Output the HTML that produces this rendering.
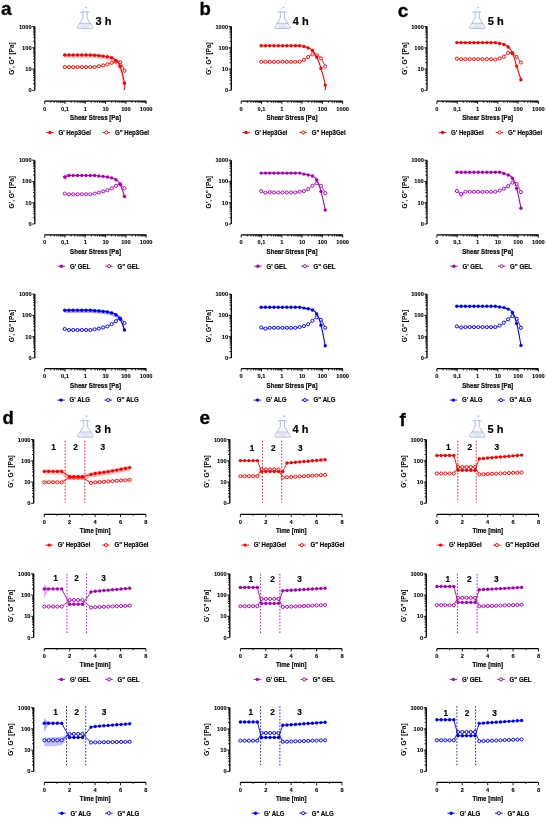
<!DOCTYPE html>
<html><head><meta charset="utf-8"><style>
html,body{margin:0;padding:0;background:#fff;width:546px;height:817px;overflow:hidden;position:relative}
svg text{font-family:"Liberation Sans", sans-serif}
svg{will-change:transform}
</style></head><body>
<svg width="546" height="817" viewBox="0 0 546 817" style="position:absolute;left:0;top:0;display:block" font-family='"Liberation Sans", sans-serif'>
<rect width="546" height="817" fill="#fff"/>
<text x="1.00" y="14.60" font-size="19" text-anchor="start" font-weight="bold" fill="#000" stroke="#000" stroke-width="0.3" >a</text>
<text x="199.40" y="14.60" font-size="18.5" text-anchor="start" font-weight="bold" fill="#000" stroke="#000" stroke-width="0.3" >b</text>
<text x="397.80" y="16.90" font-size="19" text-anchor="start" font-weight="bold" fill="#000" stroke="#000" stroke-width="0.3" >c</text>
<text x="2.40" y="424.30" font-size="18.5" text-anchor="start" font-weight="bold" fill="#000" stroke="#000" stroke-width="0.3" >d</text>
<text x="199.40" y="423.70" font-size="19" text-anchor="start" font-weight="bold" fill="#000" stroke="#000" stroke-width="0.3" >e</text>
<text x="399.60" y="426.00" font-size="18.5" text-anchor="start" font-weight="bold" fill="#000" stroke="#000" stroke-width="0.3" >f</text>
<g transform="translate(74.00,3.80)" fill="none" stroke="#9fb1dc" stroke-linejoin="round" stroke-linecap="round"><path d="M6.6 8.9 L7.2 8.1 H14.4 L15.0 8.9" stroke-width="0.85"/><path d="M8.9 8.4 V14.3 L3.6 23.3 Q3.0 24.6 4.4 24.6 H17.8 Q19.2 24.6 18.6 23.3 L13.1 14.3 V8.4" stroke-width="0.85"/><path d="M5.6 19.5 H16.6" stroke-width="0.8"/><path d="M7.0 20.9 H15.2 M6.2 22.3 H16.0 M7.6 23.5 H14.6" stroke-width="0.55" opacity="0.75"/></g><circle cx="86.10" cy="7.50" r="0.85" fill="#9fb1dc"/><circle cx="83.50" cy="9.30" r="0.5" fill="#9fb1dc"/>
<text x="95.60" y="25.10" font-size="11" text-anchor="start" font-weight="bold" fill="#000" stroke="#000" stroke-width="0.2" >3 h</text>
<g transform="translate(74.30,412.50)" fill="none" stroke="#9fb1dc" stroke-linejoin="round" stroke-linecap="round"><path d="M6.6 8.9 L7.2 8.1 H14.4 L15.0 8.9" stroke-width="0.85"/><path d="M8.9 8.4 V14.3 L3.6 23.3 Q3.0 24.6 4.4 24.6 H17.8 Q19.2 24.6 18.6 23.3 L13.1 14.3 V8.4" stroke-width="0.85"/><path d="M5.6 19.5 H16.6" stroke-width="0.8"/><path d="M7.0 20.9 H15.2 M6.2 22.3 H16.0 M7.6 23.5 H14.6" stroke-width="0.55" opacity="0.75"/></g><circle cx="86.40" cy="416.20" r="0.85" fill="#9fb1dc"/><circle cx="83.80" cy="418.00" r="0.5" fill="#9fb1dc"/>
<text x="95.00" y="432.90" font-size="11" text-anchor="start" font-weight="bold" fill="#000" stroke="#000" stroke-width="0.2" >3 h</text>
<g transform="translate(271.40,3.80)" fill="none" stroke="#9fb1dc" stroke-linejoin="round" stroke-linecap="round"><path d="M6.6 8.9 L7.2 8.1 H14.4 L15.0 8.9" stroke-width="0.85"/><path d="M8.9 8.4 V14.3 L3.6 23.3 Q3.0 24.6 4.4 24.6 H17.8 Q19.2 24.6 18.6 23.3 L13.1 14.3 V8.4" stroke-width="0.85"/><path d="M5.6 19.5 H16.6" stroke-width="0.8"/><path d="M7.0 20.9 H15.2 M6.2 22.3 H16.0 M7.6 23.5 H14.6" stroke-width="0.55" opacity="0.75"/></g><circle cx="283.50" cy="7.50" r="0.85" fill="#9fb1dc"/><circle cx="280.90" cy="9.30" r="0.5" fill="#9fb1dc"/>
<text x="292.80" y="25.10" font-size="11" text-anchor="start" font-weight="bold" fill="#000" stroke="#000" stroke-width="0.2" >4 h</text>
<g transform="translate(271.40,412.50)" fill="none" stroke="#9fb1dc" stroke-linejoin="round" stroke-linecap="round"><path d="M6.6 8.9 L7.2 8.1 H14.4 L15.0 8.9" stroke-width="0.85"/><path d="M8.9 8.4 V14.3 L3.6 23.3 Q3.0 24.6 4.4 24.6 H17.8 Q19.2 24.6 18.6 23.3 L13.1 14.3 V8.4" stroke-width="0.85"/><path d="M5.6 19.5 H16.6" stroke-width="0.8"/><path d="M7.0 20.9 H15.2 M6.2 22.3 H16.0 M7.6 23.5 H14.6" stroke-width="0.55" opacity="0.75"/></g><circle cx="283.50" cy="416.20" r="0.85" fill="#9fb1dc"/><circle cx="280.90" cy="418.00" r="0.5" fill="#9fb1dc"/>
<text x="292.60" y="432.90" font-size="11" text-anchor="start" font-weight="bold" fill="#000" stroke="#000" stroke-width="0.2" >4 h</text>
<g transform="translate(466.20,3.80)" fill="none" stroke="#9fb1dc" stroke-linejoin="round" stroke-linecap="round"><path d="M6.6 8.9 L7.2 8.1 H14.4 L15.0 8.9" stroke-width="0.85"/><path d="M8.9 8.4 V14.3 L3.6 23.3 Q3.0 24.6 4.4 24.6 H17.8 Q19.2 24.6 18.6 23.3 L13.1 14.3 V8.4" stroke-width="0.85"/><path d="M5.6 19.5 H16.6" stroke-width="0.8"/><path d="M7.0 20.9 H15.2 M6.2 22.3 H16.0 M7.6 23.5 H14.6" stroke-width="0.55" opacity="0.75"/></g><circle cx="478.30" cy="7.50" r="0.85" fill="#9fb1dc"/><circle cx="475.70" cy="9.30" r="0.5" fill="#9fb1dc"/>
<text x="487.80" y="25.10" font-size="11" text-anchor="start" font-weight="bold" fill="#000" stroke="#000" stroke-width="0.2" >5 h</text>
<g transform="translate(466.20,412.50)" fill="none" stroke="#9fb1dc" stroke-linejoin="round" stroke-linecap="round"><path d="M6.6 8.9 L7.2 8.1 H14.4 L15.0 8.9" stroke-width="0.85"/><path d="M8.9 8.4 V14.3 L3.6 23.3 Q3.0 24.6 4.4 24.6 H17.8 Q19.2 24.6 18.6 23.3 L13.1 14.3 V8.4" stroke-width="0.85"/><path d="M5.6 19.5 H16.6" stroke-width="0.8"/><path d="M7.0 20.9 H15.2 M6.2 22.3 H16.0 M7.6 23.5 H14.6" stroke-width="0.55" opacity="0.75"/></g><circle cx="478.30" cy="416.20" r="0.85" fill="#9fb1dc"/><circle cx="475.70" cy="418.00" r="0.5" fill="#9fb1dc"/>
<text x="487.60" y="432.90" font-size="11" text-anchor="start" font-weight="bold" fill="#000" stroke="#000" stroke-width="0.2" >5 h</text>
<path d="M34.80 26.50 V90.31" stroke="#000" stroke-width="1.3" fill="none"/>
<path d="M34.80 90.31 h-2.6 M34.80 83.91 h-1.7 M34.80 80.16 h-1.7 M34.80 77.50 h-1.7 M34.80 75.44 h-1.7 M34.80 73.76 h-1.7 M34.80 72.33 h-1.7 M34.80 71.10 h-1.7 M34.80 70.01 h-1.7 M34.80 69.04 h-2.6 M34.80 62.64 h-1.7 M34.80 58.89 h-1.7 M34.80 56.23 h-1.7 M34.80 54.17 h-1.7 M34.80 52.49 h-1.7 M34.80 51.06 h-1.7 M34.80 49.83 h-1.7 M34.80 48.74 h-1.7 M34.80 47.77 h-2.6 M34.80 41.37 h-1.7 M34.80 37.62 h-1.7 M34.80 34.96 h-1.7 M34.80 32.90 h-1.7 M34.80 31.22 h-1.7 M34.80 29.79 h-1.7 M34.80 28.56 h-1.7 M34.80 27.47 h-1.7 M34.80 26.50 h-2.6 " stroke="#000" stroke-width="0.9" fill="none"/>
<text x="31.60" y="28.50" font-size="5.7" text-anchor="end" font-weight="bold" fill="#000" stroke="#000" stroke-width="0.1" >1000</text>
<text x="31.60" y="49.77" font-size="5.7" text-anchor="end" font-weight="bold" fill="#000" stroke="#000" stroke-width="0.1" >100</text>
<text x="31.60" y="71.04" font-size="5.7" text-anchor="end" font-weight="bold" fill="#000" stroke="#000" stroke-width="0.1" >10</text>
<text x="31.60" y="92.31" font-size="5.7" text-anchor="end" font-weight="bold" fill="#000" stroke="#000" stroke-width="0.1" >0</text>
<text transform="translate(14.40,58.50) rotate(-90)" font-size="6.5" text-anchor="middle" font-weight="bold">G', G" [Pa]</text>
<path d="M44.70 101.10 H146.20" stroke="#000" stroke-width="1.3" fill="none"/>
<path d="M44.70 101.10 v2.8 M50.81 101.10 v1.7 M54.39 101.10 v1.7 M56.92 101.10 v1.7 M58.89 101.10 v1.7 M60.50 101.10 v1.7 M61.86 101.10 v1.7 M63.03 101.10 v1.7 M64.07 101.10 v1.7 M65.00 101.10 v2.8 M71.11 101.10 v1.7 M74.69 101.10 v1.7 M77.22 101.10 v1.7 M79.19 101.10 v1.7 M80.80 101.10 v1.7 M82.16 101.10 v1.7 M83.33 101.10 v1.7 M84.37 101.10 v1.7 M85.30 101.10 v2.8 M91.41 101.10 v1.7 M94.99 101.10 v1.7 M97.52 101.10 v1.7 M99.49 101.10 v1.7 M101.10 101.10 v1.7 M102.46 101.10 v1.7 M103.63 101.10 v1.7 M104.67 101.10 v1.7 M105.60 101.10 v2.8 M111.71 101.10 v1.7 M115.29 101.10 v1.7 M117.82 101.10 v1.7 M119.79 101.10 v1.7 M121.40 101.10 v1.7 M122.76 101.10 v1.7 M123.93 101.10 v1.7 M124.97 101.10 v1.7 M125.90 101.10 v2.8 M132.01 101.10 v1.7 M135.59 101.10 v1.7 M138.12 101.10 v1.7 M140.09 101.10 v1.7 M141.70 101.10 v1.7 M143.06 101.10 v1.7 M144.23 101.10 v1.7 M145.27 101.10 v1.7 M146.20 101.10 v2.8 " stroke="#000" stroke-width="0.9" fill="none"/>
<text x="44.70" y="110.50" font-size="5.7" text-anchor="middle" font-weight="bold" fill="#000" stroke="#000" stroke-width="0.1" >0</text>
<text x="65.00" y="110.50" font-size="5.7" text-anchor="middle" font-weight="bold" fill="#000" stroke="#000" stroke-width="0.1" >0,1</text>
<text x="85.30" y="110.50" font-size="5.7" text-anchor="middle" font-weight="bold" fill="#000" stroke="#000" stroke-width="0.1" >1</text>
<text x="105.60" y="110.50" font-size="5.7" text-anchor="middle" font-weight="bold" fill="#000" stroke="#000" stroke-width="0.1" >10</text>
<text x="125.90" y="110.50" font-size="5.7" text-anchor="middle" font-weight="bold" fill="#000" stroke="#000" stroke-width="0.1" >100</text>
<text x="146.20" y="110.50" font-size="5.7" text-anchor="middle" font-weight="bold" fill="#000" stroke="#000" stroke-width="0.1" >1000</text>
<text transform="translate(95.50,120.00) scale(1,1.2)" font-size="6.15" text-anchor="middle" font-weight="bold" fill="#000" stroke="#000" stroke-width="0.15" >Shear Stress [Pa]</text>
<path d="M46.10 132.50 H53.70" stroke="#ff0000" stroke-width="0.9"/>
<circle cx="49.90" cy="132.50" r="1.7" fill="#ff0000"/>
<text transform="translate(58.50,134.80) scale(1,1.2)" font-size="6.1" text-anchor="start" font-weight="bold" fill="#000" stroke="#000" stroke-width="0.15" >G' Hep3Gel</text>
<path d="M102.60 132.50 H110.20" stroke="#ff0000" stroke-width="0.9"/>
<circle cx="106.40" cy="132.50" r="1.55" fill="#fff" stroke="#ff0000" stroke-width="0.95"/>
<text transform="translate(115.00,134.80) scale(1,1.2)" font-size="6.1" text-anchor="start" font-weight="bold" fill="#000" stroke="#000" stroke-width="0.15" >G&quot; Hep3Gel</text>
<path d="M64.70 54.00 L68.97 54.00 L73.24 54.00 L77.51 54.00 L81.78 54.00 L86.05 54.00 L90.32 54.00 L94.59 54.30 L98.86 54.60 L103.13 55.10 L107.40 55.70 L111.67 56.80 L115.94 59.40 L120.21 65.20 L124.48 82.20 L124.48 89.20 L120.21 71.20 L115.94 64.40 L111.67 61.30 L107.40 59.50 L103.13 58.90 L98.86 58.40 L94.59 58.10 L90.32 57.80 L86.05 57.80 L81.78 57.80 L77.51 57.80 L73.24 57.80 L68.97 57.80 L64.70 57.80Z" fill="#ff8080" opacity="0.5"/>
<path d="M64.70 66.30 L68.97 66.30 L73.24 66.30 L77.51 66.30 L81.78 66.30 L86.05 66.30 L90.32 66.30 L94.59 66.30 L98.86 65.40 L103.13 64.70 L107.40 63.60 L111.67 62.10 L115.94 60.70 L120.21 61.40 L124.48 70.00 L124.48 71.60 L120.21 63.00 L115.94 62.30 L111.67 63.70 L107.40 65.20 L103.13 66.30 L98.86 67.00 L94.59 67.90 L90.32 67.90 L86.05 67.90 L81.78 67.90 L77.51 67.90 L73.24 67.90 L68.97 67.90 L64.70 67.90Z" fill="#ff8080" opacity="0.3"/>
<path d="M64.70 67.10 C65.84 67.10 66.69 67.10 68.97 67.10 C71.25 67.10 70.96 67.10 73.24 67.10 C75.52 67.10 75.23 67.10 77.51 67.10 C79.79 67.10 79.50 67.10 81.78 67.10 C84.06 67.10 83.77 67.10 86.05 67.10 C88.33 67.10 88.04 67.10 90.32 67.10 C92.60 67.10 92.31 67.34 94.59 67.10 C96.87 66.86 96.58 66.63 98.86 66.20 C101.14 65.77 100.85 65.98 103.13 65.50 C105.41 65.02 105.12 65.09 107.40 64.40 C109.68 63.71 109.39 63.67 111.67 62.90 C113.95 62.13 113.66 61.69 115.94 61.50 C118.22 61.31 117.93 59.72 120.21 62.20 C122.49 64.68 123.34 68.51 124.48 70.80" stroke="#ff0000" stroke-width="0.9" fill="none" stroke-linejoin="round"/><circle cx="64.70" cy="67.10" r="1.55" fill="#fff" stroke="#ff0000" stroke-width="0.95"/><circle cx="68.97" cy="67.10" r="1.55" fill="#fff" stroke="#ff0000" stroke-width="0.95"/><circle cx="73.24" cy="67.10" r="1.55" fill="#fff" stroke="#ff0000" stroke-width="0.95"/><circle cx="77.51" cy="67.10" r="1.55" fill="#fff" stroke="#ff0000" stroke-width="0.95"/><circle cx="81.78" cy="67.10" r="1.55" fill="#fff" stroke="#ff0000" stroke-width="0.95"/><circle cx="86.05" cy="67.10" r="1.55" fill="#fff" stroke="#ff0000" stroke-width="0.95"/><circle cx="90.32" cy="67.10" r="1.55" fill="#fff" stroke="#ff0000" stroke-width="0.95"/><circle cx="94.59" cy="67.10" r="1.55" fill="#fff" stroke="#ff0000" stroke-width="0.95"/><circle cx="98.86" cy="66.20" r="1.55" fill="#fff" stroke="#ff0000" stroke-width="0.95"/><circle cx="103.13" cy="65.50" r="1.55" fill="#fff" stroke="#ff0000" stroke-width="0.95"/><circle cx="107.40" cy="64.40" r="1.55" fill="#fff" stroke="#ff0000" stroke-width="0.95"/><circle cx="111.67" cy="62.90" r="1.55" fill="#fff" stroke="#ff0000" stroke-width="0.95"/><circle cx="115.94" cy="61.50" r="1.55" fill="#fff" stroke="#ff0000" stroke-width="0.95"/><circle cx="120.21" cy="62.20" r="1.55" fill="#fff" stroke="#ff0000" stroke-width="0.95"/><circle cx="124.48" cy="70.80" r="1.55" fill="#fff" stroke="#ff0000" stroke-width="0.95"/>
<path d="M64.70 55.00 C65.84 55.00 66.69 55.00 68.97 55.00 C71.25 55.00 70.96 55.00 73.24 55.00 C75.52 55.00 75.23 55.00 77.51 55.00 C79.79 55.00 79.50 55.00 81.78 55.00 C84.06 55.00 83.77 55.00 86.05 55.00 C88.33 55.00 88.04 54.92 90.32 55.00 C92.60 55.08 92.31 55.14 94.59 55.30 C96.87 55.46 96.58 55.39 98.86 55.60 C101.14 55.81 100.85 55.81 103.13 56.10 C105.41 56.39 105.12 56.25 107.40 56.70 C109.68 57.15 109.39 56.81 111.67 57.80 C113.95 58.79 113.66 58.16 115.94 60.40 C118.22 62.64 117.93 60.12 120.21 66.20 C122.49 72.28 123.47 76.85 124.48 83.20 C125.49 89.55 124.11 88.19 123.98 90.00" stroke="#ff0000" stroke-width="1.1" fill="none" stroke-linejoin="round"/><circle cx="64.70" cy="55.00" r="1.7" fill="#ff0000"/><circle cx="68.97" cy="55.00" r="1.7" fill="#ff0000"/><circle cx="73.24" cy="55.00" r="1.7" fill="#ff0000"/><circle cx="77.51" cy="55.00" r="1.7" fill="#ff0000"/><circle cx="81.78" cy="55.00" r="1.7" fill="#ff0000"/><circle cx="86.05" cy="55.00" r="1.7" fill="#ff0000"/><circle cx="90.32" cy="55.00" r="1.7" fill="#ff0000"/><circle cx="94.59" cy="55.30" r="1.7" fill="#ff0000"/><circle cx="98.86" cy="55.60" r="1.7" fill="#ff0000"/><circle cx="103.13" cy="56.10" r="1.7" fill="#ff0000"/><circle cx="107.40" cy="56.70" r="1.7" fill="#ff0000"/><circle cx="111.67" cy="57.80" r="1.7" fill="#ff0000"/><circle cx="115.94" cy="60.40" r="1.7" fill="#ff0000"/><circle cx="120.21" cy="66.20" r="1.7" fill="#ff0000"/><circle cx="124.48" cy="83.20" r="1.7" fill="#ff0000"/>
<path d="M231.30 26.50 V90.31" stroke="#000" stroke-width="1.3" fill="none"/>
<path d="M231.30 90.31 h-2.6 M231.30 83.91 h-1.7 M231.30 80.16 h-1.7 M231.30 77.50 h-1.7 M231.30 75.44 h-1.7 M231.30 73.76 h-1.7 M231.30 72.33 h-1.7 M231.30 71.10 h-1.7 M231.30 70.01 h-1.7 M231.30 69.04 h-2.6 M231.30 62.64 h-1.7 M231.30 58.89 h-1.7 M231.30 56.23 h-1.7 M231.30 54.17 h-1.7 M231.30 52.49 h-1.7 M231.30 51.06 h-1.7 M231.30 49.83 h-1.7 M231.30 48.74 h-1.7 M231.30 47.77 h-2.6 M231.30 41.37 h-1.7 M231.30 37.62 h-1.7 M231.30 34.96 h-1.7 M231.30 32.90 h-1.7 M231.30 31.22 h-1.7 M231.30 29.79 h-1.7 M231.30 28.56 h-1.7 M231.30 27.47 h-1.7 M231.30 26.50 h-2.6 " stroke="#000" stroke-width="0.9" fill="none"/>
<text x="228.10" y="28.50" font-size="5.7" text-anchor="end" font-weight="bold" fill="#000" stroke="#000" stroke-width="0.1" >1000</text>
<text x="228.10" y="49.77" font-size="5.7" text-anchor="end" font-weight="bold" fill="#000" stroke="#000" stroke-width="0.1" >100</text>
<text x="228.10" y="71.04" font-size="5.7" text-anchor="end" font-weight="bold" fill="#000" stroke="#000" stroke-width="0.1" >10</text>
<text x="228.10" y="92.31" font-size="5.7" text-anchor="end" font-weight="bold" fill="#000" stroke="#000" stroke-width="0.1" >0</text>
<text transform="translate(210.90,58.50) rotate(-90)" font-size="6.5" text-anchor="middle" font-weight="bold">G', G" [Pa]</text>
<path d="M241.20 101.10 H342.70" stroke="#000" stroke-width="1.3" fill="none"/>
<path d="M241.20 101.10 v2.8 M247.31 101.10 v1.7 M250.89 101.10 v1.7 M253.42 101.10 v1.7 M255.39 101.10 v1.7 M257.00 101.10 v1.7 M258.36 101.10 v1.7 M259.53 101.10 v1.7 M260.57 101.10 v1.7 M261.50 101.10 v2.8 M267.61 101.10 v1.7 M271.19 101.10 v1.7 M273.72 101.10 v1.7 M275.69 101.10 v1.7 M277.30 101.10 v1.7 M278.66 101.10 v1.7 M279.83 101.10 v1.7 M280.87 101.10 v1.7 M281.80 101.10 v2.8 M287.91 101.10 v1.7 M291.49 101.10 v1.7 M294.02 101.10 v1.7 M295.99 101.10 v1.7 M297.60 101.10 v1.7 M298.96 101.10 v1.7 M300.13 101.10 v1.7 M301.17 101.10 v1.7 M302.10 101.10 v2.8 M308.21 101.10 v1.7 M311.79 101.10 v1.7 M314.32 101.10 v1.7 M316.29 101.10 v1.7 M317.90 101.10 v1.7 M319.26 101.10 v1.7 M320.43 101.10 v1.7 M321.47 101.10 v1.7 M322.40 101.10 v2.8 M328.51 101.10 v1.7 M332.09 101.10 v1.7 M334.62 101.10 v1.7 M336.59 101.10 v1.7 M338.20 101.10 v1.7 M339.56 101.10 v1.7 M340.73 101.10 v1.7 M341.77 101.10 v1.7 M342.70 101.10 v2.8 " stroke="#000" stroke-width="0.9" fill="none"/>
<text x="241.20" y="110.50" font-size="5.7" text-anchor="middle" font-weight="bold" fill="#000" stroke="#000" stroke-width="0.1" >0</text>
<text x="261.50" y="110.50" font-size="5.7" text-anchor="middle" font-weight="bold" fill="#000" stroke="#000" stroke-width="0.1" >0,1</text>
<text x="281.80" y="110.50" font-size="5.7" text-anchor="middle" font-weight="bold" fill="#000" stroke="#000" stroke-width="0.1" >1</text>
<text x="302.10" y="110.50" font-size="5.7" text-anchor="middle" font-weight="bold" fill="#000" stroke="#000" stroke-width="0.1" >10</text>
<text x="322.40" y="110.50" font-size="5.7" text-anchor="middle" font-weight="bold" fill="#000" stroke="#000" stroke-width="0.1" >100</text>
<text x="342.70" y="110.50" font-size="5.7" text-anchor="middle" font-weight="bold" fill="#000" stroke="#000" stroke-width="0.1" >1000</text>
<text transform="translate(292.00,120.00) scale(1,1.2)" font-size="6.15" text-anchor="middle" font-weight="bold" fill="#000" stroke="#000" stroke-width="0.15" >Shear Stress [Pa]</text>
<path d="M242.30 132.50 H249.90" stroke="#ff0000" stroke-width="0.9"/>
<circle cx="246.10" cy="132.50" r="1.7" fill="#ff0000"/>
<text transform="translate(254.70,134.80) scale(1,1.2)" font-size="6.1" text-anchor="start" font-weight="bold" fill="#000" stroke="#000" stroke-width="0.15" >G' Hep3Gel</text>
<path d="M299.30 132.50 H306.90" stroke="#ff0000" stroke-width="0.9"/>
<circle cx="303.10" cy="132.50" r="1.55" fill="#fff" stroke="#ff0000" stroke-width="0.95"/>
<text transform="translate(311.70,134.80) scale(1,1.2)" font-size="6.1" text-anchor="start" font-weight="bold" fill="#000" stroke="#000" stroke-width="0.15" >G&quot; Hep3Gel</text>
<path d="M261.20 61.80 C262.34 61.80 263.19 61.80 265.47 61.80 C267.75 61.80 267.46 61.80 269.74 61.80 C272.02 61.80 271.73 61.80 274.01 61.80 C276.29 61.80 276.00 61.80 278.28 61.80 C280.56 61.80 280.27 61.80 282.55 61.80 C284.83 61.80 284.54 61.80 286.82 61.80 C289.10 61.80 288.81 61.80 291.09 61.80 C293.37 61.80 293.08 61.80 295.36 61.80 C297.64 61.80 297.35 62.31 299.63 61.80 C301.91 61.29 301.62 61.18 303.90 59.90 C306.18 58.62 305.89 58.49 308.17 57.00 C310.45 55.51 310.16 54.78 312.44 54.30 C314.72 53.82 314.43 54.11 316.71 55.20 C318.99 56.29 318.70 55.39 320.98 58.40 C323.26 61.41 324.11 64.34 325.25 66.50" stroke="#ff0000" stroke-width="0.9" fill="none" stroke-linejoin="round"/><circle cx="261.20" cy="61.80" r="1.55" fill="#fff" stroke="#ff0000" stroke-width="0.95"/><circle cx="265.47" cy="61.80" r="1.55" fill="#fff" stroke="#ff0000" stroke-width="0.95"/><circle cx="269.74" cy="61.80" r="1.55" fill="#fff" stroke="#ff0000" stroke-width="0.95"/><circle cx="274.01" cy="61.80" r="1.55" fill="#fff" stroke="#ff0000" stroke-width="0.95"/><circle cx="278.28" cy="61.80" r="1.55" fill="#fff" stroke="#ff0000" stroke-width="0.95"/><circle cx="282.55" cy="61.80" r="1.55" fill="#fff" stroke="#ff0000" stroke-width="0.95"/><circle cx="286.82" cy="61.80" r="1.55" fill="#fff" stroke="#ff0000" stroke-width="0.95"/><circle cx="291.09" cy="61.80" r="1.55" fill="#fff" stroke="#ff0000" stroke-width="0.95"/><circle cx="295.36" cy="61.80" r="1.55" fill="#fff" stroke="#ff0000" stroke-width="0.95"/><circle cx="299.63" cy="61.80" r="1.55" fill="#fff" stroke="#ff0000" stroke-width="0.95"/><circle cx="303.90" cy="59.90" r="1.55" fill="#fff" stroke="#ff0000" stroke-width="0.95"/><circle cx="308.17" cy="57.00" r="1.55" fill="#fff" stroke="#ff0000" stroke-width="0.95"/><circle cx="312.44" cy="54.30" r="1.55" fill="#fff" stroke="#ff0000" stroke-width="0.95"/><circle cx="316.71" cy="55.20" r="1.55" fill="#fff" stroke="#ff0000" stroke-width="0.95"/><circle cx="320.98" cy="58.40" r="1.55" fill="#fff" stroke="#ff0000" stroke-width="0.95"/><circle cx="325.25" cy="66.50" r="1.55" fill="#fff" stroke="#ff0000" stroke-width="0.95"/>
<path d="M261.20 45.70 C262.34 45.70 263.19 45.70 265.47 45.70 C267.75 45.70 267.46 45.70 269.74 45.70 C272.02 45.70 271.73 45.70 274.01 45.70 C276.29 45.70 276.00 45.70 278.28 45.70 C280.56 45.70 280.27 45.70 282.55 45.70 C284.83 45.70 284.54 45.70 286.82 45.70 C289.10 45.70 288.81 45.70 291.09 45.70 C293.37 45.70 293.08 45.70 295.36 45.70 C297.64 45.70 297.35 45.51 299.63 45.70 C301.91 45.89 301.62 45.81 303.90 46.40 C306.18 46.99 305.89 46.83 308.17 47.90 C310.45 48.97 310.16 47.97 312.44 50.40 C314.72 52.83 314.43 52.20 316.71 57.00 C318.99 61.80 318.70 60.91 320.98 68.40 C323.26 75.89 324.24 79.34 325.25 85.10 C326.26 90.86 324.88 88.69 324.75 90.00" stroke="#ff0000" stroke-width="1.1" fill="none" stroke-linejoin="round"/><circle cx="261.20" cy="45.70" r="1.7" fill="#ff0000"/><circle cx="265.47" cy="45.70" r="1.7" fill="#ff0000"/><circle cx="269.74" cy="45.70" r="1.7" fill="#ff0000"/><circle cx="274.01" cy="45.70" r="1.7" fill="#ff0000"/><circle cx="278.28" cy="45.70" r="1.7" fill="#ff0000"/><circle cx="282.55" cy="45.70" r="1.7" fill="#ff0000"/><circle cx="286.82" cy="45.70" r="1.7" fill="#ff0000"/><circle cx="291.09" cy="45.70" r="1.7" fill="#ff0000"/><circle cx="295.36" cy="45.70" r="1.7" fill="#ff0000"/><circle cx="299.63" cy="45.70" r="1.7" fill="#ff0000"/><circle cx="303.90" cy="46.40" r="1.7" fill="#ff0000"/><circle cx="308.17" cy="47.90" r="1.7" fill="#ff0000"/><circle cx="312.44" cy="50.40" r="1.7" fill="#ff0000"/><circle cx="316.71" cy="57.00" r="1.7" fill="#ff0000"/><circle cx="320.98" cy="68.40" r="1.7" fill="#ff0000"/><circle cx="325.25" cy="85.10" r="1.7" fill="#ff0000"/>
<path d="M427.00 26.50 V90.31" stroke="#000" stroke-width="1.3" fill="none"/>
<path d="M427.00 90.31 h-2.6 M427.00 83.91 h-1.7 M427.00 80.16 h-1.7 M427.00 77.50 h-1.7 M427.00 75.44 h-1.7 M427.00 73.76 h-1.7 M427.00 72.33 h-1.7 M427.00 71.10 h-1.7 M427.00 70.01 h-1.7 M427.00 69.04 h-2.6 M427.00 62.64 h-1.7 M427.00 58.89 h-1.7 M427.00 56.23 h-1.7 M427.00 54.17 h-1.7 M427.00 52.49 h-1.7 M427.00 51.06 h-1.7 M427.00 49.83 h-1.7 M427.00 48.74 h-1.7 M427.00 47.77 h-2.6 M427.00 41.37 h-1.7 M427.00 37.62 h-1.7 M427.00 34.96 h-1.7 M427.00 32.90 h-1.7 M427.00 31.22 h-1.7 M427.00 29.79 h-1.7 M427.00 28.56 h-1.7 M427.00 27.47 h-1.7 M427.00 26.50 h-2.6 " stroke="#000" stroke-width="0.9" fill="none"/>
<text x="423.80" y="28.50" font-size="5.7" text-anchor="end" font-weight="bold" fill="#000" stroke="#000" stroke-width="0.1" >1000</text>
<text x="423.80" y="49.77" font-size="5.7" text-anchor="end" font-weight="bold" fill="#000" stroke="#000" stroke-width="0.1" >100</text>
<text x="423.80" y="71.04" font-size="5.7" text-anchor="end" font-weight="bold" fill="#000" stroke="#000" stroke-width="0.1" >10</text>
<text x="423.80" y="92.31" font-size="5.7" text-anchor="end" font-weight="bold" fill="#000" stroke="#000" stroke-width="0.1" >0</text>
<text transform="translate(406.60,58.50) rotate(-90)" font-size="6.5" text-anchor="middle" font-weight="bold">G', G" [Pa]</text>
<path d="M436.90 101.10 H538.40" stroke="#000" stroke-width="1.3" fill="none"/>
<path d="M436.90 101.10 v2.8 M443.01 101.10 v1.7 M446.59 101.10 v1.7 M449.12 101.10 v1.7 M451.09 101.10 v1.7 M452.70 101.10 v1.7 M454.06 101.10 v1.7 M455.23 101.10 v1.7 M456.27 101.10 v1.7 M457.20 101.10 v2.8 M463.31 101.10 v1.7 M466.89 101.10 v1.7 M469.42 101.10 v1.7 M471.39 101.10 v1.7 M473.00 101.10 v1.7 M474.36 101.10 v1.7 M475.53 101.10 v1.7 M476.57 101.10 v1.7 M477.50 101.10 v2.8 M483.61 101.10 v1.7 M487.19 101.10 v1.7 M489.72 101.10 v1.7 M491.69 101.10 v1.7 M493.30 101.10 v1.7 M494.66 101.10 v1.7 M495.83 101.10 v1.7 M496.87 101.10 v1.7 M497.80 101.10 v2.8 M503.91 101.10 v1.7 M507.49 101.10 v1.7 M510.02 101.10 v1.7 M511.99 101.10 v1.7 M513.60 101.10 v1.7 M514.96 101.10 v1.7 M516.13 101.10 v1.7 M517.17 101.10 v1.7 M518.10 101.10 v2.8 M524.21 101.10 v1.7 M527.79 101.10 v1.7 M530.32 101.10 v1.7 M532.29 101.10 v1.7 M533.90 101.10 v1.7 M535.26 101.10 v1.7 M536.43 101.10 v1.7 M537.47 101.10 v1.7 M538.40 101.10 v2.8 " stroke="#000" stroke-width="0.9" fill="none"/>
<text x="436.90" y="110.50" font-size="5.7" text-anchor="middle" font-weight="bold" fill="#000" stroke="#000" stroke-width="0.1" >0</text>
<text x="457.20" y="110.50" font-size="5.7" text-anchor="middle" font-weight="bold" fill="#000" stroke="#000" stroke-width="0.1" >0,1</text>
<text x="477.50" y="110.50" font-size="5.7" text-anchor="middle" font-weight="bold" fill="#000" stroke="#000" stroke-width="0.1" >1</text>
<text x="497.80" y="110.50" font-size="5.7" text-anchor="middle" font-weight="bold" fill="#000" stroke="#000" stroke-width="0.1" >10</text>
<text x="518.10" y="110.50" font-size="5.7" text-anchor="middle" font-weight="bold" fill="#000" stroke="#000" stroke-width="0.1" >100</text>
<text x="538.40" y="110.50" font-size="5.7" text-anchor="middle" font-weight="bold" fill="#000" stroke="#000" stroke-width="0.1" >1000</text>
<text transform="translate(487.70,120.00) scale(1,1.2)" font-size="6.15" text-anchor="middle" font-weight="bold" fill="#000" stroke="#000" stroke-width="0.15" >Shear Stress [Pa]</text>
<path d="M438.70 132.50 H446.30" stroke="#ff0000" stroke-width="0.9"/>
<circle cx="442.50" cy="132.50" r="1.7" fill="#ff0000"/>
<text transform="translate(451.10,134.80) scale(1,1.2)" font-size="6.1" text-anchor="start" font-weight="bold" fill="#000" stroke="#000" stroke-width="0.15" >G' Hep3Gel</text>
<path d="M495.70 132.50 H503.30" stroke="#ff0000" stroke-width="0.9"/>
<circle cx="499.50" cy="132.50" r="1.55" fill="#fff" stroke="#ff0000" stroke-width="0.95"/>
<text transform="translate(508.10,134.80) scale(1,1.2)" font-size="6.1" text-anchor="start" font-weight="bold" fill="#000" stroke="#000" stroke-width="0.15" >G&quot; Hep3Gel</text>
<path d="M456.90 58.70 C458.04 58.83 458.89 59.07 461.17 59.20 C463.45 59.33 463.16 59.20 465.44 59.20 C467.72 59.20 467.43 59.20 469.71 59.20 C471.99 59.20 471.70 59.20 473.98 59.20 C476.26 59.20 475.97 59.20 478.25 59.20 C480.53 59.20 480.24 59.20 482.52 59.20 C484.80 59.20 484.51 59.20 486.79 59.20 C489.07 59.20 488.78 59.09 491.06 59.20 C493.34 59.31 493.05 59.81 495.33 59.60 C497.61 59.39 497.32 59.17 499.60 58.40 C501.88 57.63 501.59 58.17 503.87 56.70 C506.15 55.23 505.86 53.81 508.14 52.90 C510.42 51.99 510.13 52.21 512.41 53.30 C514.69 54.39 514.40 54.55 516.68 57.00 C518.96 59.45 519.81 61.03 520.95 62.50" stroke="#ff0000" stroke-width="0.9" fill="none" stroke-linejoin="round"/><circle cx="456.90" cy="58.70" r="1.55" fill="#fff" stroke="#ff0000" stroke-width="0.95"/><circle cx="461.17" cy="59.20" r="1.55" fill="#fff" stroke="#ff0000" stroke-width="0.95"/><circle cx="465.44" cy="59.20" r="1.55" fill="#fff" stroke="#ff0000" stroke-width="0.95"/><circle cx="469.71" cy="59.20" r="1.55" fill="#fff" stroke="#ff0000" stroke-width="0.95"/><circle cx="473.98" cy="59.20" r="1.55" fill="#fff" stroke="#ff0000" stroke-width="0.95"/><circle cx="478.25" cy="59.20" r="1.55" fill="#fff" stroke="#ff0000" stroke-width="0.95"/><circle cx="482.52" cy="59.20" r="1.55" fill="#fff" stroke="#ff0000" stroke-width="0.95"/><circle cx="486.79" cy="59.20" r="1.55" fill="#fff" stroke="#ff0000" stroke-width="0.95"/><circle cx="491.06" cy="59.20" r="1.55" fill="#fff" stroke="#ff0000" stroke-width="0.95"/><circle cx="495.33" cy="59.60" r="1.55" fill="#fff" stroke="#ff0000" stroke-width="0.95"/><circle cx="499.60" cy="58.40" r="1.55" fill="#fff" stroke="#ff0000" stroke-width="0.95"/><circle cx="503.87" cy="56.70" r="1.55" fill="#fff" stroke="#ff0000" stroke-width="0.95"/><circle cx="508.14" cy="52.90" r="1.55" fill="#fff" stroke="#ff0000" stroke-width="0.95"/><circle cx="512.41" cy="53.30" r="1.55" fill="#fff" stroke="#ff0000" stroke-width="0.95"/><circle cx="516.68" cy="57.00" r="1.55" fill="#fff" stroke="#ff0000" stroke-width="0.95"/><circle cx="520.95" cy="62.50" r="1.55" fill="#fff" stroke="#ff0000" stroke-width="0.95"/>
<path d="M456.90 42.60 C458.04 42.60 458.89 42.60 461.17 42.60 C463.45 42.60 463.16 42.60 465.44 42.60 C467.72 42.60 467.43 42.60 469.71 42.60 C471.99 42.60 471.70 42.60 473.98 42.60 C476.26 42.60 475.97 42.60 478.25 42.60 C480.53 42.60 480.24 42.60 482.52 42.60 C484.80 42.60 484.51 42.60 486.79 42.60 C489.07 42.60 488.78 42.60 491.06 42.60 C493.34 42.60 493.05 42.36 495.33 42.60 C497.61 42.84 497.32 42.99 499.60 43.50 C501.88 44.01 501.59 43.57 503.87 44.50 C506.15 45.43 505.86 44.76 508.14 47.00 C510.42 49.24 510.13 47.81 512.41 52.90 C514.69 57.99 514.40 58.95 516.68 66.10 C518.96 73.25 519.81 76.07 520.95 79.70" stroke="#ff0000" stroke-width="1.1" fill="none" stroke-linejoin="round"/><circle cx="456.90" cy="42.60" r="1.7" fill="#ff0000"/><circle cx="461.17" cy="42.60" r="1.7" fill="#ff0000"/><circle cx="465.44" cy="42.60" r="1.7" fill="#ff0000"/><circle cx="469.71" cy="42.60" r="1.7" fill="#ff0000"/><circle cx="473.98" cy="42.60" r="1.7" fill="#ff0000"/><circle cx="478.25" cy="42.60" r="1.7" fill="#ff0000"/><circle cx="482.52" cy="42.60" r="1.7" fill="#ff0000"/><circle cx="486.79" cy="42.60" r="1.7" fill="#ff0000"/><circle cx="491.06" cy="42.60" r="1.7" fill="#ff0000"/><circle cx="495.33" cy="42.60" r="1.7" fill="#ff0000"/><circle cx="499.60" cy="43.50" r="1.7" fill="#ff0000"/><circle cx="503.87" cy="44.50" r="1.7" fill="#ff0000"/><circle cx="508.14" cy="47.00" r="1.7" fill="#ff0000"/><circle cx="512.41" cy="52.90" r="1.7" fill="#ff0000"/><circle cx="516.68" cy="66.10" r="1.7" fill="#ff0000"/><circle cx="520.95" cy="79.70" r="1.7" fill="#ff0000"/>
<path d="M34.80 160.20 V224.01" stroke="#000" stroke-width="1.3" fill="none"/>
<path d="M34.80 224.01 h-2.6 M34.80 217.61 h-1.7 M34.80 213.86 h-1.7 M34.80 211.20 h-1.7 M34.80 209.14 h-1.7 M34.80 207.46 h-1.7 M34.80 206.03 h-1.7 M34.80 204.80 h-1.7 M34.80 203.71 h-1.7 M34.80 202.74 h-2.6 M34.80 196.34 h-1.7 M34.80 192.59 h-1.7 M34.80 189.93 h-1.7 M34.80 187.87 h-1.7 M34.80 186.19 h-1.7 M34.80 184.76 h-1.7 M34.80 183.53 h-1.7 M34.80 182.44 h-1.7 M34.80 181.47 h-2.6 M34.80 175.07 h-1.7 M34.80 171.32 h-1.7 M34.80 168.66 h-1.7 M34.80 166.60 h-1.7 M34.80 164.92 h-1.7 M34.80 163.49 h-1.7 M34.80 162.26 h-1.7 M34.80 161.17 h-1.7 M34.80 160.20 h-2.6 " stroke="#000" stroke-width="0.9" fill="none"/>
<text x="31.60" y="162.20" font-size="5.7" text-anchor="end" font-weight="bold" fill="#000" stroke="#000" stroke-width="0.1" >1000</text>
<text x="31.60" y="183.47" font-size="5.7" text-anchor="end" font-weight="bold" fill="#000" stroke="#000" stroke-width="0.1" >100</text>
<text x="31.60" y="204.74" font-size="5.7" text-anchor="end" font-weight="bold" fill="#000" stroke="#000" stroke-width="0.1" >10</text>
<text x="31.60" y="226.01" font-size="5.7" text-anchor="end" font-weight="bold" fill="#000" stroke="#000" stroke-width="0.1" >0</text>
<text transform="translate(14.40,192.20) rotate(-90)" font-size="6.5" text-anchor="middle" font-weight="bold">G', G" [Pa]</text>
<path d="M44.70 234.80 H146.20" stroke="#000" stroke-width="1.3" fill="none"/>
<path d="M44.70 234.80 v2.8 M50.81 234.80 v1.7 M54.39 234.80 v1.7 M56.92 234.80 v1.7 M58.89 234.80 v1.7 M60.50 234.80 v1.7 M61.86 234.80 v1.7 M63.03 234.80 v1.7 M64.07 234.80 v1.7 M65.00 234.80 v2.8 M71.11 234.80 v1.7 M74.69 234.80 v1.7 M77.22 234.80 v1.7 M79.19 234.80 v1.7 M80.80 234.80 v1.7 M82.16 234.80 v1.7 M83.33 234.80 v1.7 M84.37 234.80 v1.7 M85.30 234.80 v2.8 M91.41 234.80 v1.7 M94.99 234.80 v1.7 M97.52 234.80 v1.7 M99.49 234.80 v1.7 M101.10 234.80 v1.7 M102.46 234.80 v1.7 M103.63 234.80 v1.7 M104.67 234.80 v1.7 M105.60 234.80 v2.8 M111.71 234.80 v1.7 M115.29 234.80 v1.7 M117.82 234.80 v1.7 M119.79 234.80 v1.7 M121.40 234.80 v1.7 M122.76 234.80 v1.7 M123.93 234.80 v1.7 M124.97 234.80 v1.7 M125.90 234.80 v2.8 M132.01 234.80 v1.7 M135.59 234.80 v1.7 M138.12 234.80 v1.7 M140.09 234.80 v1.7 M141.70 234.80 v1.7 M143.06 234.80 v1.7 M144.23 234.80 v1.7 M145.27 234.80 v1.7 M146.20 234.80 v2.8 " stroke="#000" stroke-width="0.9" fill="none"/>
<text x="44.70" y="244.20" font-size="5.7" text-anchor="middle" font-weight="bold" fill="#000" stroke="#000" stroke-width="0.1" >0</text>
<text x="65.00" y="244.20" font-size="5.7" text-anchor="middle" font-weight="bold" fill="#000" stroke="#000" stroke-width="0.1" >0,1</text>
<text x="85.30" y="244.20" font-size="5.7" text-anchor="middle" font-weight="bold" fill="#000" stroke="#000" stroke-width="0.1" >1</text>
<text x="105.60" y="244.20" font-size="5.7" text-anchor="middle" font-weight="bold" fill="#000" stroke="#000" stroke-width="0.1" >10</text>
<text x="125.90" y="244.20" font-size="5.7" text-anchor="middle" font-weight="bold" fill="#000" stroke="#000" stroke-width="0.1" >100</text>
<text x="146.20" y="244.20" font-size="5.7" text-anchor="middle" font-weight="bold" fill="#000" stroke="#000" stroke-width="0.1" >1000</text>
<text transform="translate(95.50,253.70) scale(1,1.2)" font-size="6.15" text-anchor="middle" font-weight="bold" fill="#000" stroke="#000" stroke-width="0.15" >Shear Stress [Pa]</text>
<path d="M57.60 266.20 H65.20" stroke="#ae00bc" stroke-width="0.9"/>
<circle cx="61.40" cy="266.20" r="1.7" fill="#ae00bc"/>
<text transform="translate(70.00,268.50) scale(1,1.2)" font-size="6.1" text-anchor="start" font-weight="bold" fill="#000" stroke="#000" stroke-width="0.15" >G' GEL</text>
<path d="M105.20 266.20 H112.80" stroke="#ae00bc" stroke-width="0.9"/>
<circle cx="109.00" cy="266.20" r="1.55" fill="#fff" stroke="#ae00bc" stroke-width="0.95"/>
<text transform="translate(117.60,268.50) scale(1,1.2)" font-size="6.1" text-anchor="start" font-weight="bold" fill="#000" stroke="#000" stroke-width="0.15" >G&quot; GEL</text>
<path d="M64.70 173.50 L65.90 174.00 L68.97 175.20 L68.97 175.80 L65.90 180.00 L64.70 181.70Z" fill="#d070f0" opacity="0.6"/>
<path d="M64.70 193.60 C65.84 193.79 66.69 194.11 68.97 194.30 C71.25 194.49 70.96 194.30 73.24 194.30 C75.52 194.30 75.23 194.30 77.51 194.30 C79.79 194.30 79.50 194.30 81.78 194.30 C84.06 194.30 83.77 194.30 86.05 194.30 C88.33 194.30 88.04 194.49 90.32 194.30 C92.60 194.11 92.31 194.08 94.59 193.60 C96.87 193.12 96.58 193.09 98.86 192.50 C101.14 191.91 100.85 192.01 103.13 191.40 C105.41 190.79 105.12 191.00 107.40 190.20 C109.68 189.40 109.39 189.57 111.67 188.40 C113.95 187.23 113.66 186.89 115.94 185.80 C118.22 184.71 117.93 183.61 120.21 184.30 C122.49 184.99 123.34 187.31 124.48 188.40" stroke="#ae00bc" stroke-width="0.9" fill="none" stroke-linejoin="round"/><circle cx="64.70" cy="193.60" r="1.55" fill="#fff" stroke="#ae00bc" stroke-width="0.95"/><circle cx="68.97" cy="194.30" r="1.55" fill="#fff" stroke="#ae00bc" stroke-width="0.95"/><circle cx="73.24" cy="194.30" r="1.55" fill="#fff" stroke="#ae00bc" stroke-width="0.95"/><circle cx="77.51" cy="194.30" r="1.55" fill="#fff" stroke="#ae00bc" stroke-width="0.95"/><circle cx="81.78" cy="194.30" r="1.55" fill="#fff" stroke="#ae00bc" stroke-width="0.95"/><circle cx="86.05" cy="194.30" r="1.55" fill="#fff" stroke="#ae00bc" stroke-width="0.95"/><circle cx="90.32" cy="194.30" r="1.55" fill="#fff" stroke="#ae00bc" stroke-width="0.95"/><circle cx="94.59" cy="193.60" r="1.55" fill="#fff" stroke="#ae00bc" stroke-width="0.95"/><circle cx="98.86" cy="192.50" r="1.55" fill="#fff" stroke="#ae00bc" stroke-width="0.95"/><circle cx="103.13" cy="191.40" r="1.55" fill="#fff" stroke="#ae00bc" stroke-width="0.95"/><circle cx="107.40" cy="190.20" r="1.55" fill="#fff" stroke="#ae00bc" stroke-width="0.95"/><circle cx="111.67" cy="188.40" r="1.55" fill="#fff" stroke="#ae00bc" stroke-width="0.95"/><circle cx="115.94" cy="185.80" r="1.55" fill="#fff" stroke="#ae00bc" stroke-width="0.95"/><circle cx="120.21" cy="184.30" r="1.55" fill="#fff" stroke="#ae00bc" stroke-width="0.95"/><circle cx="124.48" cy="188.40" r="1.55" fill="#fff" stroke="#ae00bc" stroke-width="0.95"/>
<path d="M64.70 177.00 C65.84 176.60 66.69 175.90 68.97 175.50 C71.25 175.10 70.96 175.50 73.24 175.50 C75.52 175.50 75.23 175.50 77.51 175.50 C79.79 175.50 79.50 175.50 81.78 175.50 C84.06 175.50 83.77 175.50 86.05 175.50 C88.33 175.50 88.04 175.50 90.32 175.50 C92.60 175.50 92.31 175.37 94.59 175.50 C96.87 175.63 96.58 175.76 98.86 176.00 C101.14 176.24 100.85 176.13 103.13 176.40 C105.41 176.67 105.12 176.60 107.40 177.00 C109.68 177.40 109.39 177.18 111.67 177.90 C113.95 178.62 113.66 177.97 115.94 179.70 C118.22 181.43 117.93 179.92 120.21 184.40 C122.49 188.88 123.34 193.27 124.48 196.50" stroke="#ae00bc" stroke-width="1.1" fill="none" stroke-linejoin="round"/><circle cx="64.70" cy="177.00" r="1.7" fill="#ae00bc"/><circle cx="68.97" cy="175.50" r="1.7" fill="#ae00bc"/><circle cx="73.24" cy="175.50" r="1.7" fill="#ae00bc"/><circle cx="77.51" cy="175.50" r="1.7" fill="#ae00bc"/><circle cx="81.78" cy="175.50" r="1.7" fill="#ae00bc"/><circle cx="86.05" cy="175.50" r="1.7" fill="#ae00bc"/><circle cx="90.32" cy="175.50" r="1.7" fill="#ae00bc"/><circle cx="94.59" cy="175.50" r="1.7" fill="#ae00bc"/><circle cx="98.86" cy="176.00" r="1.7" fill="#ae00bc"/><circle cx="103.13" cy="176.40" r="1.7" fill="#ae00bc"/><circle cx="107.40" cy="177.00" r="1.7" fill="#ae00bc"/><circle cx="111.67" cy="177.90" r="1.7" fill="#ae00bc"/><circle cx="115.94" cy="179.70" r="1.7" fill="#ae00bc"/><circle cx="120.21" cy="184.40" r="1.7" fill="#ae00bc"/><circle cx="124.48" cy="196.50" r="1.7" fill="#ae00bc"/>
<path d="M231.30 160.20 V224.01" stroke="#000" stroke-width="1.3" fill="none"/>
<path d="M231.30 224.01 h-2.6 M231.30 217.61 h-1.7 M231.30 213.86 h-1.7 M231.30 211.20 h-1.7 M231.30 209.14 h-1.7 M231.30 207.46 h-1.7 M231.30 206.03 h-1.7 M231.30 204.80 h-1.7 M231.30 203.71 h-1.7 M231.30 202.74 h-2.6 M231.30 196.34 h-1.7 M231.30 192.59 h-1.7 M231.30 189.93 h-1.7 M231.30 187.87 h-1.7 M231.30 186.19 h-1.7 M231.30 184.76 h-1.7 M231.30 183.53 h-1.7 M231.30 182.44 h-1.7 M231.30 181.47 h-2.6 M231.30 175.07 h-1.7 M231.30 171.32 h-1.7 M231.30 168.66 h-1.7 M231.30 166.60 h-1.7 M231.30 164.92 h-1.7 M231.30 163.49 h-1.7 M231.30 162.26 h-1.7 M231.30 161.17 h-1.7 M231.30 160.20 h-2.6 " stroke="#000" stroke-width="0.9" fill="none"/>
<text x="228.10" y="162.20" font-size="5.7" text-anchor="end" font-weight="bold" fill="#000" stroke="#000" stroke-width="0.1" >1000</text>
<text x="228.10" y="183.47" font-size="5.7" text-anchor="end" font-weight="bold" fill="#000" stroke="#000" stroke-width="0.1" >100</text>
<text x="228.10" y="204.74" font-size="5.7" text-anchor="end" font-weight="bold" fill="#000" stroke="#000" stroke-width="0.1" >10</text>
<text x="228.10" y="226.01" font-size="5.7" text-anchor="end" font-weight="bold" fill="#000" stroke="#000" stroke-width="0.1" >0</text>
<text transform="translate(210.90,192.20) rotate(-90)" font-size="6.5" text-anchor="middle" font-weight="bold">G', G" [Pa]</text>
<path d="M241.20 234.80 H342.70" stroke="#000" stroke-width="1.3" fill="none"/>
<path d="M241.20 234.80 v2.8 M247.31 234.80 v1.7 M250.89 234.80 v1.7 M253.42 234.80 v1.7 M255.39 234.80 v1.7 M257.00 234.80 v1.7 M258.36 234.80 v1.7 M259.53 234.80 v1.7 M260.57 234.80 v1.7 M261.50 234.80 v2.8 M267.61 234.80 v1.7 M271.19 234.80 v1.7 M273.72 234.80 v1.7 M275.69 234.80 v1.7 M277.30 234.80 v1.7 M278.66 234.80 v1.7 M279.83 234.80 v1.7 M280.87 234.80 v1.7 M281.80 234.80 v2.8 M287.91 234.80 v1.7 M291.49 234.80 v1.7 M294.02 234.80 v1.7 M295.99 234.80 v1.7 M297.60 234.80 v1.7 M298.96 234.80 v1.7 M300.13 234.80 v1.7 M301.17 234.80 v1.7 M302.10 234.80 v2.8 M308.21 234.80 v1.7 M311.79 234.80 v1.7 M314.32 234.80 v1.7 M316.29 234.80 v1.7 M317.90 234.80 v1.7 M319.26 234.80 v1.7 M320.43 234.80 v1.7 M321.47 234.80 v1.7 M322.40 234.80 v2.8 M328.51 234.80 v1.7 M332.09 234.80 v1.7 M334.62 234.80 v1.7 M336.59 234.80 v1.7 M338.20 234.80 v1.7 M339.56 234.80 v1.7 M340.73 234.80 v1.7 M341.77 234.80 v1.7 M342.70 234.80 v2.8 " stroke="#000" stroke-width="0.9" fill="none"/>
<text x="241.20" y="244.20" font-size="5.7" text-anchor="middle" font-weight="bold" fill="#000" stroke="#000" stroke-width="0.1" >0</text>
<text x="261.50" y="244.20" font-size="5.7" text-anchor="middle" font-weight="bold" fill="#000" stroke="#000" stroke-width="0.1" >0,1</text>
<text x="281.80" y="244.20" font-size="5.7" text-anchor="middle" font-weight="bold" fill="#000" stroke="#000" stroke-width="0.1" >1</text>
<text x="302.10" y="244.20" font-size="5.7" text-anchor="middle" font-weight="bold" fill="#000" stroke="#000" stroke-width="0.1" >10</text>
<text x="322.40" y="244.20" font-size="5.7" text-anchor="middle" font-weight="bold" fill="#000" stroke="#000" stroke-width="0.1" >100</text>
<text x="342.70" y="244.20" font-size="5.7" text-anchor="middle" font-weight="bold" fill="#000" stroke="#000" stroke-width="0.1" >1000</text>
<text transform="translate(292.00,253.70) scale(1,1.2)" font-size="6.15" text-anchor="middle" font-weight="bold" fill="#000" stroke="#000" stroke-width="0.15" >Shear Stress [Pa]</text>
<path d="M254.10 266.20 H261.70" stroke="#ae00bc" stroke-width="0.9"/>
<circle cx="257.90" cy="266.20" r="1.7" fill="#ae00bc"/>
<text transform="translate(266.50,268.50) scale(1,1.2)" font-size="6.1" text-anchor="start" font-weight="bold" fill="#000" stroke="#000" stroke-width="0.15" >G' GEL</text>
<path d="M301.20 266.20 H308.80" stroke="#ae00bc" stroke-width="0.9"/>
<circle cx="305.00" cy="266.20" r="1.55" fill="#fff" stroke="#ae00bc" stroke-width="0.95"/>
<text transform="translate(313.60,268.50) scale(1,1.2)" font-size="6.1" text-anchor="start" font-weight="bold" fill="#000" stroke="#000" stroke-width="0.15" >G&quot; GEL</text>
<path d="M261.20 191.10 C262.34 191.55 263.19 192.53 265.47 192.80 C267.75 193.07 267.46 192.18 269.74 192.10 C272.02 192.02 271.73 192.39 274.01 192.50 C276.29 192.61 276.00 192.50 278.28 192.50 C280.56 192.50 280.27 192.50 282.55 192.50 C284.83 192.50 284.54 192.50 286.82 192.50 C289.10 192.50 288.81 192.50 291.09 192.50 C293.37 192.50 293.08 192.69 295.36 192.50 C297.64 192.31 297.35 192.17 299.63 191.80 C301.91 191.43 301.62 191.79 303.90 191.10 C306.18 190.41 305.89 190.61 308.17 189.20 C310.45 187.79 310.16 187.37 312.44 185.80 C314.72 184.23 314.43 183.30 316.71 183.30 C318.99 183.30 318.70 183.19 320.98 185.80 C323.26 188.41 324.11 191.15 325.25 193.10" stroke="#ae00bc" stroke-width="0.9" fill="none" stroke-linejoin="round"/><circle cx="261.20" cy="191.10" r="1.55" fill="#fff" stroke="#ae00bc" stroke-width="0.95"/><circle cx="265.47" cy="192.80" r="1.55" fill="#fff" stroke="#ae00bc" stroke-width="0.95"/><circle cx="269.74" cy="192.10" r="1.55" fill="#fff" stroke="#ae00bc" stroke-width="0.95"/><circle cx="274.01" cy="192.50" r="1.55" fill="#fff" stroke="#ae00bc" stroke-width="0.95"/><circle cx="278.28" cy="192.50" r="1.55" fill="#fff" stroke="#ae00bc" stroke-width="0.95"/><circle cx="282.55" cy="192.50" r="1.55" fill="#fff" stroke="#ae00bc" stroke-width="0.95"/><circle cx="286.82" cy="192.50" r="1.55" fill="#fff" stroke="#ae00bc" stroke-width="0.95"/><circle cx="291.09" cy="192.50" r="1.55" fill="#fff" stroke="#ae00bc" stroke-width="0.95"/><circle cx="295.36" cy="192.50" r="1.55" fill="#fff" stroke="#ae00bc" stroke-width="0.95"/><circle cx="299.63" cy="191.80" r="1.55" fill="#fff" stroke="#ae00bc" stroke-width="0.95"/><circle cx="303.90" cy="191.10" r="1.55" fill="#fff" stroke="#ae00bc" stroke-width="0.95"/><circle cx="308.17" cy="189.20" r="1.55" fill="#fff" stroke="#ae00bc" stroke-width="0.95"/><circle cx="312.44" cy="185.80" r="1.55" fill="#fff" stroke="#ae00bc" stroke-width="0.95"/><circle cx="316.71" cy="183.30" r="1.55" fill="#fff" stroke="#ae00bc" stroke-width="0.95"/><circle cx="320.98" cy="185.80" r="1.55" fill="#fff" stroke="#ae00bc" stroke-width="0.95"/><circle cx="325.25" cy="193.10" r="1.55" fill="#fff" stroke="#ae00bc" stroke-width="0.95"/>
<path d="M261.20 173.10 C262.34 173.10 263.19 173.10 265.47 173.10 C267.75 173.10 267.46 173.10 269.74 173.10 C272.02 173.10 271.73 173.10 274.01 173.10 C276.29 173.10 276.00 173.10 278.28 173.10 C280.56 173.10 280.27 173.10 282.55 173.10 C284.83 173.10 284.54 173.10 286.82 173.10 C289.10 173.10 288.81 173.10 291.09 173.10 C293.37 173.10 293.08 173.10 295.36 173.10 C297.64 173.10 297.35 172.83 299.63 173.10 C301.91 173.37 301.62 173.59 303.90 174.10 C306.18 174.61 305.89 174.49 308.17 175.00 C310.45 175.51 310.16 174.67 312.44 176.00 C314.72 177.33 314.43 175.89 316.71 180.00 C318.99 184.11 318.70 183.37 320.98 191.40 C323.26 199.43 324.11 205.11 325.25 210.10" stroke="#ae00bc" stroke-width="1.1" fill="none" stroke-linejoin="round"/><circle cx="261.20" cy="173.10" r="1.7" fill="#ae00bc"/><circle cx="265.47" cy="173.10" r="1.7" fill="#ae00bc"/><circle cx="269.74" cy="173.10" r="1.7" fill="#ae00bc"/><circle cx="274.01" cy="173.10" r="1.7" fill="#ae00bc"/><circle cx="278.28" cy="173.10" r="1.7" fill="#ae00bc"/><circle cx="282.55" cy="173.10" r="1.7" fill="#ae00bc"/><circle cx="286.82" cy="173.10" r="1.7" fill="#ae00bc"/><circle cx="291.09" cy="173.10" r="1.7" fill="#ae00bc"/><circle cx="295.36" cy="173.10" r="1.7" fill="#ae00bc"/><circle cx="299.63" cy="173.10" r="1.7" fill="#ae00bc"/><circle cx="303.90" cy="174.10" r="1.7" fill="#ae00bc"/><circle cx="308.17" cy="175.00" r="1.7" fill="#ae00bc"/><circle cx="312.44" cy="176.00" r="1.7" fill="#ae00bc"/><circle cx="316.71" cy="180.00" r="1.7" fill="#ae00bc"/><circle cx="320.98" cy="191.40" r="1.7" fill="#ae00bc"/><circle cx="325.25" cy="210.10" r="1.7" fill="#ae00bc"/>
<path d="M427.00 160.20 V224.01" stroke="#000" stroke-width="1.3" fill="none"/>
<path d="M427.00 224.01 h-2.6 M427.00 217.61 h-1.7 M427.00 213.86 h-1.7 M427.00 211.20 h-1.7 M427.00 209.14 h-1.7 M427.00 207.46 h-1.7 M427.00 206.03 h-1.7 M427.00 204.80 h-1.7 M427.00 203.71 h-1.7 M427.00 202.74 h-2.6 M427.00 196.34 h-1.7 M427.00 192.59 h-1.7 M427.00 189.93 h-1.7 M427.00 187.87 h-1.7 M427.00 186.19 h-1.7 M427.00 184.76 h-1.7 M427.00 183.53 h-1.7 M427.00 182.44 h-1.7 M427.00 181.47 h-2.6 M427.00 175.07 h-1.7 M427.00 171.32 h-1.7 M427.00 168.66 h-1.7 M427.00 166.60 h-1.7 M427.00 164.92 h-1.7 M427.00 163.49 h-1.7 M427.00 162.26 h-1.7 M427.00 161.17 h-1.7 M427.00 160.20 h-2.6 " stroke="#000" stroke-width="0.9" fill="none"/>
<text x="423.80" y="162.20" font-size="5.7" text-anchor="end" font-weight="bold" fill="#000" stroke="#000" stroke-width="0.1" >1000</text>
<text x="423.80" y="183.47" font-size="5.7" text-anchor="end" font-weight="bold" fill="#000" stroke="#000" stroke-width="0.1" >100</text>
<text x="423.80" y="204.74" font-size="5.7" text-anchor="end" font-weight="bold" fill="#000" stroke="#000" stroke-width="0.1" >10</text>
<text x="423.80" y="226.01" font-size="5.7" text-anchor="end" font-weight="bold" fill="#000" stroke="#000" stroke-width="0.1" >0</text>
<text transform="translate(406.60,192.20) rotate(-90)" font-size="6.5" text-anchor="middle" font-weight="bold">G', G" [Pa]</text>
<path d="M436.90 234.80 H538.40" stroke="#000" stroke-width="1.3" fill="none"/>
<path d="M436.90 234.80 v2.8 M443.01 234.80 v1.7 M446.59 234.80 v1.7 M449.12 234.80 v1.7 M451.09 234.80 v1.7 M452.70 234.80 v1.7 M454.06 234.80 v1.7 M455.23 234.80 v1.7 M456.27 234.80 v1.7 M457.20 234.80 v2.8 M463.31 234.80 v1.7 M466.89 234.80 v1.7 M469.42 234.80 v1.7 M471.39 234.80 v1.7 M473.00 234.80 v1.7 M474.36 234.80 v1.7 M475.53 234.80 v1.7 M476.57 234.80 v1.7 M477.50 234.80 v2.8 M483.61 234.80 v1.7 M487.19 234.80 v1.7 M489.72 234.80 v1.7 M491.69 234.80 v1.7 M493.30 234.80 v1.7 M494.66 234.80 v1.7 M495.83 234.80 v1.7 M496.87 234.80 v1.7 M497.80 234.80 v2.8 M503.91 234.80 v1.7 M507.49 234.80 v1.7 M510.02 234.80 v1.7 M511.99 234.80 v1.7 M513.60 234.80 v1.7 M514.96 234.80 v1.7 M516.13 234.80 v1.7 M517.17 234.80 v1.7 M518.10 234.80 v2.8 M524.21 234.80 v1.7 M527.79 234.80 v1.7 M530.32 234.80 v1.7 M532.29 234.80 v1.7 M533.90 234.80 v1.7 M535.26 234.80 v1.7 M536.43 234.80 v1.7 M537.47 234.80 v1.7 M538.40 234.80 v2.8 " stroke="#000" stroke-width="0.9" fill="none"/>
<text x="436.90" y="244.20" font-size="5.7" text-anchor="middle" font-weight="bold" fill="#000" stroke="#000" stroke-width="0.1" >0</text>
<text x="457.20" y="244.20" font-size="5.7" text-anchor="middle" font-weight="bold" fill="#000" stroke="#000" stroke-width="0.1" >0,1</text>
<text x="477.50" y="244.20" font-size="5.7" text-anchor="middle" font-weight="bold" fill="#000" stroke="#000" stroke-width="0.1" >1</text>
<text x="497.80" y="244.20" font-size="5.7" text-anchor="middle" font-weight="bold" fill="#000" stroke="#000" stroke-width="0.1" >10</text>
<text x="518.10" y="244.20" font-size="5.7" text-anchor="middle" font-weight="bold" fill="#000" stroke="#000" stroke-width="0.1" >100</text>
<text x="538.40" y="244.20" font-size="5.7" text-anchor="middle" font-weight="bold" fill="#000" stroke="#000" stroke-width="0.1" >1000</text>
<text transform="translate(487.70,253.70) scale(1,1.2)" font-size="6.15" text-anchor="middle" font-weight="bold" fill="#000" stroke="#000" stroke-width="0.15" >Shear Stress [Pa]</text>
<path d="M450.10 266.20 H457.70" stroke="#ae00bc" stroke-width="0.9"/>
<circle cx="453.90" cy="266.20" r="1.7" fill="#ae00bc"/>
<text transform="translate(462.50,268.50) scale(1,1.2)" font-size="6.1" text-anchor="start" font-weight="bold" fill="#000" stroke="#000" stroke-width="0.15" >G' GEL</text>
<path d="M497.70 266.20 H505.30" stroke="#ae00bc" stroke-width="0.9"/>
<circle cx="501.50" cy="266.20" r="1.55" fill="#fff" stroke="#ae00bc" stroke-width="0.95"/>
<text transform="translate(510.10,268.50) scale(1,1.2)" font-size="6.1" text-anchor="start" font-weight="bold" fill="#000" stroke="#000" stroke-width="0.15" >G&quot; GEL</text>
<path d="M456.90 191.00 L461.17 192.50 L465.44 191.80 L465.44 191.80 L461.17 199.50 L456.90 191.00Z" fill="#d070f0" opacity="0.5"/>
<path d="M456.90 191.00 C458.04 191.80 458.89 193.79 461.17 194.00 C463.45 194.21 463.16 192.39 465.44 191.80 C467.72 191.21 467.43 191.80 469.71 191.80 C471.99 191.80 471.70 191.80 473.98 191.80 C476.26 191.80 475.97 191.80 478.25 191.80 C480.53 191.80 480.24 191.80 482.52 191.80 C484.80 191.80 484.51 191.80 486.79 191.80 C489.07 191.80 488.78 191.80 491.06 191.80 C493.34 191.80 493.05 192.12 495.33 191.80 C497.61 191.48 497.32 191.43 499.60 190.60 C501.88 189.77 501.59 189.87 503.87 188.70 C506.15 187.53 505.86 187.83 508.14 186.20 C510.42 184.57 510.13 183.19 512.41 182.60 C514.69 182.01 514.40 181.47 516.68 184.00 C518.96 186.53 519.81 189.94 520.95 192.10" stroke="#ae00bc" stroke-width="0.9" fill="none" stroke-linejoin="round"/><circle cx="456.90" cy="191.00" r="1.55" fill="#fff" stroke="#ae00bc" stroke-width="0.95"/><circle cx="461.17" cy="194.00" r="1.55" fill="#fff" stroke="#ae00bc" stroke-width="0.95"/><circle cx="465.44" cy="191.80" r="1.55" fill="#fff" stroke="#ae00bc" stroke-width="0.95"/><circle cx="469.71" cy="191.80" r="1.55" fill="#fff" stroke="#ae00bc" stroke-width="0.95"/><circle cx="473.98" cy="191.80" r="1.55" fill="#fff" stroke="#ae00bc" stroke-width="0.95"/><circle cx="478.25" cy="191.80" r="1.55" fill="#fff" stroke="#ae00bc" stroke-width="0.95"/><circle cx="482.52" cy="191.80" r="1.55" fill="#fff" stroke="#ae00bc" stroke-width="0.95"/><circle cx="486.79" cy="191.80" r="1.55" fill="#fff" stroke="#ae00bc" stroke-width="0.95"/><circle cx="491.06" cy="191.80" r="1.55" fill="#fff" stroke="#ae00bc" stroke-width="0.95"/><circle cx="495.33" cy="191.80" r="1.55" fill="#fff" stroke="#ae00bc" stroke-width="0.95"/><circle cx="499.60" cy="190.60" r="1.55" fill="#fff" stroke="#ae00bc" stroke-width="0.95"/><circle cx="503.87" cy="188.70" r="1.55" fill="#fff" stroke="#ae00bc" stroke-width="0.95"/><circle cx="508.14" cy="186.20" r="1.55" fill="#fff" stroke="#ae00bc" stroke-width="0.95"/><circle cx="512.41" cy="182.60" r="1.55" fill="#fff" stroke="#ae00bc" stroke-width="0.95"/><circle cx="516.68" cy="184.00" r="1.55" fill="#fff" stroke="#ae00bc" stroke-width="0.95"/><circle cx="520.95" cy="192.10" r="1.55" fill="#fff" stroke="#ae00bc" stroke-width="0.95"/>
<path d="M456.90 172.30 C458.04 172.30 458.89 172.30 461.17 172.30 C463.45 172.30 463.16 172.30 465.44 172.30 C467.72 172.30 467.43 172.30 469.71 172.30 C471.99 172.30 471.70 172.30 473.98 172.30 C476.26 172.30 475.97 172.30 478.25 172.30 C480.53 172.30 480.24 172.30 482.52 172.30 C484.80 172.30 484.51 172.30 486.79 172.30 C489.07 172.30 488.78 172.30 491.06 172.30 C493.34 172.30 493.05 172.30 495.33 172.30 C497.61 172.30 497.32 171.98 499.60 172.30 C501.88 172.62 501.59 172.78 503.87 173.50 C506.15 174.22 505.86 173.75 508.14 175.00 C510.42 176.25 510.13 174.63 512.41 178.20 C514.69 181.77 514.40 180.40 516.68 188.40 C518.96 196.40 519.81 202.92 520.95 208.20" stroke="#ae00bc" stroke-width="1.1" fill="none" stroke-linejoin="round"/><circle cx="456.90" cy="172.30" r="1.7" fill="#ae00bc"/><circle cx="461.17" cy="172.30" r="1.7" fill="#ae00bc"/><circle cx="465.44" cy="172.30" r="1.7" fill="#ae00bc"/><circle cx="469.71" cy="172.30" r="1.7" fill="#ae00bc"/><circle cx="473.98" cy="172.30" r="1.7" fill="#ae00bc"/><circle cx="478.25" cy="172.30" r="1.7" fill="#ae00bc"/><circle cx="482.52" cy="172.30" r="1.7" fill="#ae00bc"/><circle cx="486.79" cy="172.30" r="1.7" fill="#ae00bc"/><circle cx="491.06" cy="172.30" r="1.7" fill="#ae00bc"/><circle cx="495.33" cy="172.30" r="1.7" fill="#ae00bc"/><circle cx="499.60" cy="172.30" r="1.7" fill="#ae00bc"/><circle cx="503.87" cy="173.50" r="1.7" fill="#ae00bc"/><circle cx="508.14" cy="175.00" r="1.7" fill="#ae00bc"/><circle cx="512.41" cy="178.20" r="1.7" fill="#ae00bc"/><circle cx="516.68" cy="188.40" r="1.7" fill="#ae00bc"/><circle cx="520.95" cy="208.20" r="1.7" fill="#ae00bc"/>
<path d="M34.80 294.10 V357.91" stroke="#000" stroke-width="1.3" fill="none"/>
<path d="M34.80 357.91 h-2.6 M34.80 351.51 h-1.7 M34.80 347.76 h-1.7 M34.80 345.10 h-1.7 M34.80 343.04 h-1.7 M34.80 341.36 h-1.7 M34.80 339.93 h-1.7 M34.80 338.70 h-1.7 M34.80 337.61 h-1.7 M34.80 336.64 h-2.6 M34.80 330.24 h-1.7 M34.80 326.49 h-1.7 M34.80 323.83 h-1.7 M34.80 321.77 h-1.7 M34.80 320.09 h-1.7 M34.80 318.66 h-1.7 M34.80 317.43 h-1.7 M34.80 316.34 h-1.7 M34.80 315.37 h-2.6 M34.80 308.97 h-1.7 M34.80 305.22 h-1.7 M34.80 302.56 h-1.7 M34.80 300.50 h-1.7 M34.80 298.82 h-1.7 M34.80 297.39 h-1.7 M34.80 296.16 h-1.7 M34.80 295.07 h-1.7 M34.80 294.10 h-2.6 " stroke="#000" stroke-width="0.9" fill="none"/>
<text x="31.60" y="296.10" font-size="5.7" text-anchor="end" font-weight="bold" fill="#000" stroke="#000" stroke-width="0.1" >1000</text>
<text x="31.60" y="317.37" font-size="5.7" text-anchor="end" font-weight="bold" fill="#000" stroke="#000" stroke-width="0.1" >100</text>
<text x="31.60" y="338.64" font-size="5.7" text-anchor="end" font-weight="bold" fill="#000" stroke="#000" stroke-width="0.1" >10</text>
<text x="31.60" y="359.91" font-size="5.7" text-anchor="end" font-weight="bold" fill="#000" stroke="#000" stroke-width="0.1" >0</text>
<text transform="translate(14.40,326.10) rotate(-90)" font-size="6.5" text-anchor="middle" font-weight="bold">G', G" [Pa]</text>
<path d="M44.70 368.70 H146.20" stroke="#000" stroke-width="1.3" fill="none"/>
<path d="M44.70 368.70 v2.8 M50.81 368.70 v1.7 M54.39 368.70 v1.7 M56.92 368.70 v1.7 M58.89 368.70 v1.7 M60.50 368.70 v1.7 M61.86 368.70 v1.7 M63.03 368.70 v1.7 M64.07 368.70 v1.7 M65.00 368.70 v2.8 M71.11 368.70 v1.7 M74.69 368.70 v1.7 M77.22 368.70 v1.7 M79.19 368.70 v1.7 M80.80 368.70 v1.7 M82.16 368.70 v1.7 M83.33 368.70 v1.7 M84.37 368.70 v1.7 M85.30 368.70 v2.8 M91.41 368.70 v1.7 M94.99 368.70 v1.7 M97.52 368.70 v1.7 M99.49 368.70 v1.7 M101.10 368.70 v1.7 M102.46 368.70 v1.7 M103.63 368.70 v1.7 M104.67 368.70 v1.7 M105.60 368.70 v2.8 M111.71 368.70 v1.7 M115.29 368.70 v1.7 M117.82 368.70 v1.7 M119.79 368.70 v1.7 M121.40 368.70 v1.7 M122.76 368.70 v1.7 M123.93 368.70 v1.7 M124.97 368.70 v1.7 M125.90 368.70 v2.8 M132.01 368.70 v1.7 M135.59 368.70 v1.7 M138.12 368.70 v1.7 M140.09 368.70 v1.7 M141.70 368.70 v1.7 M143.06 368.70 v1.7 M144.23 368.70 v1.7 M145.27 368.70 v1.7 M146.20 368.70 v2.8 " stroke="#000" stroke-width="0.9" fill="none"/>
<text x="44.70" y="378.10" font-size="5.7" text-anchor="middle" font-weight="bold" fill="#000" stroke="#000" stroke-width="0.1" >0</text>
<text x="65.00" y="378.10" font-size="5.7" text-anchor="middle" font-weight="bold" fill="#000" stroke="#000" stroke-width="0.1" >0,1</text>
<text x="85.30" y="378.10" font-size="5.7" text-anchor="middle" font-weight="bold" fill="#000" stroke="#000" stroke-width="0.1" >1</text>
<text x="105.60" y="378.10" font-size="5.7" text-anchor="middle" font-weight="bold" fill="#000" stroke="#000" stroke-width="0.1" >10</text>
<text x="125.90" y="378.10" font-size="5.7" text-anchor="middle" font-weight="bold" fill="#000" stroke="#000" stroke-width="0.1" >100</text>
<text x="146.20" y="378.10" font-size="5.7" text-anchor="middle" font-weight="bold" fill="#000" stroke="#000" stroke-width="0.1" >1000</text>
<text transform="translate(95.50,387.60) scale(1,1.2)" font-size="6.15" text-anchor="middle" font-weight="bold" fill="#000" stroke="#000" stroke-width="0.15" >Shear Stress [Pa]</text>
<path d="M57.20 400.10 H64.80" stroke="#0000ff" stroke-width="0.9"/>
<circle cx="61.00" cy="400.10" r="1.7" fill="#0000ff"/>
<text transform="translate(69.60,402.40) scale(1,1.2)" font-size="6.1" text-anchor="start" font-weight="bold" fill="#000" stroke="#000" stroke-width="0.15" >G' ALG</text>
<path d="M104.40 400.10 H112.00" stroke="#0000ff" stroke-width="0.9"/>
<circle cx="108.20" cy="400.10" r="1.55" fill="#fff" stroke="#0000ff" stroke-width="0.95"/>
<text transform="translate(116.80,402.40) scale(1,1.2)" font-size="6.1" text-anchor="start" font-weight="bold" fill="#000" stroke="#000" stroke-width="0.15" >G&quot; ALG</text>
<path d="M64.70 308.90 L68.97 308.90 L73.24 308.90 L77.51 308.90 L81.78 308.90 L86.05 308.90 L90.32 308.90 L94.59 309.30 L98.86 309.60 L103.13 310.00 L107.40 310.60 L111.67 311.50 L115.94 313.30 L120.21 317.60 L124.48 328.60 L124.48 330.80 L120.21 321.20 L115.94 317.50 L111.67 315.50 L107.40 314.60 L103.13 314.00 L98.86 313.60 L94.59 313.30 L90.32 312.90 L86.05 312.90 L81.78 312.90 L77.51 312.90 L73.24 312.90 L68.97 312.90 L64.70 312.90Z" fill="#7070ff" opacity="0.6"/>
<path d="M64.70 329.00 C65.84 329.27 66.69 329.73 68.97 330.00 C71.25 330.27 70.96 330.00 73.24 330.00 C75.52 330.00 75.23 330.00 77.51 330.00 C79.79 330.00 79.50 330.00 81.78 330.00 C84.06 330.00 83.77 330.00 86.05 330.00 C88.33 330.00 88.04 330.19 90.32 330.00 C92.60 329.81 92.31 329.67 94.59 329.30 C96.87 328.93 96.58 329.08 98.86 328.60 C101.14 328.12 100.85 328.09 103.13 327.50 C105.41 326.91 105.12 327.28 107.40 326.40 C109.68 325.52 109.39 325.59 111.67 324.20 C113.95 322.81 113.66 322.72 115.94 321.20 C118.22 319.68 117.93 317.99 120.21 318.50 C122.49 319.01 123.34 321.87 124.48 323.10" stroke="#0000ff" stroke-width="0.9" fill="none" stroke-linejoin="round"/><circle cx="64.70" cy="329.00" r="1.55" fill="#fff" stroke="#0000ff" stroke-width="0.95"/><circle cx="68.97" cy="330.00" r="1.55" fill="#fff" stroke="#0000ff" stroke-width="0.95"/><circle cx="73.24" cy="330.00" r="1.55" fill="#fff" stroke="#0000ff" stroke-width="0.95"/><circle cx="77.51" cy="330.00" r="1.55" fill="#fff" stroke="#0000ff" stroke-width="0.95"/><circle cx="81.78" cy="330.00" r="1.55" fill="#fff" stroke="#0000ff" stroke-width="0.95"/><circle cx="86.05" cy="330.00" r="1.55" fill="#fff" stroke="#0000ff" stroke-width="0.95"/><circle cx="90.32" cy="330.00" r="1.55" fill="#fff" stroke="#0000ff" stroke-width="0.95"/><circle cx="94.59" cy="329.30" r="1.55" fill="#fff" stroke="#0000ff" stroke-width="0.95"/><circle cx="98.86" cy="328.60" r="1.55" fill="#fff" stroke="#0000ff" stroke-width="0.95"/><circle cx="103.13" cy="327.50" r="1.55" fill="#fff" stroke="#0000ff" stroke-width="0.95"/><circle cx="107.40" cy="326.40" r="1.55" fill="#fff" stroke="#0000ff" stroke-width="0.95"/><circle cx="111.67" cy="324.20" r="1.55" fill="#fff" stroke="#0000ff" stroke-width="0.95"/><circle cx="115.94" cy="321.20" r="1.55" fill="#fff" stroke="#0000ff" stroke-width="0.95"/><circle cx="120.21" cy="318.50" r="1.55" fill="#fff" stroke="#0000ff" stroke-width="0.95"/><circle cx="124.48" cy="323.10" r="1.55" fill="#fff" stroke="#0000ff" stroke-width="0.95"/>
<path d="M64.70 310.30 C65.84 310.30 66.69 310.30 68.97 310.30 C71.25 310.30 70.96 310.30 73.24 310.30 C75.52 310.30 75.23 310.30 77.51 310.30 C79.79 310.30 79.50 310.30 81.78 310.30 C84.06 310.30 83.77 310.30 86.05 310.30 C88.33 310.30 88.04 310.19 90.32 310.30 C92.60 310.41 92.31 310.51 94.59 310.70 C96.87 310.89 96.58 310.81 98.86 311.00 C101.14 311.19 100.85 311.13 103.13 311.40 C105.41 311.67 105.12 311.60 107.40 312.00 C109.68 312.40 109.39 312.18 111.67 312.90 C113.95 313.62 113.66 313.07 115.94 314.70 C118.22 316.33 117.93 314.92 120.21 319.00 C122.49 323.08 123.34 327.07 124.48 330.00" stroke="#0000ff" stroke-width="1.1" fill="none" stroke-linejoin="round"/><circle cx="64.70" cy="310.30" r="1.7" fill="#0000ff"/><circle cx="68.97" cy="310.30" r="1.7" fill="#0000ff"/><circle cx="73.24" cy="310.30" r="1.7" fill="#0000ff"/><circle cx="77.51" cy="310.30" r="1.7" fill="#0000ff"/><circle cx="81.78" cy="310.30" r="1.7" fill="#0000ff"/><circle cx="86.05" cy="310.30" r="1.7" fill="#0000ff"/><circle cx="90.32" cy="310.30" r="1.7" fill="#0000ff"/><circle cx="94.59" cy="310.70" r="1.7" fill="#0000ff"/><circle cx="98.86" cy="311.00" r="1.7" fill="#0000ff"/><circle cx="103.13" cy="311.40" r="1.7" fill="#0000ff"/><circle cx="107.40" cy="312.00" r="1.7" fill="#0000ff"/><circle cx="111.67" cy="312.90" r="1.7" fill="#0000ff"/><circle cx="115.94" cy="314.70" r="1.7" fill="#0000ff"/><circle cx="120.21" cy="319.00" r="1.7" fill="#0000ff"/><circle cx="124.48" cy="330.00" r="1.7" fill="#0000ff"/>
<path d="M231.30 294.10 V357.91" stroke="#000" stroke-width="1.3" fill="none"/>
<path d="M231.30 357.91 h-2.6 M231.30 351.51 h-1.7 M231.30 347.76 h-1.7 M231.30 345.10 h-1.7 M231.30 343.04 h-1.7 M231.30 341.36 h-1.7 M231.30 339.93 h-1.7 M231.30 338.70 h-1.7 M231.30 337.61 h-1.7 M231.30 336.64 h-2.6 M231.30 330.24 h-1.7 M231.30 326.49 h-1.7 M231.30 323.83 h-1.7 M231.30 321.77 h-1.7 M231.30 320.09 h-1.7 M231.30 318.66 h-1.7 M231.30 317.43 h-1.7 M231.30 316.34 h-1.7 M231.30 315.37 h-2.6 M231.30 308.97 h-1.7 M231.30 305.22 h-1.7 M231.30 302.56 h-1.7 M231.30 300.50 h-1.7 M231.30 298.82 h-1.7 M231.30 297.39 h-1.7 M231.30 296.16 h-1.7 M231.30 295.07 h-1.7 M231.30 294.10 h-2.6 " stroke="#000" stroke-width="0.9" fill="none"/>
<text x="228.10" y="296.10" font-size="5.7" text-anchor="end" font-weight="bold" fill="#000" stroke="#000" stroke-width="0.1" >1000</text>
<text x="228.10" y="317.37" font-size="5.7" text-anchor="end" font-weight="bold" fill="#000" stroke="#000" stroke-width="0.1" >100</text>
<text x="228.10" y="338.64" font-size="5.7" text-anchor="end" font-weight="bold" fill="#000" stroke="#000" stroke-width="0.1" >10</text>
<text x="228.10" y="359.91" font-size="5.7" text-anchor="end" font-weight="bold" fill="#000" stroke="#000" stroke-width="0.1" >0</text>
<text transform="translate(210.90,326.10) rotate(-90)" font-size="6.5" text-anchor="middle" font-weight="bold">G', G" [Pa]</text>
<path d="M241.20 368.70 H342.70" stroke="#000" stroke-width="1.3" fill="none"/>
<path d="M241.20 368.70 v2.8 M247.31 368.70 v1.7 M250.89 368.70 v1.7 M253.42 368.70 v1.7 M255.39 368.70 v1.7 M257.00 368.70 v1.7 M258.36 368.70 v1.7 M259.53 368.70 v1.7 M260.57 368.70 v1.7 M261.50 368.70 v2.8 M267.61 368.70 v1.7 M271.19 368.70 v1.7 M273.72 368.70 v1.7 M275.69 368.70 v1.7 M277.30 368.70 v1.7 M278.66 368.70 v1.7 M279.83 368.70 v1.7 M280.87 368.70 v1.7 M281.80 368.70 v2.8 M287.91 368.70 v1.7 M291.49 368.70 v1.7 M294.02 368.70 v1.7 M295.99 368.70 v1.7 M297.60 368.70 v1.7 M298.96 368.70 v1.7 M300.13 368.70 v1.7 M301.17 368.70 v1.7 M302.10 368.70 v2.8 M308.21 368.70 v1.7 M311.79 368.70 v1.7 M314.32 368.70 v1.7 M316.29 368.70 v1.7 M317.90 368.70 v1.7 M319.26 368.70 v1.7 M320.43 368.70 v1.7 M321.47 368.70 v1.7 M322.40 368.70 v2.8 M328.51 368.70 v1.7 M332.09 368.70 v1.7 M334.62 368.70 v1.7 M336.59 368.70 v1.7 M338.20 368.70 v1.7 M339.56 368.70 v1.7 M340.73 368.70 v1.7 M341.77 368.70 v1.7 M342.70 368.70 v2.8 " stroke="#000" stroke-width="0.9" fill="none"/>
<text x="241.20" y="378.10" font-size="5.7" text-anchor="middle" font-weight="bold" fill="#000" stroke="#000" stroke-width="0.1" >0</text>
<text x="261.50" y="378.10" font-size="5.7" text-anchor="middle" font-weight="bold" fill="#000" stroke="#000" stroke-width="0.1" >0,1</text>
<text x="281.80" y="378.10" font-size="5.7" text-anchor="middle" font-weight="bold" fill="#000" stroke="#000" stroke-width="0.1" >1</text>
<text x="302.10" y="378.10" font-size="5.7" text-anchor="middle" font-weight="bold" fill="#000" stroke="#000" stroke-width="0.1" >10</text>
<text x="322.40" y="378.10" font-size="5.7" text-anchor="middle" font-weight="bold" fill="#000" stroke="#000" stroke-width="0.1" >100</text>
<text x="342.70" y="378.10" font-size="5.7" text-anchor="middle" font-weight="bold" fill="#000" stroke="#000" stroke-width="0.1" >1000</text>
<text transform="translate(292.00,387.60) scale(1,1.2)" font-size="6.15" text-anchor="middle" font-weight="bold" fill="#000" stroke="#000" stroke-width="0.15" >Shear Stress [Pa]</text>
<path d="M253.60 400.10 H261.20" stroke="#0000ff" stroke-width="0.9"/>
<circle cx="257.40" cy="400.10" r="1.7" fill="#0000ff"/>
<text transform="translate(266.00,402.40) scale(1,1.2)" font-size="6.1" text-anchor="start" font-weight="bold" fill="#000" stroke="#000" stroke-width="0.15" >G' ALG</text>
<path d="M301.20 400.10 H308.80" stroke="#0000ff" stroke-width="0.9"/>
<circle cx="305.00" cy="400.10" r="1.55" fill="#fff" stroke="#0000ff" stroke-width="0.95"/>
<text transform="translate(313.60,402.40) scale(1,1.2)" font-size="6.1" text-anchor="start" font-weight="bold" fill="#000" stroke="#000" stroke-width="0.15" >G&quot; ALG</text>
<path d="M261.20 327.00 L265.47 327.40 L269.74 327.80 L269.74 327.80 L265.47 331.10 L261.20 329.00Z" fill="#7070ff" opacity="0.4"/>
<path d="M261.20 327.50 C262.34 327.79 263.19 328.52 265.47 328.60 C267.75 328.68 267.46 328.01 269.74 327.80 C272.02 327.59 271.73 327.80 274.01 327.80 C276.29 327.80 276.00 327.80 278.28 327.80 C280.56 327.80 280.27 327.80 282.55 327.80 C284.83 327.80 284.54 327.80 286.82 327.80 C289.10 327.80 288.81 327.80 291.09 327.80 C293.37 327.80 293.08 327.99 295.36 327.80 C297.64 327.61 297.35 327.55 299.63 327.10 C301.91 326.65 301.62 326.87 303.90 326.10 C306.18 325.33 305.89 325.61 308.17 324.20 C310.45 322.79 310.16 322.64 312.44 320.80 C314.72 318.96 314.43 317.57 316.71 317.30 C318.99 317.03 318.70 317.00 320.98 319.80 C323.26 322.60 324.11 325.67 325.25 327.80" stroke="#0000ff" stroke-width="0.9" fill="none" stroke-linejoin="round"/><circle cx="261.20" cy="327.50" r="1.55" fill="#fff" stroke="#0000ff" stroke-width="0.95"/><circle cx="265.47" cy="328.60" r="1.55" fill="#fff" stroke="#0000ff" stroke-width="0.95"/><circle cx="269.74" cy="327.80" r="1.55" fill="#fff" stroke="#0000ff" stroke-width="0.95"/><circle cx="274.01" cy="327.80" r="1.55" fill="#fff" stroke="#0000ff" stroke-width="0.95"/><circle cx="278.28" cy="327.80" r="1.55" fill="#fff" stroke="#0000ff" stroke-width="0.95"/><circle cx="282.55" cy="327.80" r="1.55" fill="#fff" stroke="#0000ff" stroke-width="0.95"/><circle cx="286.82" cy="327.80" r="1.55" fill="#fff" stroke="#0000ff" stroke-width="0.95"/><circle cx="291.09" cy="327.80" r="1.55" fill="#fff" stroke="#0000ff" stroke-width="0.95"/><circle cx="295.36" cy="327.80" r="1.55" fill="#fff" stroke="#0000ff" stroke-width="0.95"/><circle cx="299.63" cy="327.10" r="1.55" fill="#fff" stroke="#0000ff" stroke-width="0.95"/><circle cx="303.90" cy="326.10" r="1.55" fill="#fff" stroke="#0000ff" stroke-width="0.95"/><circle cx="308.17" cy="324.20" r="1.55" fill="#fff" stroke="#0000ff" stroke-width="0.95"/><circle cx="312.44" cy="320.80" r="1.55" fill="#fff" stroke="#0000ff" stroke-width="0.95"/><circle cx="316.71" cy="317.30" r="1.55" fill="#fff" stroke="#0000ff" stroke-width="0.95"/><circle cx="320.98" cy="319.80" r="1.55" fill="#fff" stroke="#0000ff" stroke-width="0.95"/><circle cx="325.25" cy="327.80" r="1.55" fill="#fff" stroke="#0000ff" stroke-width="0.95"/>
<path d="M261.20 307.30 C262.34 307.30 263.19 307.30 265.47 307.30 C267.75 307.30 267.46 307.30 269.74 307.30 C272.02 307.30 271.73 307.30 274.01 307.30 C276.29 307.30 276.00 307.30 278.28 307.30 C280.56 307.30 280.27 307.30 282.55 307.30 C284.83 307.30 284.54 307.30 286.82 307.30 C289.10 307.30 288.81 307.30 291.09 307.30 C293.37 307.30 293.08 307.30 295.36 307.30 C297.64 307.30 297.35 307.09 299.63 307.30 C301.91 307.51 301.62 307.70 303.90 308.10 C306.18 308.50 305.89 308.29 308.17 308.80 C310.45 309.31 310.16 308.64 312.44 310.00 C314.72 311.36 314.43 309.85 316.71 313.90 C318.99 317.95 318.70 316.72 320.98 325.20 C323.26 333.68 324.11 340.23 325.25 345.70" stroke="#0000ff" stroke-width="1.1" fill="none" stroke-linejoin="round"/><circle cx="261.20" cy="307.30" r="1.7" fill="#0000ff"/><circle cx="265.47" cy="307.30" r="1.7" fill="#0000ff"/><circle cx="269.74" cy="307.30" r="1.7" fill="#0000ff"/><circle cx="274.01" cy="307.30" r="1.7" fill="#0000ff"/><circle cx="278.28" cy="307.30" r="1.7" fill="#0000ff"/><circle cx="282.55" cy="307.30" r="1.7" fill="#0000ff"/><circle cx="286.82" cy="307.30" r="1.7" fill="#0000ff"/><circle cx="291.09" cy="307.30" r="1.7" fill="#0000ff"/><circle cx="295.36" cy="307.30" r="1.7" fill="#0000ff"/><circle cx="299.63" cy="307.30" r="1.7" fill="#0000ff"/><circle cx="303.90" cy="308.10" r="1.7" fill="#0000ff"/><circle cx="308.17" cy="308.80" r="1.7" fill="#0000ff"/><circle cx="312.44" cy="310.00" r="1.7" fill="#0000ff"/><circle cx="316.71" cy="313.90" r="1.7" fill="#0000ff"/><circle cx="320.98" cy="325.20" r="1.7" fill="#0000ff"/><circle cx="325.25" cy="345.70" r="1.7" fill="#0000ff"/>
<path d="M427.00 294.10 V357.91" stroke="#000" stroke-width="1.3" fill="none"/>
<path d="M427.00 357.91 h-2.6 M427.00 351.51 h-1.7 M427.00 347.76 h-1.7 M427.00 345.10 h-1.7 M427.00 343.04 h-1.7 M427.00 341.36 h-1.7 M427.00 339.93 h-1.7 M427.00 338.70 h-1.7 M427.00 337.61 h-1.7 M427.00 336.64 h-2.6 M427.00 330.24 h-1.7 M427.00 326.49 h-1.7 M427.00 323.83 h-1.7 M427.00 321.77 h-1.7 M427.00 320.09 h-1.7 M427.00 318.66 h-1.7 M427.00 317.43 h-1.7 M427.00 316.34 h-1.7 M427.00 315.37 h-2.6 M427.00 308.97 h-1.7 M427.00 305.22 h-1.7 M427.00 302.56 h-1.7 M427.00 300.50 h-1.7 M427.00 298.82 h-1.7 M427.00 297.39 h-1.7 M427.00 296.16 h-1.7 M427.00 295.07 h-1.7 M427.00 294.10 h-2.6 " stroke="#000" stroke-width="0.9" fill="none"/>
<text x="423.80" y="296.10" font-size="5.7" text-anchor="end" font-weight="bold" fill="#000" stroke="#000" stroke-width="0.1" >1000</text>
<text x="423.80" y="317.37" font-size="5.7" text-anchor="end" font-weight="bold" fill="#000" stroke="#000" stroke-width="0.1" >100</text>
<text x="423.80" y="338.64" font-size="5.7" text-anchor="end" font-weight="bold" fill="#000" stroke="#000" stroke-width="0.1" >10</text>
<text x="423.80" y="359.91" font-size="5.7" text-anchor="end" font-weight="bold" fill="#000" stroke="#000" stroke-width="0.1" >0</text>
<text transform="translate(406.60,326.10) rotate(-90)" font-size="6.5" text-anchor="middle" font-weight="bold">G', G" [Pa]</text>
<path d="M436.90 368.70 H538.40" stroke="#000" stroke-width="1.3" fill="none"/>
<path d="M436.90 368.70 v2.8 M443.01 368.70 v1.7 M446.59 368.70 v1.7 M449.12 368.70 v1.7 M451.09 368.70 v1.7 M452.70 368.70 v1.7 M454.06 368.70 v1.7 M455.23 368.70 v1.7 M456.27 368.70 v1.7 M457.20 368.70 v2.8 M463.31 368.70 v1.7 M466.89 368.70 v1.7 M469.42 368.70 v1.7 M471.39 368.70 v1.7 M473.00 368.70 v1.7 M474.36 368.70 v1.7 M475.53 368.70 v1.7 M476.57 368.70 v1.7 M477.50 368.70 v2.8 M483.61 368.70 v1.7 M487.19 368.70 v1.7 M489.72 368.70 v1.7 M491.69 368.70 v1.7 M493.30 368.70 v1.7 M494.66 368.70 v1.7 M495.83 368.70 v1.7 M496.87 368.70 v1.7 M497.80 368.70 v2.8 M503.91 368.70 v1.7 M507.49 368.70 v1.7 M510.02 368.70 v1.7 M511.99 368.70 v1.7 M513.60 368.70 v1.7 M514.96 368.70 v1.7 M516.13 368.70 v1.7 M517.17 368.70 v1.7 M518.10 368.70 v2.8 M524.21 368.70 v1.7 M527.79 368.70 v1.7 M530.32 368.70 v1.7 M532.29 368.70 v1.7 M533.90 368.70 v1.7 M535.26 368.70 v1.7 M536.43 368.70 v1.7 M537.47 368.70 v1.7 M538.40 368.70 v2.8 " stroke="#000" stroke-width="0.9" fill="none"/>
<text x="436.90" y="378.10" font-size="5.7" text-anchor="middle" font-weight="bold" fill="#000" stroke="#000" stroke-width="0.1" >0</text>
<text x="457.20" y="378.10" font-size="5.7" text-anchor="middle" font-weight="bold" fill="#000" stroke="#000" stroke-width="0.1" >0,1</text>
<text x="477.50" y="378.10" font-size="5.7" text-anchor="middle" font-weight="bold" fill="#000" stroke="#000" stroke-width="0.1" >1</text>
<text x="497.80" y="378.10" font-size="5.7" text-anchor="middle" font-weight="bold" fill="#000" stroke="#000" stroke-width="0.1" >10</text>
<text x="518.10" y="378.10" font-size="5.7" text-anchor="middle" font-weight="bold" fill="#000" stroke="#000" stroke-width="0.1" >100</text>
<text x="538.40" y="378.10" font-size="5.7" text-anchor="middle" font-weight="bold" fill="#000" stroke="#000" stroke-width="0.1" >1000</text>
<text transform="translate(487.70,387.60) scale(1,1.2)" font-size="6.15" text-anchor="middle" font-weight="bold" fill="#000" stroke="#000" stroke-width="0.15" >Shear Stress [Pa]</text>
<path d="M449.60 400.10 H457.20" stroke="#0000ff" stroke-width="0.9"/>
<circle cx="453.40" cy="400.10" r="1.7" fill="#0000ff"/>
<text transform="translate(462.00,402.40) scale(1,1.2)" font-size="6.1" text-anchor="start" font-weight="bold" fill="#000" stroke="#000" stroke-width="0.15" >G' ALG</text>
<path d="M497.20 400.10 H504.80" stroke="#0000ff" stroke-width="0.9"/>
<circle cx="501.00" cy="400.10" r="1.55" fill="#fff" stroke="#0000ff" stroke-width="0.95"/>
<text transform="translate(509.60,402.40) scale(1,1.2)" font-size="6.1" text-anchor="start" font-weight="bold" fill="#000" stroke="#000" stroke-width="0.15" >G&quot; ALG</text>
<path d="M456.90 326.40 C458.04 326.69 458.89 327.31 461.17 327.50 C463.45 327.69 463.16 327.21 465.44 327.10 C467.72 326.99 467.43 327.10 469.71 327.10 C471.99 327.10 471.70 327.10 473.98 327.10 C476.26 327.10 475.97 327.10 478.25 327.10 C480.53 327.10 480.24 327.10 482.52 327.10 C484.80 327.10 484.51 327.10 486.79 327.10 C489.07 327.10 488.78 327.10 491.06 327.10 C493.34 327.10 493.05 327.50 495.33 327.10 C497.61 326.70 497.32 326.77 499.60 325.60 C501.88 324.43 501.59 324.38 503.87 322.70 C506.15 321.02 505.86 321.06 508.14 319.30 C510.42 317.54 510.13 316.23 512.41 316.10 C514.69 315.97 514.40 315.68 516.68 318.80 C518.96 321.92 519.81 325.40 520.95 327.80" stroke="#0000ff" stroke-width="0.9" fill="none" stroke-linejoin="round"/><circle cx="456.90" cy="326.40" r="1.55" fill="#fff" stroke="#0000ff" stroke-width="0.95"/><circle cx="461.17" cy="327.50" r="1.55" fill="#fff" stroke="#0000ff" stroke-width="0.95"/><circle cx="465.44" cy="327.10" r="1.55" fill="#fff" stroke="#0000ff" stroke-width="0.95"/><circle cx="469.71" cy="327.10" r="1.55" fill="#fff" stroke="#0000ff" stroke-width="0.95"/><circle cx="473.98" cy="327.10" r="1.55" fill="#fff" stroke="#0000ff" stroke-width="0.95"/><circle cx="478.25" cy="327.10" r="1.55" fill="#fff" stroke="#0000ff" stroke-width="0.95"/><circle cx="482.52" cy="327.10" r="1.55" fill="#fff" stroke="#0000ff" stroke-width="0.95"/><circle cx="486.79" cy="327.10" r="1.55" fill="#fff" stroke="#0000ff" stroke-width="0.95"/><circle cx="491.06" cy="327.10" r="1.55" fill="#fff" stroke="#0000ff" stroke-width="0.95"/><circle cx="495.33" cy="327.10" r="1.55" fill="#fff" stroke="#0000ff" stroke-width="0.95"/><circle cx="499.60" cy="325.60" r="1.55" fill="#fff" stroke="#0000ff" stroke-width="0.95"/><circle cx="503.87" cy="322.70" r="1.55" fill="#fff" stroke="#0000ff" stroke-width="0.95"/><circle cx="508.14" cy="319.30" r="1.55" fill="#fff" stroke="#0000ff" stroke-width="0.95"/><circle cx="512.41" cy="316.10" r="1.55" fill="#fff" stroke="#0000ff" stroke-width="0.95"/><circle cx="516.68" cy="318.80" r="1.55" fill="#fff" stroke="#0000ff" stroke-width="0.95"/><circle cx="520.95" cy="327.80" r="1.55" fill="#fff" stroke="#0000ff" stroke-width="0.95"/>
<path d="M456.90 306.30 C458.04 306.30 458.89 306.30 461.17 306.30 C463.45 306.30 463.16 306.30 465.44 306.30 C467.72 306.30 467.43 306.30 469.71 306.30 C471.99 306.30 471.70 306.30 473.98 306.30 C476.26 306.30 475.97 306.30 478.25 306.30 C480.53 306.30 480.24 306.30 482.52 306.30 C484.80 306.30 484.51 306.30 486.79 306.30 C489.07 306.30 488.78 306.30 491.06 306.30 C493.34 306.30 493.05 306.11 495.33 306.30 C497.61 306.49 497.32 306.65 499.60 307.00 C501.88 307.35 501.59 307.04 503.87 307.60 C506.15 308.16 505.86 307.79 508.14 309.10 C510.42 310.41 510.13 308.69 512.41 312.50 C514.69 316.31 514.40 314.63 516.68 323.40 C518.96 332.17 519.81 339.53 520.95 345.40" stroke="#0000ff" stroke-width="1.1" fill="none" stroke-linejoin="round"/><circle cx="456.90" cy="306.30" r="1.7" fill="#0000ff"/><circle cx="461.17" cy="306.30" r="1.7" fill="#0000ff"/><circle cx="465.44" cy="306.30" r="1.7" fill="#0000ff"/><circle cx="469.71" cy="306.30" r="1.7" fill="#0000ff"/><circle cx="473.98" cy="306.30" r="1.7" fill="#0000ff"/><circle cx="478.25" cy="306.30" r="1.7" fill="#0000ff"/><circle cx="482.52" cy="306.30" r="1.7" fill="#0000ff"/><circle cx="486.79" cy="306.30" r="1.7" fill="#0000ff"/><circle cx="491.06" cy="306.30" r="1.7" fill="#0000ff"/><circle cx="495.33" cy="306.30" r="1.7" fill="#0000ff"/><circle cx="499.60" cy="307.00" r="1.7" fill="#0000ff"/><circle cx="503.87" cy="307.60" r="1.7" fill="#0000ff"/><circle cx="508.14" cy="309.10" r="1.7" fill="#0000ff"/><circle cx="512.41" cy="312.50" r="1.7" fill="#0000ff"/><circle cx="516.68" cy="323.40" r="1.7" fill="#0000ff"/><circle cx="520.95" cy="345.40" r="1.7" fill="#0000ff"/>
<path d="M33.70 439.50 V503.31" stroke="#000" stroke-width="1.3" fill="none"/>
<path d="M33.70 503.31 h-2.6 M33.70 496.91 h-1.7 M33.70 493.16 h-1.7 M33.70 490.50 h-1.7 M33.70 488.44 h-1.7 M33.70 486.76 h-1.7 M33.70 485.33 h-1.7 M33.70 484.10 h-1.7 M33.70 483.01 h-1.7 M33.70 482.04 h-2.6 M33.70 475.64 h-1.7 M33.70 471.89 h-1.7 M33.70 469.23 h-1.7 M33.70 467.17 h-1.7 M33.70 465.49 h-1.7 M33.70 464.06 h-1.7 M33.70 462.83 h-1.7 M33.70 461.74 h-1.7 M33.70 460.77 h-2.6 M33.70 454.37 h-1.7 M33.70 450.62 h-1.7 M33.70 447.96 h-1.7 M33.70 445.90 h-1.7 M33.70 444.22 h-1.7 M33.70 442.79 h-1.7 M33.70 441.56 h-1.7 M33.70 440.47 h-1.7 M33.70 439.50 h-2.6 " stroke="#000" stroke-width="0.9" fill="none"/>
<text x="30.50" y="441.50" font-size="5.7" text-anchor="end" font-weight="bold" fill="#000" stroke="#000" stroke-width="0.1" >1000</text>
<text x="30.50" y="462.77" font-size="5.7" text-anchor="end" font-weight="bold" fill="#000" stroke="#000" stroke-width="0.1" >100</text>
<text x="30.50" y="484.04" font-size="5.7" text-anchor="end" font-weight="bold" fill="#000" stroke="#000" stroke-width="0.1" >10</text>
<text x="30.50" y="505.31" font-size="5.7" text-anchor="end" font-weight="bold" fill="#000" stroke="#000" stroke-width="0.1" >0</text>
<text transform="translate(13.30,471.50) rotate(-90)" font-size="6.5" text-anchor="middle" font-weight="bold">G', G" [Pa]</text>
<path d="M44.30 514.30 H145.90" stroke="#000" stroke-width="1.3" fill="none"/>
<path d="M44.30 514.30 v2.8 M57.00 514.30 v1.5 M69.70 514.30 v2.8 M82.40 514.30 v1.5 M95.10 514.30 v2.8 M107.80 514.30 v1.5 M120.50 514.30 v2.8 M133.20 514.30 v1.5 M145.90 514.30 v2.8 " stroke="#000" stroke-width="0.9" fill="none"/>
<text x="44.30" y="523.90" font-size="5.7" text-anchor="middle" font-weight="bold" fill="#000" stroke="#000" stroke-width="0.1" >0</text>
<text x="69.70" y="523.90" font-size="5.7" text-anchor="middle" font-weight="bold" fill="#000" stroke="#000" stroke-width="0.1" >2</text>
<text x="95.10" y="523.90" font-size="5.7" text-anchor="middle" font-weight="bold" fill="#000" stroke="#000" stroke-width="0.1" >4</text>
<text x="120.50" y="523.90" font-size="5.7" text-anchor="middle" font-weight="bold" fill="#000" stroke="#000" stroke-width="0.1" >6</text>
<text x="145.90" y="523.90" font-size="5.7" text-anchor="middle" font-weight="bold" fill="#000" stroke="#000" stroke-width="0.1" >8</text>
<text transform="translate(95.10,532.70) scale(1,1.2)" font-size="6.1" text-anchor="middle" font-weight="bold" fill="#000" stroke="#000" stroke-width="0.15" >Time [min]</text>
<path d="M45.40 545.10 H53.00" stroke="#ff0000" stroke-width="0.9"/>
<circle cx="49.20" cy="545.10" r="1.7" fill="#ff0000"/>
<text transform="translate(57.80,547.40) scale(1,1.2)" font-size="6.1" text-anchor="start" font-weight="bold" fill="#000" stroke="#000" stroke-width="0.15" >G' Hep3Gel</text>
<path d="M102.10 545.10 H109.70" stroke="#ff0000" stroke-width="0.9"/>
<circle cx="105.90" cy="545.10" r="1.55" fill="#fff" stroke="#ff0000" stroke-width="0.95"/>
<text transform="translate(114.50,547.40) scale(1,1.2)" font-size="6.1" text-anchor="start" font-weight="bold" fill="#000" stroke="#000" stroke-width="0.15" >G&quot; Hep3Gel</text>
<path d="M65.20 440.70 V502.50" stroke="#ff0000" stroke-width="0.9" stroke-dasharray="1.6 1.6" fill="none"/>
<path d="M84.80 440.70 V502.50" stroke="#ff0000" stroke-width="0.9" stroke-dasharray="1.6 1.6" fill="none"/>
<text x="53.60" y="449.70" font-size="8.3" text-anchor="middle" font-weight="bold" fill="#000" stroke="#000" stroke-width="0.15" >1</text>
<text x="75.60" y="449.70" font-size="8.3" text-anchor="middle" font-weight="bold" fill="#000" stroke="#000" stroke-width="0.15" >2</text>
<text x="102.70" y="449.70" font-size="8.3" text-anchor="middle" font-weight="bold" fill="#000" stroke="#000" stroke-width="0.15" >3</text>
<path d="M44.30 469.40 L48.65 469.40 L53.00 469.40 L57.35 469.40 L61.70 469.40 L69.60 474.80 L73.90 474.80 L78.20 474.80 L82.50 474.80 L91.00 472.40 L95.30 471.56 L99.60 470.98 L103.90 470.33 L108.20 469.64 L112.50 468.90 L116.80 468.12 L121.10 467.31 L125.40 466.47 L129.70 465.60 L129.70 470.80 L125.40 471.67 L121.10 472.51 L116.80 473.32 L112.50 474.10 L108.20 474.84 L103.90 475.53 L99.60 476.18 L95.30 476.76 L91.00 477.60 L82.50 480.00 L78.20 480.00 L73.90 480.00 L69.60 480.00 L61.70 474.60 L57.35 474.60 L53.00 474.60 L48.65 474.60 L44.30 474.60Z" fill="#ff8080" opacity="0.5"/>
<path d="M44.30 481.10 L48.65 481.10 L53.00 481.10 L57.35 481.10 L61.70 481.10 L69.60 476.30 L73.90 476.30 L78.20 476.30 L82.50 476.30 L91.00 481.80 L95.30 481.18 L99.60 480.87 L103.90 480.56 L108.20 480.25 L112.50 479.94 L116.80 479.63 L121.10 479.32 L125.40 479.01 L129.70 478.70 L129.70 481.10 L125.40 481.41 L121.10 481.72 L116.80 482.03 L112.50 482.34 L108.20 482.65 L103.90 482.96 L99.60 483.27 L95.30 483.58 L91.00 484.20 L82.50 478.70 L78.20 478.70 L73.90 478.70 L69.60 478.70 L61.70 483.50 L57.35 483.50 L53.00 483.50 L48.65 483.50 L44.30 483.50Z" fill="#ff8080" opacity="0.3"/>
<path d="M44.30 482.30 L48.65 482.30 L53.00 482.30 L57.35 482.30 L61.70 482.30 L69.60 477.50 L73.90 477.50 L78.20 477.50 L82.50 477.50 L91.00 483.00 L95.30 482.38 L99.60 482.07 L103.90 481.76 L108.20 481.45 L112.50 481.14 L116.80 480.83 L121.10 480.52 L125.40 480.21 L129.70 479.90" stroke="#ff0000" stroke-width="0.9" fill="none" stroke-linejoin="round"/><circle cx="44.30" cy="482.30" r="1.55" fill="#fff" stroke="#ff0000" stroke-width="0.95"/><circle cx="48.65" cy="482.30" r="1.55" fill="#fff" stroke="#ff0000" stroke-width="0.95"/><circle cx="53.00" cy="482.30" r="1.55" fill="#fff" stroke="#ff0000" stroke-width="0.95"/><circle cx="57.35" cy="482.30" r="1.55" fill="#fff" stroke="#ff0000" stroke-width="0.95"/><circle cx="61.70" cy="482.30" r="1.55" fill="#fff" stroke="#ff0000" stroke-width="0.95"/><circle cx="69.60" cy="477.50" r="1.55" fill="#fff" stroke="#ff0000" stroke-width="0.95"/><circle cx="73.90" cy="477.50" r="1.55" fill="#fff" stroke="#ff0000" stroke-width="0.95"/><circle cx="78.20" cy="477.50" r="1.55" fill="#fff" stroke="#ff0000" stroke-width="0.95"/><circle cx="82.50" cy="477.50" r="1.55" fill="#fff" stroke="#ff0000" stroke-width="0.95"/><circle cx="91.00" cy="483.00" r="1.55" fill="#fff" stroke="#ff0000" stroke-width="0.95"/><circle cx="95.30" cy="482.38" r="1.55" fill="#fff" stroke="#ff0000" stroke-width="0.95"/><circle cx="99.60" cy="482.07" r="1.55" fill="#fff" stroke="#ff0000" stroke-width="0.95"/><circle cx="103.90" cy="481.76" r="1.55" fill="#fff" stroke="#ff0000" stroke-width="0.95"/><circle cx="108.20" cy="481.45" r="1.55" fill="#fff" stroke="#ff0000" stroke-width="0.95"/><circle cx="112.50" cy="481.14" r="1.55" fill="#fff" stroke="#ff0000" stroke-width="0.95"/><circle cx="116.80" cy="480.83" r="1.55" fill="#fff" stroke="#ff0000" stroke-width="0.95"/><circle cx="121.10" cy="480.52" r="1.55" fill="#fff" stroke="#ff0000" stroke-width="0.95"/><circle cx="125.40" cy="480.21" r="1.55" fill="#fff" stroke="#ff0000" stroke-width="0.95"/><circle cx="129.70" cy="479.90" r="1.55" fill="#fff" stroke="#ff0000" stroke-width="0.95"/>
<path d="M44.30 471.40 L48.65 471.40 L53.00 471.40 L57.35 471.40 L61.70 471.40 L69.60 476.80 L73.90 476.80 L78.20 476.80 L82.50 476.80 L91.00 474.40 L95.30 473.56 L99.60 472.98 L103.90 472.33 L108.20 471.64 L112.50 470.90 L116.80 470.12 L121.10 469.31 L125.40 468.47 L129.70 467.60" stroke="#ff0000" stroke-width="0.9" fill="none" stroke-linejoin="round"/><circle cx="44.30" cy="471.40" r="1.7" fill="#ff0000"/><circle cx="48.65" cy="471.40" r="1.7" fill="#ff0000"/><circle cx="53.00" cy="471.40" r="1.7" fill="#ff0000"/><circle cx="57.35" cy="471.40" r="1.7" fill="#ff0000"/><circle cx="61.70" cy="471.40" r="1.7" fill="#ff0000"/><circle cx="69.60" cy="476.80" r="1.7" fill="#ff0000"/><circle cx="73.90" cy="476.80" r="1.7" fill="#ff0000"/><circle cx="78.20" cy="476.80" r="1.7" fill="#ff0000"/><circle cx="82.50" cy="476.80" r="1.7" fill="#ff0000"/><circle cx="91.00" cy="474.40" r="1.7" fill="#ff0000"/><circle cx="95.30" cy="473.56" r="1.7" fill="#ff0000"/><circle cx="99.60" cy="472.98" r="1.7" fill="#ff0000"/><circle cx="103.90" cy="472.33" r="1.7" fill="#ff0000"/><circle cx="108.20" cy="471.64" r="1.7" fill="#ff0000"/><circle cx="112.50" cy="470.90" r="1.7" fill="#ff0000"/><circle cx="116.80" cy="470.12" r="1.7" fill="#ff0000"/><circle cx="121.10" cy="469.31" r="1.7" fill="#ff0000"/><circle cx="125.40" cy="468.47" r="1.7" fill="#ff0000"/><circle cx="129.70" cy="467.60" r="1.7" fill="#ff0000"/>
<path d="M229.80 439.50 V503.31" stroke="#000" stroke-width="1.3" fill="none"/>
<path d="M229.80 503.31 h-2.6 M229.80 496.91 h-1.7 M229.80 493.16 h-1.7 M229.80 490.50 h-1.7 M229.80 488.44 h-1.7 M229.80 486.76 h-1.7 M229.80 485.33 h-1.7 M229.80 484.10 h-1.7 M229.80 483.01 h-1.7 M229.80 482.04 h-2.6 M229.80 475.64 h-1.7 M229.80 471.89 h-1.7 M229.80 469.23 h-1.7 M229.80 467.17 h-1.7 M229.80 465.49 h-1.7 M229.80 464.06 h-1.7 M229.80 462.83 h-1.7 M229.80 461.74 h-1.7 M229.80 460.77 h-2.6 M229.80 454.37 h-1.7 M229.80 450.62 h-1.7 M229.80 447.96 h-1.7 M229.80 445.90 h-1.7 M229.80 444.22 h-1.7 M229.80 442.79 h-1.7 M229.80 441.56 h-1.7 M229.80 440.47 h-1.7 M229.80 439.50 h-2.6 " stroke="#000" stroke-width="0.9" fill="none"/>
<text x="226.60" y="441.50" font-size="5.7" text-anchor="end" font-weight="bold" fill="#000" stroke="#000" stroke-width="0.1" >1000</text>
<text x="226.60" y="462.77" font-size="5.7" text-anchor="end" font-weight="bold" fill="#000" stroke="#000" stroke-width="0.1" >100</text>
<text x="226.60" y="484.04" font-size="5.7" text-anchor="end" font-weight="bold" fill="#000" stroke="#000" stroke-width="0.1" >10</text>
<text x="226.60" y="505.31" font-size="5.7" text-anchor="end" font-weight="bold" fill="#000" stroke="#000" stroke-width="0.1" >0</text>
<text transform="translate(209.40,471.50) rotate(-90)" font-size="6.5" text-anchor="middle" font-weight="bold">G', G" [Pa]</text>
<path d="M240.40 514.30 H342.00" stroke="#000" stroke-width="1.3" fill="none"/>
<path d="M240.40 514.30 v2.8 M253.10 514.30 v1.5 M265.80 514.30 v2.8 M278.50 514.30 v1.5 M291.20 514.30 v2.8 M303.90 514.30 v1.5 M316.60 514.30 v2.8 M329.30 514.30 v1.5 M342.00 514.30 v2.8 " stroke="#000" stroke-width="0.9" fill="none"/>
<text x="240.40" y="523.90" font-size="5.7" text-anchor="middle" font-weight="bold" fill="#000" stroke="#000" stroke-width="0.1" >0</text>
<text x="265.80" y="523.90" font-size="5.7" text-anchor="middle" font-weight="bold" fill="#000" stroke="#000" stroke-width="0.1" >2</text>
<text x="291.20" y="523.90" font-size="5.7" text-anchor="middle" font-weight="bold" fill="#000" stroke="#000" stroke-width="0.1" >4</text>
<text x="316.60" y="523.90" font-size="5.7" text-anchor="middle" font-weight="bold" fill="#000" stroke="#000" stroke-width="0.1" >6</text>
<text x="342.00" y="523.90" font-size="5.7" text-anchor="middle" font-weight="bold" fill="#000" stroke="#000" stroke-width="0.1" >8</text>
<text transform="translate(291.20,532.70) scale(1,1.2)" font-size="6.1" text-anchor="middle" font-weight="bold" fill="#000" stroke="#000" stroke-width="0.15" >Time [min]</text>
<path d="M241.30 545.10 H248.90" stroke="#ff0000" stroke-width="0.9"/>
<circle cx="245.10" cy="545.10" r="1.7" fill="#ff0000"/>
<text transform="translate(253.70,547.40) scale(1,1.2)" font-size="6.1" text-anchor="start" font-weight="bold" fill="#000" stroke="#000" stroke-width="0.15" >G' Hep3Gel</text>
<path d="M298.10 545.10 H305.70" stroke="#ff0000" stroke-width="0.9"/>
<circle cx="301.90" cy="545.10" r="1.55" fill="#fff" stroke="#ff0000" stroke-width="0.95"/>
<text transform="translate(310.50,547.40) scale(1,1.2)" font-size="6.1" text-anchor="start" font-weight="bold" fill="#000" stroke="#000" stroke-width="0.15" >G&quot; Hep3Gel</text>
<path d="M262.50 440.70 V502.50" stroke="#ff0000" stroke-width="0.9" stroke-dasharray="1.6 1.6" fill="none"/>
<path d="M281.70 440.70 V502.50" stroke="#ff0000" stroke-width="0.9" stroke-dasharray="1.6 1.6" fill="none"/>
<text x="252.00" y="450.60" font-size="8.3" text-anchor="middle" font-weight="bold" fill="#000" stroke="#000" stroke-width="0.15" >1</text>
<text x="273.40" y="450.60" font-size="8.3" text-anchor="middle" font-weight="bold" fill="#000" stroke="#000" stroke-width="0.15" >2</text>
<text x="300.40" y="450.60" font-size="8.3" text-anchor="middle" font-weight="bold" fill="#000" stroke="#000" stroke-width="0.15" >3</text>
<path d="M240.40 476.20 L244.64 476.20 L248.87 476.20 L253.11 476.20 L257.34 476.20 L261.57 469.40 L265.81 469.40 L270.05 469.40 L274.28 469.40 L278.51 469.40 L282.75 477.50 L286.99 477.24 L291.22 476.98 L295.46 476.72 L299.69 476.46 L303.93 476.20 L308.16 475.94 L312.39 475.68 L316.63 475.42 L320.87 475.16 L325.10 474.90" stroke="#ff0000" stroke-width="0.9" fill="none" stroke-linejoin="round"/><circle cx="240.40" cy="476.20" r="1.55" fill="#fff" stroke="#ff0000" stroke-width="0.95"/><circle cx="244.64" cy="476.20" r="1.55" fill="#fff" stroke="#ff0000" stroke-width="0.95"/><circle cx="248.87" cy="476.20" r="1.55" fill="#fff" stroke="#ff0000" stroke-width="0.95"/><circle cx="253.11" cy="476.20" r="1.55" fill="#fff" stroke="#ff0000" stroke-width="0.95"/><circle cx="257.34" cy="476.20" r="1.55" fill="#fff" stroke="#ff0000" stroke-width="0.95"/><circle cx="261.57" cy="469.40" r="1.55" fill="#fff" stroke="#ff0000" stroke-width="0.95"/><circle cx="265.81" cy="469.40" r="1.55" fill="#fff" stroke="#ff0000" stroke-width="0.95"/><circle cx="270.05" cy="469.40" r="1.55" fill="#fff" stroke="#ff0000" stroke-width="0.95"/><circle cx="274.28" cy="469.40" r="1.55" fill="#fff" stroke="#ff0000" stroke-width="0.95"/><circle cx="278.51" cy="469.40" r="1.55" fill="#fff" stroke="#ff0000" stroke-width="0.95"/><circle cx="282.75" cy="477.50" r="1.55" fill="#fff" stroke="#ff0000" stroke-width="0.95"/><circle cx="286.99" cy="477.24" r="1.55" fill="#fff" stroke="#ff0000" stroke-width="0.95"/><circle cx="291.22" cy="476.98" r="1.55" fill="#fff" stroke="#ff0000" stroke-width="0.95"/><circle cx="295.46" cy="476.72" r="1.55" fill="#fff" stroke="#ff0000" stroke-width="0.95"/><circle cx="299.69" cy="476.46" r="1.55" fill="#fff" stroke="#ff0000" stroke-width="0.95"/><circle cx="303.93" cy="476.20" r="1.55" fill="#fff" stroke="#ff0000" stroke-width="0.95"/><circle cx="308.16" cy="475.94" r="1.55" fill="#fff" stroke="#ff0000" stroke-width="0.95"/><circle cx="312.39" cy="475.68" r="1.55" fill="#fff" stroke="#ff0000" stroke-width="0.95"/><circle cx="316.63" cy="475.42" r="1.55" fill="#fff" stroke="#ff0000" stroke-width="0.95"/><circle cx="320.87" cy="475.16" r="1.55" fill="#fff" stroke="#ff0000" stroke-width="0.95"/><circle cx="325.10" cy="474.90" r="1.55" fill="#fff" stroke="#ff0000" stroke-width="0.95"/>
<path d="M240.40 460.60 L244.64 460.60 L248.87 460.60 L253.11 460.60 L257.34 460.60 L261.57 471.60 L265.81 471.60 L270.05 471.60 L274.28 471.60 L278.51 471.60 L282.75 471.60 L286.99 463.03 L291.22 462.66 L295.46 462.29 L299.69 461.92 L303.93 461.55 L308.16 461.18 L312.39 460.81 L316.63 460.44 L320.87 460.07 L325.10 459.70" stroke="#ff0000" stroke-width="0.9" fill="none" stroke-linejoin="round"/><circle cx="240.40" cy="460.60" r="1.7" fill="#ff0000"/><circle cx="244.64" cy="460.60" r="1.7" fill="#ff0000"/><circle cx="248.87" cy="460.60" r="1.7" fill="#ff0000"/><circle cx="253.11" cy="460.60" r="1.7" fill="#ff0000"/><circle cx="257.34" cy="460.60" r="1.7" fill="#ff0000"/><circle cx="261.57" cy="471.60" r="1.7" fill="#ff0000"/><circle cx="265.81" cy="471.60" r="1.7" fill="#ff0000"/><circle cx="270.05" cy="471.60" r="1.7" fill="#ff0000"/><circle cx="274.28" cy="471.60" r="1.7" fill="#ff0000"/><circle cx="278.51" cy="471.60" r="1.7" fill="#ff0000"/><circle cx="282.75" cy="471.60" r="1.7" fill="#ff0000"/><circle cx="286.99" cy="463.03" r="1.7" fill="#ff0000"/><circle cx="291.22" cy="462.66" r="1.7" fill="#ff0000"/><circle cx="295.46" cy="462.29" r="1.7" fill="#ff0000"/><circle cx="299.69" cy="461.92" r="1.7" fill="#ff0000"/><circle cx="303.93" cy="461.55" r="1.7" fill="#ff0000"/><circle cx="308.16" cy="461.18" r="1.7" fill="#ff0000"/><circle cx="312.39" cy="460.81" r="1.7" fill="#ff0000"/><circle cx="316.63" cy="460.44" r="1.7" fill="#ff0000"/><circle cx="320.87" cy="460.07" r="1.7" fill="#ff0000"/><circle cx="325.10" cy="459.70" r="1.7" fill="#ff0000"/>
<path d="M426.30 439.50 V503.31" stroke="#000" stroke-width="1.3" fill="none"/>
<path d="M426.30 503.31 h-2.6 M426.30 496.91 h-1.7 M426.30 493.16 h-1.7 M426.30 490.50 h-1.7 M426.30 488.44 h-1.7 M426.30 486.76 h-1.7 M426.30 485.33 h-1.7 M426.30 484.10 h-1.7 M426.30 483.01 h-1.7 M426.30 482.04 h-2.6 M426.30 475.64 h-1.7 M426.30 471.89 h-1.7 M426.30 469.23 h-1.7 M426.30 467.17 h-1.7 M426.30 465.49 h-1.7 M426.30 464.06 h-1.7 M426.30 462.83 h-1.7 M426.30 461.74 h-1.7 M426.30 460.77 h-2.6 M426.30 454.37 h-1.7 M426.30 450.62 h-1.7 M426.30 447.96 h-1.7 M426.30 445.90 h-1.7 M426.30 444.22 h-1.7 M426.30 442.79 h-1.7 M426.30 441.56 h-1.7 M426.30 440.47 h-1.7 M426.30 439.50 h-2.6 " stroke="#000" stroke-width="0.9" fill="none"/>
<text x="423.10" y="441.50" font-size="5.7" text-anchor="end" font-weight="bold" fill="#000" stroke="#000" stroke-width="0.1" >1000</text>
<text x="423.10" y="462.77" font-size="5.7" text-anchor="end" font-weight="bold" fill="#000" stroke="#000" stroke-width="0.1" >100</text>
<text x="423.10" y="484.04" font-size="5.7" text-anchor="end" font-weight="bold" fill="#000" stroke="#000" stroke-width="0.1" >10</text>
<text x="423.10" y="505.31" font-size="5.7" text-anchor="end" font-weight="bold" fill="#000" stroke="#000" stroke-width="0.1" >0</text>
<text transform="translate(405.90,471.50) rotate(-90)" font-size="6.5" text-anchor="middle" font-weight="bold">G', G" [Pa]</text>
<path d="M436.90 514.30 H538.50" stroke="#000" stroke-width="1.3" fill="none"/>
<path d="M436.90 514.30 v2.8 M449.60 514.30 v1.5 M462.30 514.30 v2.8 M475.00 514.30 v1.5 M487.70 514.30 v2.8 M500.40 514.30 v1.5 M513.10 514.30 v2.8 M525.80 514.30 v1.5 M538.50 514.30 v2.8 " stroke="#000" stroke-width="0.9" fill="none"/>
<text x="436.90" y="523.90" font-size="5.7" text-anchor="middle" font-weight="bold" fill="#000" stroke="#000" stroke-width="0.1" >0</text>
<text x="462.30" y="523.90" font-size="5.7" text-anchor="middle" font-weight="bold" fill="#000" stroke="#000" stroke-width="0.1" >2</text>
<text x="487.70" y="523.90" font-size="5.7" text-anchor="middle" font-weight="bold" fill="#000" stroke="#000" stroke-width="0.1" >4</text>
<text x="513.10" y="523.90" font-size="5.7" text-anchor="middle" font-weight="bold" fill="#000" stroke="#000" stroke-width="0.1" >6</text>
<text x="538.50" y="523.90" font-size="5.7" text-anchor="middle" font-weight="bold" fill="#000" stroke="#000" stroke-width="0.1" >8</text>
<text transform="translate(487.70,532.70) scale(1,1.2)" font-size="6.1" text-anchor="middle" font-weight="bold" fill="#000" stroke="#000" stroke-width="0.15" >Time [min]</text>
<path d="M436.70 545.10 H444.30" stroke="#ff0000" stroke-width="0.9"/>
<circle cx="440.50" cy="545.10" r="1.7" fill="#ff0000"/>
<text transform="translate(449.10,547.40) scale(1,1.2)" font-size="6.1" text-anchor="start" font-weight="bold" fill="#000" stroke="#000" stroke-width="0.15" >G' Hep3Gel</text>
<path d="M493.10 545.10 H500.70" stroke="#ff0000" stroke-width="0.9"/>
<circle cx="496.90" cy="545.10" r="1.55" fill="#fff" stroke="#ff0000" stroke-width="0.95"/>
<text transform="translate(505.50,547.40) scale(1,1.2)" font-size="6.1" text-anchor="start" font-weight="bold" fill="#000" stroke="#000" stroke-width="0.15" >G&quot; Hep3Gel</text>
<path d="M457.80 440.70 V502.50" stroke="#ff0000" stroke-width="0.9" stroke-dasharray="1.6 1.6" fill="none"/>
<path d="M476.20 440.70 V502.50" stroke="#ff0000" stroke-width="0.9" stroke-dasharray="1.6 1.6" fill="none"/>
<text x="448.30" y="450.30" font-size="8.3" text-anchor="middle" font-weight="bold" fill="#000" stroke="#000" stroke-width="0.15" >1</text>
<text x="469.70" y="450.30" font-size="8.3" text-anchor="middle" font-weight="bold" fill="#000" stroke="#000" stroke-width="0.15" >2</text>
<text x="496.70" y="450.30" font-size="8.3" text-anchor="middle" font-weight="bold" fill="#000" stroke="#000" stroke-width="0.15" >3</text>
<path d="M436.90 473.50 L441.14 473.50 L445.37 473.50 L449.61 473.50 L453.84 473.50 L458.08 467.00 L462.31 467.00 L466.55 467.00 L470.78 467.00 L475.02 467.00 L479.25 474.40 L483.49 474.21 L487.72 474.02 L491.96 473.83 L496.19 473.64 L500.43 473.45 L504.66 473.26 L508.90 473.07 L513.13 472.88 L517.37 472.69 L521.60 472.50" stroke="#ff0000" stroke-width="0.9" fill="none" stroke-linejoin="round"/><circle cx="436.90" cy="473.50" r="1.55" fill="#fff" stroke="#ff0000" stroke-width="0.95"/><circle cx="441.14" cy="473.50" r="1.55" fill="#fff" stroke="#ff0000" stroke-width="0.95"/><circle cx="445.37" cy="473.50" r="1.55" fill="#fff" stroke="#ff0000" stroke-width="0.95"/><circle cx="449.61" cy="473.50" r="1.55" fill="#fff" stroke="#ff0000" stroke-width="0.95"/><circle cx="453.84" cy="473.50" r="1.55" fill="#fff" stroke="#ff0000" stroke-width="0.95"/><circle cx="458.08" cy="467.00" r="1.55" fill="#fff" stroke="#ff0000" stroke-width="0.95"/><circle cx="462.31" cy="467.00" r="1.55" fill="#fff" stroke="#ff0000" stroke-width="0.95"/><circle cx="466.55" cy="467.00" r="1.55" fill="#fff" stroke="#ff0000" stroke-width="0.95"/><circle cx="470.78" cy="467.00" r="1.55" fill="#fff" stroke="#ff0000" stroke-width="0.95"/><circle cx="475.02" cy="467.00" r="1.55" fill="#fff" stroke="#ff0000" stroke-width="0.95"/><circle cx="479.25" cy="474.40" r="1.55" fill="#fff" stroke="#ff0000" stroke-width="0.95"/><circle cx="483.49" cy="474.21" r="1.55" fill="#fff" stroke="#ff0000" stroke-width="0.95"/><circle cx="487.72" cy="474.02" r="1.55" fill="#fff" stroke="#ff0000" stroke-width="0.95"/><circle cx="491.96" cy="473.83" r="1.55" fill="#fff" stroke="#ff0000" stroke-width="0.95"/><circle cx="496.19" cy="473.64" r="1.55" fill="#fff" stroke="#ff0000" stroke-width="0.95"/><circle cx="500.43" cy="473.45" r="1.55" fill="#fff" stroke="#ff0000" stroke-width="0.95"/><circle cx="504.66" cy="473.26" r="1.55" fill="#fff" stroke="#ff0000" stroke-width="0.95"/><circle cx="508.90" cy="473.07" r="1.55" fill="#fff" stroke="#ff0000" stroke-width="0.95"/><circle cx="513.13" cy="472.88" r="1.55" fill="#fff" stroke="#ff0000" stroke-width="0.95"/><circle cx="517.37" cy="472.69" r="1.55" fill="#fff" stroke="#ff0000" stroke-width="0.95"/><circle cx="521.60" cy="472.50" r="1.55" fill="#fff" stroke="#ff0000" stroke-width="0.95"/>
<path d="M436.90 455.50 L441.14 455.50 L445.37 455.50 L449.61 455.50 L453.84 455.50 L458.08 470.20 L462.31 470.20 L466.55 470.20 L470.78 470.20 L475.02 470.20 L479.25 458.80 L483.49 458.43 L487.72 458.06 L491.96 457.69 L496.19 457.32 L500.43 456.95 L504.66 456.58 L508.90 456.21 L513.13 455.84 L517.37 455.47 L521.60 455.10" stroke="#ff0000" stroke-width="0.9" fill="none" stroke-linejoin="round"/><circle cx="436.90" cy="455.50" r="1.7" fill="#ff0000"/><circle cx="441.14" cy="455.50" r="1.7" fill="#ff0000"/><circle cx="445.37" cy="455.50" r="1.7" fill="#ff0000"/><circle cx="449.61" cy="455.50" r="1.7" fill="#ff0000"/><circle cx="453.84" cy="455.50" r="1.7" fill="#ff0000"/><circle cx="458.08" cy="470.20" r="1.7" fill="#ff0000"/><circle cx="462.31" cy="470.20" r="1.7" fill="#ff0000"/><circle cx="466.55" cy="470.20" r="1.7" fill="#ff0000"/><circle cx="470.78" cy="470.20" r="1.7" fill="#ff0000"/><circle cx="475.02" cy="470.20" r="1.7" fill="#ff0000"/><circle cx="479.25" cy="458.80" r="1.7" fill="#ff0000"/><circle cx="483.49" cy="458.43" r="1.7" fill="#ff0000"/><circle cx="487.72" cy="458.06" r="1.7" fill="#ff0000"/><circle cx="491.96" cy="457.69" r="1.7" fill="#ff0000"/><circle cx="496.19" cy="457.32" r="1.7" fill="#ff0000"/><circle cx="500.43" cy="456.95" r="1.7" fill="#ff0000"/><circle cx="504.66" cy="456.58" r="1.7" fill="#ff0000"/><circle cx="508.90" cy="456.21" r="1.7" fill="#ff0000"/><circle cx="513.13" cy="455.84" r="1.7" fill="#ff0000"/><circle cx="517.37" cy="455.47" r="1.7" fill="#ff0000"/><circle cx="521.60" cy="455.10" r="1.7" fill="#ff0000"/>
<path d="M33.70 573.80 V637.61" stroke="#000" stroke-width="1.3" fill="none"/>
<path d="M33.70 637.61 h-2.6 M33.70 631.21 h-1.7 M33.70 627.46 h-1.7 M33.70 624.80 h-1.7 M33.70 622.74 h-1.7 M33.70 621.06 h-1.7 M33.70 619.63 h-1.7 M33.70 618.40 h-1.7 M33.70 617.31 h-1.7 M33.70 616.34 h-2.6 M33.70 609.94 h-1.7 M33.70 606.19 h-1.7 M33.70 603.53 h-1.7 M33.70 601.47 h-1.7 M33.70 599.79 h-1.7 M33.70 598.36 h-1.7 M33.70 597.13 h-1.7 M33.70 596.04 h-1.7 M33.70 595.07 h-2.6 M33.70 588.67 h-1.7 M33.70 584.92 h-1.7 M33.70 582.26 h-1.7 M33.70 580.20 h-1.7 M33.70 578.52 h-1.7 M33.70 577.09 h-1.7 M33.70 575.86 h-1.7 M33.70 574.77 h-1.7 M33.70 573.80 h-2.6 " stroke="#000" stroke-width="0.9" fill="none"/>
<text x="30.50" y="575.80" font-size="5.7" text-anchor="end" font-weight="bold" fill="#000" stroke="#000" stroke-width="0.1" >1000</text>
<text x="30.50" y="597.07" font-size="5.7" text-anchor="end" font-weight="bold" fill="#000" stroke="#000" stroke-width="0.1" >100</text>
<text x="30.50" y="618.34" font-size="5.7" text-anchor="end" font-weight="bold" fill="#000" stroke="#000" stroke-width="0.1" >10</text>
<text x="30.50" y="639.61" font-size="5.7" text-anchor="end" font-weight="bold" fill="#000" stroke="#000" stroke-width="0.1" >0</text>
<text transform="translate(13.30,605.80) rotate(-90)" font-size="6.5" text-anchor="middle" font-weight="bold">G', G" [Pa]</text>
<path d="M44.30 648.60 H145.90" stroke="#000" stroke-width="1.3" fill="none"/>
<path d="M44.30 648.60 v2.8 M57.00 648.60 v1.5 M69.70 648.60 v2.8 M82.40 648.60 v1.5 M95.10 648.60 v2.8 M107.80 648.60 v1.5 M120.50 648.60 v2.8 M133.20 648.60 v1.5 M145.90 648.60 v2.8 " stroke="#000" stroke-width="0.9" fill="none"/>
<text x="44.30" y="658.20" font-size="5.7" text-anchor="middle" font-weight="bold" fill="#000" stroke="#000" stroke-width="0.1" >0</text>
<text x="69.70" y="658.20" font-size="5.7" text-anchor="middle" font-weight="bold" fill="#000" stroke="#000" stroke-width="0.1" >2</text>
<text x="95.10" y="658.20" font-size="5.7" text-anchor="middle" font-weight="bold" fill="#000" stroke="#000" stroke-width="0.1" >4</text>
<text x="120.50" y="658.20" font-size="5.7" text-anchor="middle" font-weight="bold" fill="#000" stroke="#000" stroke-width="0.1" >6</text>
<text x="145.90" y="658.20" font-size="5.7" text-anchor="middle" font-weight="bold" fill="#000" stroke="#000" stroke-width="0.1" >8</text>
<text transform="translate(95.10,667.00) scale(1,1.2)" font-size="6.1" text-anchor="middle" font-weight="bold" fill="#000" stroke="#000" stroke-width="0.15" >Time [min]</text>
<path d="M57.60 679.40 H65.20" stroke="#ae00bc" stroke-width="0.9"/>
<circle cx="61.40" cy="679.40" r="1.7" fill="#ae00bc"/>
<text transform="translate(70.00,681.70) scale(1,1.2)" font-size="6.1" text-anchor="start" font-weight="bold" fill="#000" stroke="#000" stroke-width="0.15" >G' GEL</text>
<path d="M105.20 679.40 H112.80" stroke="#ae00bc" stroke-width="0.9"/>
<circle cx="109.00" cy="679.40" r="1.55" fill="#fff" stroke="#ae00bc" stroke-width="0.95"/>
<text transform="translate(117.60,681.70) scale(1,1.2)" font-size="6.1" text-anchor="start" font-weight="bold" fill="#000" stroke="#000" stroke-width="0.15" >G&quot; GEL</text>
<path d="M67.00 573.80 V634.30" stroke="#ae00bc" stroke-width="0.9" stroke-dasharray="1.6 1.6" fill="none"/>
<path d="M86.60 573.80 V634.30" stroke="#ae00bc" stroke-width="0.9" stroke-dasharray="1.6 1.6" fill="none"/>
<text x="55.50" y="581.40" font-size="8.3" text-anchor="middle" font-weight="bold" fill="#000" stroke="#000" stroke-width="0.15" >1</text>
<text x="76.50" y="581.40" font-size="8.3" text-anchor="middle" font-weight="bold" fill="#000" stroke="#000" stroke-width="0.15" >2</text>
<text x="103.60" y="581.40" font-size="8.3" text-anchor="middle" font-weight="bold" fill="#000" stroke="#000" stroke-width="0.15" >3</text>
<path d="M44.30 583.40 L45.30 584.90 L48.65 588.40 L48.65 589.40 L45.30 595.90 L44.30 598.90Z" fill="#d070f0" opacity="0.6"/>
<path d="M44.30 606.60 L48.65 606.60 L53.00 606.60 L57.35 606.60 L61.70 606.60 L69.60 600.00 L73.90 600.00 L78.20 600.00 L82.50 600.00 L91.00 607.50 L95.30 607.14 L99.60 606.96 L103.90 606.78 L108.20 606.60 L112.50 606.42 L116.80 606.24 L121.10 606.06 L125.40 605.88 L129.70 605.70" stroke="#ae00bc" stroke-width="0.9" fill="none" stroke-linejoin="round"/><circle cx="44.30" cy="606.60" r="1.55" fill="#fff" stroke="#ae00bc" stroke-width="0.95"/><circle cx="48.65" cy="606.60" r="1.55" fill="#fff" stroke="#ae00bc" stroke-width="0.95"/><circle cx="53.00" cy="606.60" r="1.55" fill="#fff" stroke="#ae00bc" stroke-width="0.95"/><circle cx="57.35" cy="606.60" r="1.55" fill="#fff" stroke="#ae00bc" stroke-width="0.95"/><circle cx="61.70" cy="606.60" r="1.55" fill="#fff" stroke="#ae00bc" stroke-width="0.95"/><circle cx="69.60" cy="600.00" r="1.55" fill="#fff" stroke="#ae00bc" stroke-width="0.95"/><circle cx="73.90" cy="600.00" r="1.55" fill="#fff" stroke="#ae00bc" stroke-width="0.95"/><circle cx="78.20" cy="600.00" r="1.55" fill="#fff" stroke="#ae00bc" stroke-width="0.95"/><circle cx="82.50" cy="600.00" r="1.55" fill="#fff" stroke="#ae00bc" stroke-width="0.95"/><circle cx="91.00" cy="607.50" r="1.55" fill="#fff" stroke="#ae00bc" stroke-width="0.95"/><circle cx="95.30" cy="607.14" r="1.55" fill="#fff" stroke="#ae00bc" stroke-width="0.95"/><circle cx="99.60" cy="606.96" r="1.55" fill="#fff" stroke="#ae00bc" stroke-width="0.95"/><circle cx="103.90" cy="606.78" r="1.55" fill="#fff" stroke="#ae00bc" stroke-width="0.95"/><circle cx="108.20" cy="606.60" r="1.55" fill="#fff" stroke="#ae00bc" stroke-width="0.95"/><circle cx="112.50" cy="606.42" r="1.55" fill="#fff" stroke="#ae00bc" stroke-width="0.95"/><circle cx="116.80" cy="606.24" r="1.55" fill="#fff" stroke="#ae00bc" stroke-width="0.95"/><circle cx="121.10" cy="606.06" r="1.55" fill="#fff" stroke="#ae00bc" stroke-width="0.95"/><circle cx="125.40" cy="605.88" r="1.55" fill="#fff" stroke="#ae00bc" stroke-width="0.95"/><circle cx="129.70" cy="605.70" r="1.55" fill="#fff" stroke="#ae00bc" stroke-width="0.95"/>
<path d="M44.30 588.90 L48.65 588.90 L53.00 588.90 L57.35 588.90 L61.70 588.90 L69.60 604.20 L73.90 604.20 L78.20 604.20 L82.50 604.20 L91.00 592.00 L95.30 591.26 L99.60 590.89 L103.90 590.52 L108.20 590.15 L112.50 589.78 L116.80 589.41 L121.10 589.04 L125.40 588.67 L129.70 588.30" stroke="#ae00bc" stroke-width="0.9" fill="none" stroke-linejoin="round"/><circle cx="44.30" cy="588.90" r="1.7" fill="#ae00bc"/><circle cx="48.65" cy="588.90" r="1.7" fill="#ae00bc"/><circle cx="53.00" cy="588.90" r="1.7" fill="#ae00bc"/><circle cx="57.35" cy="588.90" r="1.7" fill="#ae00bc"/><circle cx="61.70" cy="588.90" r="1.7" fill="#ae00bc"/><circle cx="69.60" cy="604.20" r="1.7" fill="#ae00bc"/><circle cx="73.90" cy="604.20" r="1.7" fill="#ae00bc"/><circle cx="78.20" cy="604.20" r="1.7" fill="#ae00bc"/><circle cx="82.50" cy="604.20" r="1.7" fill="#ae00bc"/><circle cx="91.00" cy="592.00" r="1.7" fill="#ae00bc"/><circle cx="95.30" cy="591.26" r="1.7" fill="#ae00bc"/><circle cx="99.60" cy="590.89" r="1.7" fill="#ae00bc"/><circle cx="103.90" cy="590.52" r="1.7" fill="#ae00bc"/><circle cx="108.20" cy="590.15" r="1.7" fill="#ae00bc"/><circle cx="112.50" cy="589.78" r="1.7" fill="#ae00bc"/><circle cx="116.80" cy="589.41" r="1.7" fill="#ae00bc"/><circle cx="121.10" cy="589.04" r="1.7" fill="#ae00bc"/><circle cx="125.40" cy="588.67" r="1.7" fill="#ae00bc"/><circle cx="129.70" cy="588.30" r="1.7" fill="#ae00bc"/>
<path d="M229.80 573.80 V637.61" stroke="#000" stroke-width="1.3" fill="none"/>
<path d="M229.80 637.61 h-2.6 M229.80 631.21 h-1.7 M229.80 627.46 h-1.7 M229.80 624.80 h-1.7 M229.80 622.74 h-1.7 M229.80 621.06 h-1.7 M229.80 619.63 h-1.7 M229.80 618.40 h-1.7 M229.80 617.31 h-1.7 M229.80 616.34 h-2.6 M229.80 609.94 h-1.7 M229.80 606.19 h-1.7 M229.80 603.53 h-1.7 M229.80 601.47 h-1.7 M229.80 599.79 h-1.7 M229.80 598.36 h-1.7 M229.80 597.13 h-1.7 M229.80 596.04 h-1.7 M229.80 595.07 h-2.6 M229.80 588.67 h-1.7 M229.80 584.92 h-1.7 M229.80 582.26 h-1.7 M229.80 580.20 h-1.7 M229.80 578.52 h-1.7 M229.80 577.09 h-1.7 M229.80 575.86 h-1.7 M229.80 574.77 h-1.7 M229.80 573.80 h-2.6 " stroke="#000" stroke-width="0.9" fill="none"/>
<text x="226.60" y="575.80" font-size="5.7" text-anchor="end" font-weight="bold" fill="#000" stroke="#000" stroke-width="0.1" >1000</text>
<text x="226.60" y="597.07" font-size="5.7" text-anchor="end" font-weight="bold" fill="#000" stroke="#000" stroke-width="0.1" >100</text>
<text x="226.60" y="618.34" font-size="5.7" text-anchor="end" font-weight="bold" fill="#000" stroke="#000" stroke-width="0.1" >10</text>
<text x="226.60" y="639.61" font-size="5.7" text-anchor="end" font-weight="bold" fill="#000" stroke="#000" stroke-width="0.1" >0</text>
<text transform="translate(209.40,605.80) rotate(-90)" font-size="6.5" text-anchor="middle" font-weight="bold">G', G" [Pa]</text>
<path d="M240.40 648.60 H342.00" stroke="#000" stroke-width="1.3" fill="none"/>
<path d="M240.40 648.60 v2.8 M253.10 648.60 v1.5 M265.80 648.60 v2.8 M278.50 648.60 v1.5 M291.20 648.60 v2.8 M303.90 648.60 v1.5 M316.60 648.60 v2.8 M329.30 648.60 v1.5 M342.00 648.60 v2.8 " stroke="#000" stroke-width="0.9" fill="none"/>
<text x="240.40" y="658.20" font-size="5.7" text-anchor="middle" font-weight="bold" fill="#000" stroke="#000" stroke-width="0.1" >0</text>
<text x="265.80" y="658.20" font-size="5.7" text-anchor="middle" font-weight="bold" fill="#000" stroke="#000" stroke-width="0.1" >2</text>
<text x="291.20" y="658.20" font-size="5.7" text-anchor="middle" font-weight="bold" fill="#000" stroke="#000" stroke-width="0.1" >4</text>
<text x="316.60" y="658.20" font-size="5.7" text-anchor="middle" font-weight="bold" fill="#000" stroke="#000" stroke-width="0.1" >6</text>
<text x="342.00" y="658.20" font-size="5.7" text-anchor="middle" font-weight="bold" fill="#000" stroke="#000" stroke-width="0.1" >8</text>
<text transform="translate(291.20,667.00) scale(1,1.2)" font-size="6.1" text-anchor="middle" font-weight="bold" fill="#000" stroke="#000" stroke-width="0.15" >Time [min]</text>
<path d="M253.60 679.40 H261.20" stroke="#ae00bc" stroke-width="0.9"/>
<circle cx="257.40" cy="679.40" r="1.7" fill="#ae00bc"/>
<text transform="translate(266.00,681.70) scale(1,1.2)" font-size="6.1" text-anchor="start" font-weight="bold" fill="#000" stroke="#000" stroke-width="0.15" >G' GEL</text>
<path d="M300.40 679.40 H308.00" stroke="#ae00bc" stroke-width="0.9"/>
<circle cx="304.20" cy="679.40" r="1.55" fill="#fff" stroke="#ae00bc" stroke-width="0.95"/>
<text transform="translate(312.80,681.70) scale(1,1.2)" font-size="6.1" text-anchor="start" font-weight="bold" fill="#000" stroke="#000" stroke-width="0.15" >G&quot; GEL</text>
<path d="M260.60 573.80 V634.30" stroke="#ae00bc" stroke-width="0.9" stroke-dasharray="1.6 1.6" fill="none"/>
<path d="M279.90 573.80 V634.30" stroke="#ae00bc" stroke-width="0.9" stroke-dasharray="1.6 1.6" fill="none"/>
<text x="250.90" y="582.20" font-size="8.3" text-anchor="middle" font-weight="bold" fill="#000" stroke="#000" stroke-width="0.15" >1</text>
<text x="272.50" y="582.20" font-size="8.3" text-anchor="middle" font-weight="bold" fill="#000" stroke="#000" stroke-width="0.15" >2</text>
<text x="299.60" y="582.20" font-size="8.3" text-anchor="middle" font-weight="bold" fill="#000" stroke="#000" stroke-width="0.15" >3</text>
<path d="M240.40 606.20 L244.64 606.20 L248.87 606.20 L253.11 606.20 L257.34 606.20 L261.57 598.90 L265.81 598.90 L270.05 598.90 L274.28 598.90 L278.51 598.90 L282.75 607.00 L286.99 606.80 L291.22 606.60 L295.46 606.40 L299.69 606.20 L303.93 606.00 L308.16 605.80 L312.39 605.60 L316.63 605.40 L320.87 605.20 L325.10 605.00" stroke="#ae00bc" stroke-width="0.9" fill="none" stroke-linejoin="round"/><circle cx="240.40" cy="606.20" r="1.55" fill="#fff" stroke="#ae00bc" stroke-width="0.95"/><circle cx="244.64" cy="606.20" r="1.55" fill="#fff" stroke="#ae00bc" stroke-width="0.95"/><circle cx="248.87" cy="606.20" r="1.55" fill="#fff" stroke="#ae00bc" stroke-width="0.95"/><circle cx="253.11" cy="606.20" r="1.55" fill="#fff" stroke="#ae00bc" stroke-width="0.95"/><circle cx="257.34" cy="606.20" r="1.55" fill="#fff" stroke="#ae00bc" stroke-width="0.95"/><circle cx="261.57" cy="598.90" r="1.55" fill="#fff" stroke="#ae00bc" stroke-width="0.95"/><circle cx="265.81" cy="598.90" r="1.55" fill="#fff" stroke="#ae00bc" stroke-width="0.95"/><circle cx="270.05" cy="598.90" r="1.55" fill="#fff" stroke="#ae00bc" stroke-width="0.95"/><circle cx="274.28" cy="598.90" r="1.55" fill="#fff" stroke="#ae00bc" stroke-width="0.95"/><circle cx="278.51" cy="598.90" r="1.55" fill="#fff" stroke="#ae00bc" stroke-width="0.95"/><circle cx="282.75" cy="607.00" r="1.55" fill="#fff" stroke="#ae00bc" stroke-width="0.95"/><circle cx="286.99" cy="606.80" r="1.55" fill="#fff" stroke="#ae00bc" stroke-width="0.95"/><circle cx="291.22" cy="606.60" r="1.55" fill="#fff" stroke="#ae00bc" stroke-width="0.95"/><circle cx="295.46" cy="606.40" r="1.55" fill="#fff" stroke="#ae00bc" stroke-width="0.95"/><circle cx="299.69" cy="606.20" r="1.55" fill="#fff" stroke="#ae00bc" stroke-width="0.95"/><circle cx="303.93" cy="606.00" r="1.55" fill="#fff" stroke="#ae00bc" stroke-width="0.95"/><circle cx="308.16" cy="605.80" r="1.55" fill="#fff" stroke="#ae00bc" stroke-width="0.95"/><circle cx="312.39" cy="605.60" r="1.55" fill="#fff" stroke="#ae00bc" stroke-width="0.95"/><circle cx="316.63" cy="605.40" r="1.55" fill="#fff" stroke="#ae00bc" stroke-width="0.95"/><circle cx="320.87" cy="605.20" r="1.55" fill="#fff" stroke="#ae00bc" stroke-width="0.95"/><circle cx="325.10" cy="605.00" r="1.55" fill="#fff" stroke="#ae00bc" stroke-width="0.95"/>
<path d="M240.40 587.50 L244.64 587.50 L248.87 587.50 L253.11 587.50 L257.34 587.50 L261.57 603.40 L265.81 603.40 L270.05 603.40 L274.28 603.40 L278.51 603.40 L282.75 590.70 L286.99 590.46 L291.22 590.22 L295.46 589.98 L299.69 589.74 L303.93 589.50 L308.16 589.26 L312.39 589.02 L316.63 588.78 L320.87 588.54 L325.10 588.30" stroke="#ae00bc" stroke-width="0.9" fill="none" stroke-linejoin="round"/><circle cx="240.40" cy="587.50" r="1.7" fill="#ae00bc"/><circle cx="244.64" cy="587.50" r="1.7" fill="#ae00bc"/><circle cx="248.87" cy="587.50" r="1.7" fill="#ae00bc"/><circle cx="253.11" cy="587.50" r="1.7" fill="#ae00bc"/><circle cx="257.34" cy="587.50" r="1.7" fill="#ae00bc"/><circle cx="261.57" cy="603.40" r="1.7" fill="#ae00bc"/><circle cx="265.81" cy="603.40" r="1.7" fill="#ae00bc"/><circle cx="270.05" cy="603.40" r="1.7" fill="#ae00bc"/><circle cx="274.28" cy="603.40" r="1.7" fill="#ae00bc"/><circle cx="278.51" cy="603.40" r="1.7" fill="#ae00bc"/><circle cx="282.75" cy="590.70" r="1.7" fill="#ae00bc"/><circle cx="286.99" cy="590.46" r="1.7" fill="#ae00bc"/><circle cx="291.22" cy="590.22" r="1.7" fill="#ae00bc"/><circle cx="295.46" cy="589.98" r="1.7" fill="#ae00bc"/><circle cx="299.69" cy="589.74" r="1.7" fill="#ae00bc"/><circle cx="303.93" cy="589.50" r="1.7" fill="#ae00bc"/><circle cx="308.16" cy="589.26" r="1.7" fill="#ae00bc"/><circle cx="312.39" cy="589.02" r="1.7" fill="#ae00bc"/><circle cx="316.63" cy="588.78" r="1.7" fill="#ae00bc"/><circle cx="320.87" cy="588.54" r="1.7" fill="#ae00bc"/><circle cx="325.10" cy="588.30" r="1.7" fill="#ae00bc"/>
<path d="M426.30 573.80 V637.61" stroke="#000" stroke-width="1.3" fill="none"/>
<path d="M426.30 637.61 h-2.6 M426.30 631.21 h-1.7 M426.30 627.46 h-1.7 M426.30 624.80 h-1.7 M426.30 622.74 h-1.7 M426.30 621.06 h-1.7 M426.30 619.63 h-1.7 M426.30 618.40 h-1.7 M426.30 617.31 h-1.7 M426.30 616.34 h-2.6 M426.30 609.94 h-1.7 M426.30 606.19 h-1.7 M426.30 603.53 h-1.7 M426.30 601.47 h-1.7 M426.30 599.79 h-1.7 M426.30 598.36 h-1.7 M426.30 597.13 h-1.7 M426.30 596.04 h-1.7 M426.30 595.07 h-2.6 M426.30 588.67 h-1.7 M426.30 584.92 h-1.7 M426.30 582.26 h-1.7 M426.30 580.20 h-1.7 M426.30 578.52 h-1.7 M426.30 577.09 h-1.7 M426.30 575.86 h-1.7 M426.30 574.77 h-1.7 M426.30 573.80 h-2.6 " stroke="#000" stroke-width="0.9" fill="none"/>
<text x="423.10" y="575.80" font-size="5.7" text-anchor="end" font-weight="bold" fill="#000" stroke="#000" stroke-width="0.1" >1000</text>
<text x="423.10" y="597.07" font-size="5.7" text-anchor="end" font-weight="bold" fill="#000" stroke="#000" stroke-width="0.1" >100</text>
<text x="423.10" y="618.34" font-size="5.7" text-anchor="end" font-weight="bold" fill="#000" stroke="#000" stroke-width="0.1" >10</text>
<text x="423.10" y="639.61" font-size="5.7" text-anchor="end" font-weight="bold" fill="#000" stroke="#000" stroke-width="0.1" >0</text>
<text transform="translate(405.90,605.80) rotate(-90)" font-size="6.5" text-anchor="middle" font-weight="bold">G', G" [Pa]</text>
<path d="M436.90 648.60 H538.50" stroke="#000" stroke-width="1.3" fill="none"/>
<path d="M436.90 648.60 v2.8 M449.60 648.60 v1.5 M462.30 648.60 v2.8 M475.00 648.60 v1.5 M487.70 648.60 v2.8 M500.40 648.60 v1.5 M513.10 648.60 v2.8 M525.80 648.60 v1.5 M538.50 648.60 v2.8 " stroke="#000" stroke-width="0.9" fill="none"/>
<text x="436.90" y="658.20" font-size="5.7" text-anchor="middle" font-weight="bold" fill="#000" stroke="#000" stroke-width="0.1" >0</text>
<text x="462.30" y="658.20" font-size="5.7" text-anchor="middle" font-weight="bold" fill="#000" stroke="#000" stroke-width="0.1" >2</text>
<text x="487.70" y="658.20" font-size="5.7" text-anchor="middle" font-weight="bold" fill="#000" stroke="#000" stroke-width="0.1" >4</text>
<text x="513.10" y="658.20" font-size="5.7" text-anchor="middle" font-weight="bold" fill="#000" stroke="#000" stroke-width="0.1" >6</text>
<text x="538.50" y="658.20" font-size="5.7" text-anchor="middle" font-weight="bold" fill="#000" stroke="#000" stroke-width="0.1" >8</text>
<text transform="translate(487.70,667.00) scale(1,1.2)" font-size="6.1" text-anchor="middle" font-weight="bold" fill="#000" stroke="#000" stroke-width="0.15" >Time [min]</text>
<path d="M449.60 679.40 H457.20" stroke="#ae00bc" stroke-width="0.9"/>
<circle cx="453.40" cy="679.40" r="1.7" fill="#ae00bc"/>
<text transform="translate(462.00,681.70) scale(1,1.2)" font-size="6.1" text-anchor="start" font-weight="bold" fill="#000" stroke="#000" stroke-width="0.15" >G' GEL</text>
<path d="M497.20 679.40 H504.80" stroke="#ae00bc" stroke-width="0.9"/>
<circle cx="501.00" cy="679.40" r="1.55" fill="#fff" stroke="#ae00bc" stroke-width="0.95"/>
<text transform="translate(509.60,681.70) scale(1,1.2)" font-size="6.1" text-anchor="start" font-weight="bold" fill="#000" stroke="#000" stroke-width="0.15" >G&quot; GEL</text>
<path d="M457.50 573.80 V634.30" stroke="#ae00bc" stroke-width="0.9" stroke-dasharray="1.6 1.6" fill="none"/>
<path d="M477.10 573.80 V634.30" stroke="#ae00bc" stroke-width="0.9" stroke-dasharray="1.6 1.6" fill="none"/>
<text x="447.80" y="582.20" font-size="8.3" text-anchor="middle" font-weight="bold" fill="#000" stroke="#000" stroke-width="0.15" >1</text>
<text x="469.20" y="582.20" font-size="8.3" text-anchor="middle" font-weight="bold" fill="#000" stroke="#000" stroke-width="0.15" >2</text>
<text x="496.30" y="582.20" font-size="8.3" text-anchor="middle" font-weight="bold" fill="#000" stroke="#000" stroke-width="0.15" >3</text>
<path d="M436.90 605.20 L441.14 605.20 L445.37 605.20 L449.61 605.20 L453.84 605.20 L458.08 597.80 L462.31 597.80 L466.55 597.80 L470.78 597.80 L475.02 597.80 L479.25 606.30 L483.49 606.15 L487.72 606.00 L491.96 605.85 L496.19 605.70 L500.43 605.55 L504.66 605.40 L508.90 605.25 L513.13 605.10 L517.37 604.95 L521.60 604.80" stroke="#ae00bc" stroke-width="0.9" fill="none" stroke-linejoin="round"/><circle cx="436.90" cy="605.20" r="1.55" fill="#fff" stroke="#ae00bc" stroke-width="0.95"/><circle cx="441.14" cy="605.20" r="1.55" fill="#fff" stroke="#ae00bc" stroke-width="0.95"/><circle cx="445.37" cy="605.20" r="1.55" fill="#fff" stroke="#ae00bc" stroke-width="0.95"/><circle cx="449.61" cy="605.20" r="1.55" fill="#fff" stroke="#ae00bc" stroke-width="0.95"/><circle cx="453.84" cy="605.20" r="1.55" fill="#fff" stroke="#ae00bc" stroke-width="0.95"/><circle cx="458.08" cy="597.80" r="1.55" fill="#fff" stroke="#ae00bc" stroke-width="0.95"/><circle cx="462.31" cy="597.80" r="1.55" fill="#fff" stroke="#ae00bc" stroke-width="0.95"/><circle cx="466.55" cy="597.80" r="1.55" fill="#fff" stroke="#ae00bc" stroke-width="0.95"/><circle cx="470.78" cy="597.80" r="1.55" fill="#fff" stroke="#ae00bc" stroke-width="0.95"/><circle cx="475.02" cy="597.80" r="1.55" fill="#fff" stroke="#ae00bc" stroke-width="0.95"/><circle cx="479.25" cy="606.30" r="1.55" fill="#fff" stroke="#ae00bc" stroke-width="0.95"/><circle cx="483.49" cy="606.15" r="1.55" fill="#fff" stroke="#ae00bc" stroke-width="0.95"/><circle cx="487.72" cy="606.00" r="1.55" fill="#fff" stroke="#ae00bc" stroke-width="0.95"/><circle cx="491.96" cy="605.85" r="1.55" fill="#fff" stroke="#ae00bc" stroke-width="0.95"/><circle cx="496.19" cy="605.70" r="1.55" fill="#fff" stroke="#ae00bc" stroke-width="0.95"/><circle cx="500.43" cy="605.55" r="1.55" fill="#fff" stroke="#ae00bc" stroke-width="0.95"/><circle cx="504.66" cy="605.40" r="1.55" fill="#fff" stroke="#ae00bc" stroke-width="0.95"/><circle cx="508.90" cy="605.25" r="1.55" fill="#fff" stroke="#ae00bc" stroke-width="0.95"/><circle cx="513.13" cy="605.10" r="1.55" fill="#fff" stroke="#ae00bc" stroke-width="0.95"/><circle cx="517.37" cy="604.95" r="1.55" fill="#fff" stroke="#ae00bc" stroke-width="0.95"/><circle cx="521.60" cy="604.80" r="1.55" fill="#fff" stroke="#ae00bc" stroke-width="0.95"/>
<path d="M436.90 586.50 L441.14 586.50 L445.37 586.50 L449.61 586.50 L453.84 586.50 L458.08 602.40 L462.31 602.40 L466.55 602.40 L470.78 602.40 L475.02 602.40 L479.25 589.80 L483.49 589.56 L487.72 589.32 L491.96 589.08 L496.19 588.84 L500.43 588.60 L504.66 588.36 L508.90 588.12 L513.13 587.88 L517.37 587.64 L521.60 587.40" stroke="#ae00bc" stroke-width="0.9" fill="none" stroke-linejoin="round"/><circle cx="436.90" cy="586.50" r="1.7" fill="#ae00bc"/><circle cx="441.14" cy="586.50" r="1.7" fill="#ae00bc"/><circle cx="445.37" cy="586.50" r="1.7" fill="#ae00bc"/><circle cx="449.61" cy="586.50" r="1.7" fill="#ae00bc"/><circle cx="453.84" cy="586.50" r="1.7" fill="#ae00bc"/><circle cx="458.08" cy="602.40" r="1.7" fill="#ae00bc"/><circle cx="462.31" cy="602.40" r="1.7" fill="#ae00bc"/><circle cx="466.55" cy="602.40" r="1.7" fill="#ae00bc"/><circle cx="470.78" cy="602.40" r="1.7" fill="#ae00bc"/><circle cx="475.02" cy="602.40" r="1.7" fill="#ae00bc"/><circle cx="479.25" cy="589.80" r="1.7" fill="#ae00bc"/><circle cx="483.49" cy="589.56" r="1.7" fill="#ae00bc"/><circle cx="487.72" cy="589.32" r="1.7" fill="#ae00bc"/><circle cx="491.96" cy="589.08" r="1.7" fill="#ae00bc"/><circle cx="496.19" cy="588.84" r="1.7" fill="#ae00bc"/><circle cx="500.43" cy="588.60" r="1.7" fill="#ae00bc"/><circle cx="504.66" cy="588.36" r="1.7" fill="#ae00bc"/><circle cx="508.90" cy="588.12" r="1.7" fill="#ae00bc"/><circle cx="513.13" cy="587.88" r="1.7" fill="#ae00bc"/><circle cx="517.37" cy="587.64" r="1.7" fill="#ae00bc"/><circle cx="521.60" cy="587.40" r="1.7" fill="#ae00bc"/>
<path d="M33.70 707.60 V771.41" stroke="#000" stroke-width="1.3" fill="none"/>
<path d="M33.70 771.41 h-2.6 M33.70 765.01 h-1.7 M33.70 761.26 h-1.7 M33.70 758.60 h-1.7 M33.70 756.54 h-1.7 M33.70 754.86 h-1.7 M33.70 753.43 h-1.7 M33.70 752.20 h-1.7 M33.70 751.11 h-1.7 M33.70 750.14 h-2.6 M33.70 743.74 h-1.7 M33.70 739.99 h-1.7 M33.70 737.33 h-1.7 M33.70 735.27 h-1.7 M33.70 733.59 h-1.7 M33.70 732.16 h-1.7 M33.70 730.93 h-1.7 M33.70 729.84 h-1.7 M33.70 728.87 h-2.6 M33.70 722.47 h-1.7 M33.70 718.72 h-1.7 M33.70 716.06 h-1.7 M33.70 714.00 h-1.7 M33.70 712.32 h-1.7 M33.70 710.89 h-1.7 M33.70 709.66 h-1.7 M33.70 708.57 h-1.7 M33.70 707.60 h-2.6 " stroke="#000" stroke-width="0.9" fill="none"/>
<text x="30.50" y="709.60" font-size="5.7" text-anchor="end" font-weight="bold" fill="#000" stroke="#000" stroke-width="0.1" >1000</text>
<text x="30.50" y="730.87" font-size="5.7" text-anchor="end" font-weight="bold" fill="#000" stroke="#000" stroke-width="0.1" >100</text>
<text x="30.50" y="752.14" font-size="5.7" text-anchor="end" font-weight="bold" fill="#000" stroke="#000" stroke-width="0.1" >10</text>
<text x="30.50" y="773.41" font-size="5.7" text-anchor="end" font-weight="bold" fill="#000" stroke="#000" stroke-width="0.1" >0</text>
<text transform="translate(13.30,739.60) rotate(-90)" font-size="6.5" text-anchor="middle" font-weight="bold">G', G" [Pa]</text>
<path d="M44.30 782.40 H145.90" stroke="#000" stroke-width="1.3" fill="none"/>
<path d="M44.30 782.40 v2.8 M57.00 782.40 v1.5 M69.70 782.40 v2.8 M82.40 782.40 v1.5 M95.10 782.40 v2.8 M107.80 782.40 v1.5 M120.50 782.40 v2.8 M133.20 782.40 v1.5 M145.90 782.40 v2.8 " stroke="#000" stroke-width="0.9" fill="none"/>
<text x="44.30" y="792.00" font-size="5.7" text-anchor="middle" font-weight="bold" fill="#000" stroke="#000" stroke-width="0.1" >0</text>
<text x="69.70" y="792.00" font-size="5.7" text-anchor="middle" font-weight="bold" fill="#000" stroke="#000" stroke-width="0.1" >2</text>
<text x="95.10" y="792.00" font-size="5.7" text-anchor="middle" font-weight="bold" fill="#000" stroke="#000" stroke-width="0.1" >4</text>
<text x="120.50" y="792.00" font-size="5.7" text-anchor="middle" font-weight="bold" fill="#000" stroke="#000" stroke-width="0.1" >6</text>
<text x="145.90" y="792.00" font-size="5.7" text-anchor="middle" font-weight="bold" fill="#000" stroke="#000" stroke-width="0.1" >8</text>
<text transform="translate(95.10,800.80) scale(1,1.2)" font-size="6.1" text-anchor="middle" font-weight="bold" fill="#000" stroke="#000" stroke-width="0.15" >Time [min]</text>
<path d="M58.10 813.20 H65.70" stroke="#0000ff" stroke-width="0.9"/>
<circle cx="61.90" cy="813.20" r="1.7" fill="#0000ff"/>
<text transform="translate(70.50,815.50) scale(1,1.2)" font-size="6.1" text-anchor="start" font-weight="bold" fill="#000" stroke="#000" stroke-width="0.15" >G' ALG</text>
<path d="M105.00 813.20 H112.60" stroke="#0000ff" stroke-width="0.9"/>
<circle cx="108.80" cy="813.20" r="1.55" fill="#fff" stroke="#0000ff" stroke-width="0.95"/>
<text transform="translate(117.40,815.50) scale(1,1.2)" font-size="6.1" text-anchor="start" font-weight="bold" fill="#000" stroke="#000" stroke-width="0.15" >G&quot; ALG</text>
<path d="M66.50 706.10 V766.60" stroke="#0000ff" stroke-width="0.9" stroke-dasharray="1.6 1.6" fill="none"/>
<path d="M85.70 706.10 V766.60" stroke="#0000ff" stroke-width="0.9" stroke-dasharray="1.6 1.6" fill="none"/>
<text x="55.50" y="714.90" font-size="8.3" text-anchor="middle" font-weight="bold" fill="#000" stroke="#000" stroke-width="0.15" >1</text>
<text x="76.90" y="714.90" font-size="8.3" text-anchor="middle" font-weight="bold" fill="#000" stroke="#000" stroke-width="0.15" >2</text>
<text x="104.00" y="714.90" font-size="8.3" text-anchor="middle" font-weight="bold" fill="#000" stroke="#000" stroke-width="0.15" >3</text>
<path d="M44.30 717.70 L45.30 719.20 L48.65 722.70 L48.65 723.70 L45.30 730.20 L44.30 733.20Z" fill="#7070ff" opacity="0.6"/>
<path d="M44.30 737.80 L48.65 737.50 L53.00 737.30 L57.35 737.10 L61.70 736.80 L69.60 733.40 L69.60 734.40 L61.70 745.30 L57.35 745.80 L53.00 746.30 L48.65 746.30 L44.30 746.30Z" fill="#7070ff" opacity="0.45"/>
<path d="M44.30 740.30 L48.65 740.30 L53.00 740.30 L57.35 740.30 L61.70 740.30 L69.60 733.90 L73.90 733.90 L78.20 733.90 L82.50 733.90 L91.00 742.50 L95.30 742.36 L99.60 742.29 L103.90 742.22 L108.20 742.15 L112.50 742.08 L116.80 742.01 L121.10 741.94 L125.40 741.87 L129.70 741.80" stroke="#0000ff" stroke-width="0.9" fill="none" stroke-linejoin="round"/><circle cx="44.30" cy="740.30" r="1.55" fill="#fff" stroke="#0000ff" stroke-width="0.95"/><circle cx="48.65" cy="740.30" r="1.55" fill="#fff" stroke="#0000ff" stroke-width="0.95"/><circle cx="53.00" cy="740.30" r="1.55" fill="#fff" stroke="#0000ff" stroke-width="0.95"/><circle cx="57.35" cy="740.30" r="1.55" fill="#fff" stroke="#0000ff" stroke-width="0.95"/><circle cx="61.70" cy="740.30" r="1.55" fill="#fff" stroke="#0000ff" stroke-width="0.95"/><circle cx="69.60" cy="733.90" r="1.55" fill="#fff" stroke="#0000ff" stroke-width="0.95"/><circle cx="73.90" cy="733.90" r="1.55" fill="#fff" stroke="#0000ff" stroke-width="0.95"/><circle cx="78.20" cy="733.90" r="1.55" fill="#fff" stroke="#0000ff" stroke-width="0.95"/><circle cx="82.50" cy="733.90" r="1.55" fill="#fff" stroke="#0000ff" stroke-width="0.95"/><circle cx="91.00" cy="742.50" r="1.55" fill="#fff" stroke="#0000ff" stroke-width="0.95"/><circle cx="95.30" cy="742.36" r="1.55" fill="#fff" stroke="#0000ff" stroke-width="0.95"/><circle cx="99.60" cy="742.29" r="1.55" fill="#fff" stroke="#0000ff" stroke-width="0.95"/><circle cx="103.90" cy="742.22" r="1.55" fill="#fff" stroke="#0000ff" stroke-width="0.95"/><circle cx="108.20" cy="742.15" r="1.55" fill="#fff" stroke="#0000ff" stroke-width="0.95"/><circle cx="112.50" cy="742.08" r="1.55" fill="#fff" stroke="#0000ff" stroke-width="0.95"/><circle cx="116.80" cy="742.01" r="1.55" fill="#fff" stroke="#0000ff" stroke-width="0.95"/><circle cx="121.10" cy="741.94" r="1.55" fill="#fff" stroke="#0000ff" stroke-width="0.95"/><circle cx="125.40" cy="741.87" r="1.55" fill="#fff" stroke="#0000ff" stroke-width="0.95"/><circle cx="129.70" cy="741.80" r="1.55" fill="#fff" stroke="#0000ff" stroke-width="0.95"/>
<path d="M44.30 723.20 L48.65 723.20 L53.00 723.20 L57.35 723.20 L61.70 723.20 L69.60 737.50 L73.90 737.50 L78.20 737.50 L82.50 737.50 L91.00 727.10 L95.30 726.44 L99.60 726.11 L103.90 725.78 L108.20 725.45 L112.50 725.12 L116.80 724.79 L121.10 724.46 L125.40 724.13 L129.70 723.80" stroke="#0000ff" stroke-width="0.9" fill="none" stroke-linejoin="round"/><circle cx="44.30" cy="723.20" r="1.7" fill="#0000ff"/><circle cx="48.65" cy="723.20" r="1.7" fill="#0000ff"/><circle cx="53.00" cy="723.20" r="1.7" fill="#0000ff"/><circle cx="57.35" cy="723.20" r="1.7" fill="#0000ff"/><circle cx="61.70" cy="723.20" r="1.7" fill="#0000ff"/><circle cx="69.60" cy="737.50" r="1.7" fill="#0000ff"/><circle cx="73.90" cy="737.50" r="1.7" fill="#0000ff"/><circle cx="78.20" cy="737.50" r="1.7" fill="#0000ff"/><circle cx="82.50" cy="737.50" r="1.7" fill="#0000ff"/><circle cx="91.00" cy="727.10" r="1.7" fill="#0000ff"/><circle cx="95.30" cy="726.44" r="1.7" fill="#0000ff"/><circle cx="99.60" cy="726.11" r="1.7" fill="#0000ff"/><circle cx="103.90" cy="725.78" r="1.7" fill="#0000ff"/><circle cx="108.20" cy="725.45" r="1.7" fill="#0000ff"/><circle cx="112.50" cy="725.12" r="1.7" fill="#0000ff"/><circle cx="116.80" cy="724.79" r="1.7" fill="#0000ff"/><circle cx="121.10" cy="724.46" r="1.7" fill="#0000ff"/><circle cx="125.40" cy="724.13" r="1.7" fill="#0000ff"/><circle cx="129.70" cy="723.80" r="1.7" fill="#0000ff"/>
<path d="M229.80 707.60 V771.41" stroke="#000" stroke-width="1.3" fill="none"/>
<path d="M229.80 771.41 h-2.6 M229.80 765.01 h-1.7 M229.80 761.26 h-1.7 M229.80 758.60 h-1.7 M229.80 756.54 h-1.7 M229.80 754.86 h-1.7 M229.80 753.43 h-1.7 M229.80 752.20 h-1.7 M229.80 751.11 h-1.7 M229.80 750.14 h-2.6 M229.80 743.74 h-1.7 M229.80 739.99 h-1.7 M229.80 737.33 h-1.7 M229.80 735.27 h-1.7 M229.80 733.59 h-1.7 M229.80 732.16 h-1.7 M229.80 730.93 h-1.7 M229.80 729.84 h-1.7 M229.80 728.87 h-2.6 M229.80 722.47 h-1.7 M229.80 718.72 h-1.7 M229.80 716.06 h-1.7 M229.80 714.00 h-1.7 M229.80 712.32 h-1.7 M229.80 710.89 h-1.7 M229.80 709.66 h-1.7 M229.80 708.57 h-1.7 M229.80 707.60 h-2.6 " stroke="#000" stroke-width="0.9" fill="none"/>
<text x="226.60" y="709.60" font-size="5.7" text-anchor="end" font-weight="bold" fill="#000" stroke="#000" stroke-width="0.1" >1000</text>
<text x="226.60" y="730.87" font-size="5.7" text-anchor="end" font-weight="bold" fill="#000" stroke="#000" stroke-width="0.1" >100</text>
<text x="226.60" y="752.14" font-size="5.7" text-anchor="end" font-weight="bold" fill="#000" stroke="#000" stroke-width="0.1" >10</text>
<text x="226.60" y="773.41" font-size="5.7" text-anchor="end" font-weight="bold" fill="#000" stroke="#000" stroke-width="0.1" >0</text>
<text transform="translate(209.40,739.60) rotate(-90)" font-size="6.5" text-anchor="middle" font-weight="bold">G', G" [Pa]</text>
<path d="M240.40 782.40 H342.00" stroke="#000" stroke-width="1.3" fill="none"/>
<path d="M240.40 782.40 v2.8 M253.10 782.40 v1.5 M265.80 782.40 v2.8 M278.50 782.40 v1.5 M291.20 782.40 v2.8 M303.90 782.40 v1.5 M316.60 782.40 v2.8 M329.30 782.40 v1.5 M342.00 782.40 v2.8 " stroke="#000" stroke-width="0.9" fill="none"/>
<text x="240.40" y="792.00" font-size="5.7" text-anchor="middle" font-weight="bold" fill="#000" stroke="#000" stroke-width="0.1" >0</text>
<text x="265.80" y="792.00" font-size="5.7" text-anchor="middle" font-weight="bold" fill="#000" stroke="#000" stroke-width="0.1" >2</text>
<text x="291.20" y="792.00" font-size="5.7" text-anchor="middle" font-weight="bold" fill="#000" stroke="#000" stroke-width="0.1" >4</text>
<text x="316.60" y="792.00" font-size="5.7" text-anchor="middle" font-weight="bold" fill="#000" stroke="#000" stroke-width="0.1" >6</text>
<text x="342.00" y="792.00" font-size="5.7" text-anchor="middle" font-weight="bold" fill="#000" stroke="#000" stroke-width="0.1" >8</text>
<text transform="translate(291.20,800.80) scale(1,1.2)" font-size="6.1" text-anchor="middle" font-weight="bold" fill="#000" stroke="#000" stroke-width="0.15" >Time [min]</text>
<path d="M251.70 813.20 H259.30" stroke="#0000ff" stroke-width="0.9"/>
<circle cx="255.50" cy="813.20" r="1.7" fill="#0000ff"/>
<text transform="translate(264.10,815.50) scale(1,1.2)" font-size="6.1" text-anchor="start" font-weight="bold" fill="#000" stroke="#000" stroke-width="0.15" >G' ALG</text>
<path d="M299.30 813.20 H306.90" stroke="#0000ff" stroke-width="0.9"/>
<circle cx="303.10" cy="813.20" r="1.55" fill="#fff" stroke="#0000ff" stroke-width="0.95"/>
<text transform="translate(311.70,815.50) scale(1,1.2)" font-size="6.1" text-anchor="start" font-weight="bold" fill="#000" stroke="#000" stroke-width="0.15" >G&quot; ALG</text>
<path d="M260.60 706.10 V766.60" stroke="#0000ff" stroke-width="0.9" stroke-dasharray="1.6 1.6" fill="none"/>
<path d="M279.90 706.10 V766.60" stroke="#0000ff" stroke-width="0.9" stroke-dasharray="1.6 1.6" fill="none"/>
<text x="250.90" y="714.90" font-size="8.3" text-anchor="middle" font-weight="bold" fill="#000" stroke="#000" stroke-width="0.15" >1</text>
<text x="272.50" y="714.90" font-size="8.3" text-anchor="middle" font-weight="bold" fill="#000" stroke="#000" stroke-width="0.15" >2</text>
<text x="299.60" y="714.90" font-size="8.3" text-anchor="middle" font-weight="bold" fill="#000" stroke="#000" stroke-width="0.15" >3</text>
<path d="M240.40 740.70 L244.64 740.70 L248.87 740.70 L253.11 740.70 L257.34 740.70 L261.57 733.00 L265.81 733.00 L270.05 733.00 L274.28 733.00 L278.51 733.00 L282.75 741.80 L286.99 741.65 L291.22 741.50 L295.46 741.35 L299.69 741.20 L303.93 741.05 L308.16 740.90 L312.39 740.75 L316.63 740.60 L320.87 740.45 L325.10 740.30" stroke="#0000ff" stroke-width="0.9" fill="none" stroke-linejoin="round"/><circle cx="240.40" cy="740.70" r="1.55" fill="#fff" stroke="#0000ff" stroke-width="0.95"/><circle cx="244.64" cy="740.70" r="1.55" fill="#fff" stroke="#0000ff" stroke-width="0.95"/><circle cx="248.87" cy="740.70" r="1.55" fill="#fff" stroke="#0000ff" stroke-width="0.95"/><circle cx="253.11" cy="740.70" r="1.55" fill="#fff" stroke="#0000ff" stroke-width="0.95"/><circle cx="257.34" cy="740.70" r="1.55" fill="#fff" stroke="#0000ff" stroke-width="0.95"/><circle cx="261.57" cy="733.00" r="1.55" fill="#fff" stroke="#0000ff" stroke-width="0.95"/><circle cx="265.81" cy="733.00" r="1.55" fill="#fff" stroke="#0000ff" stroke-width="0.95"/><circle cx="270.05" cy="733.00" r="1.55" fill="#fff" stroke="#0000ff" stroke-width="0.95"/><circle cx="274.28" cy="733.00" r="1.55" fill="#fff" stroke="#0000ff" stroke-width="0.95"/><circle cx="278.51" cy="733.00" r="1.55" fill="#fff" stroke="#0000ff" stroke-width="0.95"/><circle cx="282.75" cy="741.80" r="1.55" fill="#fff" stroke="#0000ff" stroke-width="0.95"/><circle cx="286.99" cy="741.65" r="1.55" fill="#fff" stroke="#0000ff" stroke-width="0.95"/><circle cx="291.22" cy="741.50" r="1.55" fill="#fff" stroke="#0000ff" stroke-width="0.95"/><circle cx="295.46" cy="741.35" r="1.55" fill="#fff" stroke="#0000ff" stroke-width="0.95"/><circle cx="299.69" cy="741.20" r="1.55" fill="#fff" stroke="#0000ff" stroke-width="0.95"/><circle cx="303.93" cy="741.05" r="1.55" fill="#fff" stroke="#0000ff" stroke-width="0.95"/><circle cx="308.16" cy="740.90" r="1.55" fill="#fff" stroke="#0000ff" stroke-width="0.95"/><circle cx="312.39" cy="740.75" r="1.55" fill="#fff" stroke="#0000ff" stroke-width="0.95"/><circle cx="316.63" cy="740.60" r="1.55" fill="#fff" stroke="#0000ff" stroke-width="0.95"/><circle cx="320.87" cy="740.45" r="1.55" fill="#fff" stroke="#0000ff" stroke-width="0.95"/><circle cx="325.10" cy="740.30" r="1.55" fill="#fff" stroke="#0000ff" stroke-width="0.95"/>
<path d="M240.40 722.00 L244.64 722.00 L248.87 722.00 L253.11 722.00 L257.34 722.00 L261.57 737.50 L265.81 737.50 L270.05 737.50 L274.28 737.50 L278.51 737.50 L282.75 725.30 L286.99 725.00 L291.22 724.70 L295.46 724.40 L299.69 724.10 L303.93 723.80 L308.16 723.50 L312.39 723.20 L316.63 722.90 L320.87 722.60 L325.10 722.30" stroke="#0000ff" stroke-width="0.9" fill="none" stroke-linejoin="round"/><circle cx="240.40" cy="722.00" r="1.7" fill="#0000ff"/><circle cx="244.64" cy="722.00" r="1.7" fill="#0000ff"/><circle cx="248.87" cy="722.00" r="1.7" fill="#0000ff"/><circle cx="253.11" cy="722.00" r="1.7" fill="#0000ff"/><circle cx="257.34" cy="722.00" r="1.7" fill="#0000ff"/><circle cx="261.57" cy="737.50" r="1.7" fill="#0000ff"/><circle cx="265.81" cy="737.50" r="1.7" fill="#0000ff"/><circle cx="270.05" cy="737.50" r="1.7" fill="#0000ff"/><circle cx="274.28" cy="737.50" r="1.7" fill="#0000ff"/><circle cx="278.51" cy="737.50" r="1.7" fill="#0000ff"/><circle cx="282.75" cy="725.30" r="1.7" fill="#0000ff"/><circle cx="286.99" cy="725.00" r="1.7" fill="#0000ff"/><circle cx="291.22" cy="724.70" r="1.7" fill="#0000ff"/><circle cx="295.46" cy="724.40" r="1.7" fill="#0000ff"/><circle cx="299.69" cy="724.10" r="1.7" fill="#0000ff"/><circle cx="303.93" cy="723.80" r="1.7" fill="#0000ff"/><circle cx="308.16" cy="723.50" r="1.7" fill="#0000ff"/><circle cx="312.39" cy="723.20" r="1.7" fill="#0000ff"/><circle cx="316.63" cy="722.90" r="1.7" fill="#0000ff"/><circle cx="320.87" cy="722.60" r="1.7" fill="#0000ff"/><circle cx="325.10" cy="722.30" r="1.7" fill="#0000ff"/>
<path d="M426.30 707.60 V771.41" stroke="#000" stroke-width="1.3" fill="none"/>
<path d="M426.30 771.41 h-2.6 M426.30 765.01 h-1.7 M426.30 761.26 h-1.7 M426.30 758.60 h-1.7 M426.30 756.54 h-1.7 M426.30 754.86 h-1.7 M426.30 753.43 h-1.7 M426.30 752.20 h-1.7 M426.30 751.11 h-1.7 M426.30 750.14 h-2.6 M426.30 743.74 h-1.7 M426.30 739.99 h-1.7 M426.30 737.33 h-1.7 M426.30 735.27 h-1.7 M426.30 733.59 h-1.7 M426.30 732.16 h-1.7 M426.30 730.93 h-1.7 M426.30 729.84 h-1.7 M426.30 728.87 h-2.6 M426.30 722.47 h-1.7 M426.30 718.72 h-1.7 M426.30 716.06 h-1.7 M426.30 714.00 h-1.7 M426.30 712.32 h-1.7 M426.30 710.89 h-1.7 M426.30 709.66 h-1.7 M426.30 708.57 h-1.7 M426.30 707.60 h-2.6 " stroke="#000" stroke-width="0.9" fill="none"/>
<text x="423.10" y="709.60" font-size="5.7" text-anchor="end" font-weight="bold" fill="#000" stroke="#000" stroke-width="0.1" >1000</text>
<text x="423.10" y="730.87" font-size="5.7" text-anchor="end" font-weight="bold" fill="#000" stroke="#000" stroke-width="0.1" >100</text>
<text x="423.10" y="752.14" font-size="5.7" text-anchor="end" font-weight="bold" fill="#000" stroke="#000" stroke-width="0.1" >10</text>
<text x="423.10" y="773.41" font-size="5.7" text-anchor="end" font-weight="bold" fill="#000" stroke="#000" stroke-width="0.1" >0</text>
<text transform="translate(405.90,739.60) rotate(-90)" font-size="6.5" text-anchor="middle" font-weight="bold">G', G" [Pa]</text>
<path d="M436.90 782.40 H538.50" stroke="#000" stroke-width="1.3" fill="none"/>
<path d="M436.90 782.40 v2.8 M449.60 782.40 v1.5 M462.30 782.40 v2.8 M475.00 782.40 v1.5 M487.70 782.40 v2.8 M500.40 782.40 v1.5 M513.10 782.40 v2.8 M525.80 782.40 v1.5 M538.50 782.40 v2.8 " stroke="#000" stroke-width="0.9" fill="none"/>
<text x="436.90" y="792.00" font-size="5.7" text-anchor="middle" font-weight="bold" fill="#000" stroke="#000" stroke-width="0.1" >0</text>
<text x="462.30" y="792.00" font-size="5.7" text-anchor="middle" font-weight="bold" fill="#000" stroke="#000" stroke-width="0.1" >2</text>
<text x="487.70" y="792.00" font-size="5.7" text-anchor="middle" font-weight="bold" fill="#000" stroke="#000" stroke-width="0.1" >4</text>
<text x="513.10" y="792.00" font-size="5.7" text-anchor="middle" font-weight="bold" fill="#000" stroke="#000" stroke-width="0.1" >6</text>
<text x="538.50" y="792.00" font-size="5.7" text-anchor="middle" font-weight="bold" fill="#000" stroke="#000" stroke-width="0.1" >8</text>
<text transform="translate(487.70,800.80) scale(1,1.2)" font-size="6.1" text-anchor="middle" font-weight="bold" fill="#000" stroke="#000" stroke-width="0.15" >Time [min]</text>
<path d="M447.40 813.20 H455.00" stroke="#0000ff" stroke-width="0.9"/>
<circle cx="451.20" cy="813.20" r="1.7" fill="#0000ff"/>
<text transform="translate(459.80,815.50) scale(1,1.2)" font-size="6.1" text-anchor="start" font-weight="bold" fill="#000" stroke="#000" stroke-width="0.15" >G' ALG</text>
<path d="M495.00 813.20 H502.60" stroke="#0000ff" stroke-width="0.9"/>
<circle cx="498.80" cy="813.20" r="1.55" fill="#fff" stroke="#0000ff" stroke-width="0.95"/>
<text transform="translate(507.40,815.50) scale(1,1.2)" font-size="6.1" text-anchor="start" font-weight="bold" fill="#000" stroke="#000" stroke-width="0.15" >G&quot; ALG</text>
<path d="M456.90 706.10 V766.60" stroke="#0000ff" stroke-width="0.9" stroke-dasharray="1.6 1.6" fill="none"/>
<path d="M475.60 706.10 V766.60" stroke="#0000ff" stroke-width="0.9" stroke-dasharray="1.6 1.6" fill="none"/>
<text x="445.90" y="715.50" font-size="8.3" text-anchor="middle" font-weight="bold" fill="#000" stroke="#000" stroke-width="0.15" >1</text>
<text x="467.00" y="715.50" font-size="8.3" text-anchor="middle" font-weight="bold" fill="#000" stroke="#000" stroke-width="0.15" >2</text>
<text x="494.50" y="715.50" font-size="8.3" text-anchor="middle" font-weight="bold" fill="#000" stroke="#000" stroke-width="0.15" >3</text>
<path d="M436.90 740.30 L441.14 740.30 L445.37 740.30 L449.61 740.30 L453.84 740.30 L458.08 732.00 L462.31 732.00 L466.55 732.00 L470.78 732.00 L475.02 732.00 L479.25 741.20 L483.49 741.02 L487.72 740.84 L491.96 740.66 L496.19 740.48 L500.43 740.30 L504.66 740.12 L508.90 739.94 L513.13 739.76 L517.37 739.58 L521.60 739.40" stroke="#0000ff" stroke-width="0.9" fill="none" stroke-linejoin="round"/><circle cx="436.90" cy="740.30" r="1.55" fill="#fff" stroke="#0000ff" stroke-width="0.95"/><circle cx="441.14" cy="740.30" r="1.55" fill="#fff" stroke="#0000ff" stroke-width="0.95"/><circle cx="445.37" cy="740.30" r="1.55" fill="#fff" stroke="#0000ff" stroke-width="0.95"/><circle cx="449.61" cy="740.30" r="1.55" fill="#fff" stroke="#0000ff" stroke-width="0.95"/><circle cx="453.84" cy="740.30" r="1.55" fill="#fff" stroke="#0000ff" stroke-width="0.95"/><circle cx="458.08" cy="732.00" r="1.55" fill="#fff" stroke="#0000ff" stroke-width="0.95"/><circle cx="462.31" cy="732.00" r="1.55" fill="#fff" stroke="#0000ff" stroke-width="0.95"/><circle cx="466.55" cy="732.00" r="1.55" fill="#fff" stroke="#0000ff" stroke-width="0.95"/><circle cx="470.78" cy="732.00" r="1.55" fill="#fff" stroke="#0000ff" stroke-width="0.95"/><circle cx="475.02" cy="732.00" r="1.55" fill="#fff" stroke="#0000ff" stroke-width="0.95"/><circle cx="479.25" cy="741.20" r="1.55" fill="#fff" stroke="#0000ff" stroke-width="0.95"/><circle cx="483.49" cy="741.02" r="1.55" fill="#fff" stroke="#0000ff" stroke-width="0.95"/><circle cx="487.72" cy="740.84" r="1.55" fill="#fff" stroke="#0000ff" stroke-width="0.95"/><circle cx="491.96" cy="740.66" r="1.55" fill="#fff" stroke="#0000ff" stroke-width="0.95"/><circle cx="496.19" cy="740.48" r="1.55" fill="#fff" stroke="#0000ff" stroke-width="0.95"/><circle cx="500.43" cy="740.30" r="1.55" fill="#fff" stroke="#0000ff" stroke-width="0.95"/><circle cx="504.66" cy="740.12" r="1.55" fill="#fff" stroke="#0000ff" stroke-width="0.95"/><circle cx="508.90" cy="739.94" r="1.55" fill="#fff" stroke="#0000ff" stroke-width="0.95"/><circle cx="513.13" cy="739.76" r="1.55" fill="#fff" stroke="#0000ff" stroke-width="0.95"/><circle cx="517.37" cy="739.58" r="1.55" fill="#fff" stroke="#0000ff" stroke-width="0.95"/><circle cx="521.60" cy="739.40" r="1.55" fill="#fff" stroke="#0000ff" stroke-width="0.95"/>
<path d="M436.90 719.80 L441.14 719.80 L445.37 719.80 L449.61 719.80 L453.84 719.80 L458.08 735.70 L462.31 735.70 L466.55 735.70 L470.78 735.70 L475.02 735.70 L479.25 723.40 L483.49 723.11 L487.72 722.82 L491.96 722.53 L496.19 722.24 L500.43 721.95 L504.66 721.66 L508.90 721.37 L513.13 721.08 L517.37 720.79 L521.60 720.50" stroke="#0000ff" stroke-width="0.9" fill="none" stroke-linejoin="round"/><circle cx="436.90" cy="719.80" r="1.7" fill="#0000ff"/><circle cx="441.14" cy="719.80" r="1.7" fill="#0000ff"/><circle cx="445.37" cy="719.80" r="1.7" fill="#0000ff"/><circle cx="449.61" cy="719.80" r="1.7" fill="#0000ff"/><circle cx="453.84" cy="719.80" r="1.7" fill="#0000ff"/><circle cx="458.08" cy="735.70" r="1.7" fill="#0000ff"/><circle cx="462.31" cy="735.70" r="1.7" fill="#0000ff"/><circle cx="466.55" cy="735.70" r="1.7" fill="#0000ff"/><circle cx="470.78" cy="735.70" r="1.7" fill="#0000ff"/><circle cx="475.02" cy="735.70" r="1.7" fill="#0000ff"/><circle cx="479.25" cy="723.40" r="1.7" fill="#0000ff"/><circle cx="483.49" cy="723.11" r="1.7" fill="#0000ff"/><circle cx="487.72" cy="722.82" r="1.7" fill="#0000ff"/><circle cx="491.96" cy="722.53" r="1.7" fill="#0000ff"/><circle cx="496.19" cy="722.24" r="1.7" fill="#0000ff"/><circle cx="500.43" cy="721.95" r="1.7" fill="#0000ff"/><circle cx="504.66" cy="721.66" r="1.7" fill="#0000ff"/><circle cx="508.90" cy="721.37" r="1.7" fill="#0000ff"/><circle cx="513.13" cy="721.08" r="1.7" fill="#0000ff"/><circle cx="517.37" cy="720.79" r="1.7" fill="#0000ff"/><circle cx="521.60" cy="720.50" r="1.7" fill="#0000ff"/>
</svg>
</body></html>
